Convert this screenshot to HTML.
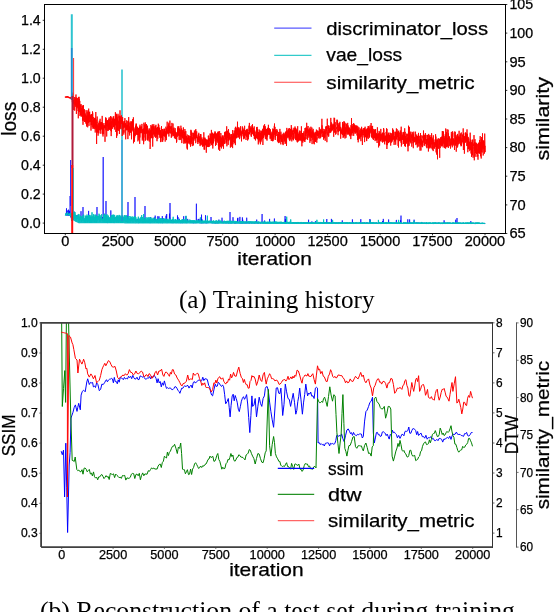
<!DOCTYPE html>
<html><head><meta charset="utf-8"><style>
html,body{margin:0;padding:0;background:#fff;width:554px;height:612px;overflow:hidden}
svg{display:block;will-change:transform}
text{font-family:"Liberation Sans", sans-serif;fill:#000;stroke:#000;stroke-width:0.25px}
</style></head><body>
<svg width="554" height="612" viewBox="0 0 554 612">
<rect width="554" height="612" fill="#fff"/>
<defs><clipPath id="ca"><rect x="44.5" y="4.5" width="461.0" height="229.0"/></clipPath><clipPath id="cb"><rect x="41.1" y="322.9" width="451.59999999999997" height="224.20000000000005"/></clipPath></defs>
<g clip-path="url(#ca)" fill="none" stroke-linejoin="round">
<path d="M65.3 214.2L65.5 214.1L65.6 214.4L65.8 215.3L66.0 214.8L66.1 214.2L66.3 214.5L66.5 208.3L66.6 214.6L66.8 215.3L67.0 215.4L67.1 215.4L67.3 214.1L67.5 215.2L67.6 210.5L67.8 214.6L68.0 215.6L68.1 215.4L68.3 214.3L68.5 209.7L68.6 215.4L68.8 214.8L69.0 215.4L69.1 214.6L69.3 214.8L69.5 210.8L69.6 215.5L69.8 215.5L70.0 214.7L70.1 196.0L70.3 213.6L70.5 213.2L70.6 213.7L70.8 217.4L71.0 215.9L71.1 216.3L71.3 217.8L71.5 220.7L71.6 219.5L71.8 218.4L72.0 213.9L72.1 216.3L72.3 218.9L72.5 219.0L72.6 216.4L72.8 218.5L73.0 215.2L73.1 220.0L73.3 214.2L73.5 216.5L73.6 219.2L73.8 211.1L74.0 215.2L74.1 214.7L74.3 219.6L74.5 217.3L74.6 218.7L74.8 217.0L75.0 216.8L75.1 219.3L75.3 220.8L75.5 221.0L75.6 216.6L75.8 219.5L76.0 216.7L76.1 216.8L76.3 217.8L76.5 221.3L76.6 215.7L76.8 220.3L77.0 216.1L77.1 215.1L77.3 218.1L77.5 217.2L77.6 217.7L77.8 219.3L78.0 216.5L78.1 221.9L78.3 220.9L78.5 222.1L78.6 218.4L78.8 220.3L79.0 218.6L79.1 222.7L79.3 222.7L79.5 222.7L79.6 218.0L79.8 220.5L80.0 222.7L80.1 222.7L80.3 219.1L80.5 222.4L80.6 219.5L80.8 222.3L81.0 211.2L81.1 221.6L81.3 218.8L81.5 221.8L81.6 222.8L81.8 222.4L82.0 218.5L82.1 221.6L82.3 219.3L82.5 222.3L82.6 221.1L82.8 220.4L83.0 207.0L83.1 217.4L83.3 221.5L83.5 221.9L83.6 222.2L83.8 219.4L84.0 219.5L84.1 222.0L84.3 222.3L84.5 222.6L84.6 222.6L84.8 218.8L85.0 218.6L85.1 220.9L85.3 218.8L85.5 220.5L85.6 220.0L85.8 217.9L86.0 220.9L86.1 220.5L86.3 216.9L86.5 216.9L86.6 219.9L86.8 220.7L87.0 222.8L87.1 221.0L87.3 221.9L87.5 221.0L87.6 222.1L87.8 216.9L88.0 222.2L88.1 216.4L88.3 222.8L88.5 221.3L88.6 210.9L88.8 221.4L89.0 222.7L89.1 219.5L89.3 218.1L89.5 222.8L89.6 219.9L89.8 222.7L90.0 218.6L90.1 220.0L90.3 218.3L90.5 217.3L90.6 218.9L90.8 218.5L91.0 221.1L91.1 221.8L91.3 217.4L91.5 221.8L91.6 217.9L91.8 220.9L92.0 222.8L92.1 220.1L92.3 218.9L92.5 219.2L92.6 216.9L92.8 221.7L93.0 221.0L93.1 219.0L93.3 220.2L93.5 220.9L93.6 217.1L93.8 222.6L94.0 219.2L94.1 222.8L94.3 218.8L94.5 219.2L94.6 221.3L94.8 221.2L95.0 220.2L95.1 217.6L95.3 222.5L95.5 221.4L95.6 221.0L95.8 221.6L96.0 222.1L96.1 220.8L96.3 221.7L96.5 220.1L96.6 221.1L96.8 218.2L97.0 207.0L97.1 220.4L97.3 217.9L97.5 220.6L97.6 221.6L97.8 220.2L98.0 218.1L98.1 220.4L98.3 218.5L98.5 221.6L98.6 219.5L98.8 220.3L99.0 219.6L99.1 221.0L99.3 222.6L99.5 222.9L99.6 215.6L99.8 222.8L100.0 221.2L100.1 221.5L100.3 219.8L100.5 217.2L100.7 221.2L100.8 221.7L101.0 219.9L101.2 220.5L101.3 222.8L101.5 218.6L101.7 221.6L101.8 220.4L102.0 219.7L102.2 217.4L102.3 221.8L102.5 220.9L102.7 217.9L102.8 217.2L103.0 219.0L103.2 157.0L103.3 222.8L103.5 220.2L103.7 221.9L103.8 220.0L104.0 219.8L104.2 221.3L104.3 218.0L104.5 218.3L104.7 222.8L104.8 217.7L105.0 218.9L105.2 218.1L105.3 221.8L105.5 221.3L105.7 218.9L105.8 217.9L106.0 201.0L106.2 219.4L106.3 221.4L106.5 220.9L106.7 220.8L106.8 221.4L107.0 217.7L107.2 218.2L107.3 222.8L107.5 222.8L107.7 222.8L107.8 222.6L108.0 222.3L108.2 222.4L108.3 222.0L108.5 221.4L108.7 219.1L108.8 220.0L109.0 222.6L109.2 219.5L109.3 220.2L109.5 222.9L109.7 217.9L109.8 222.3L110.0 220.7L110.2 220.6L110.3 222.8L110.5 222.6L110.7 222.5L110.8 210.4L111.0 217.6L111.2 217.8L111.3 222.1L111.5 221.2L111.7 220.4L111.8 222.8L112.0 222.6L112.2 220.9L112.3 222.7L112.5 221.0L112.7 220.5L112.8 222.9L113.0 218.7L113.2 221.4L113.3 220.9L113.5 219.6L113.7 217.8L113.8 222.5L114.0 222.4L114.2 219.8L114.3 217.7L114.5 222.3L114.7 220.9L114.8 222.9L115.0 222.9L115.2 217.3L115.3 218.7L115.5 219.3L115.7 222.8L115.8 219.3L116.0 219.1L116.2 221.7L116.3 218.4L116.5 216.7L116.7 222.1L116.8 222.9L117.0 222.0L117.2 219.4L117.3 217.6L117.5 217.2L117.7 218.3L117.8 219.9L118.0 222.3L118.2 221.8L118.3 222.3L118.5 220.2L118.7 222.7L118.8 218.5L119.0 219.7L119.2 218.5L119.3 219.2L119.5 219.5L119.7 221.8L119.8 217.5L120.0 218.7L120.2 222.7L120.3 222.2L120.5 222.7L120.7 219.5L120.8 221.0L121.0 222.2L121.2 219.3L121.3 222.7L121.5 217.0L121.7 217.3L121.8 222.8L122.0 219.6L122.2 220.1L122.3 221.9L122.5 221.8L122.7 217.4L122.8 222.8L123.0 217.9L123.2 220.9L123.3 220.6L123.5 220.9L123.7 218.9L123.8 222.5L124.0 222.3L124.2 222.7L124.3 221.2L124.5 222.9L124.7 217.6L124.8 221.3L125.0 221.8L125.2 218.0L125.3 218.5L125.5 222.4L125.7 222.8L125.8 219.6L126.0 221.8L126.2 218.9L126.3 221.7L126.5 222.1L126.7 221.3L126.8 222.9L127.0 215.8L127.2 222.7L127.3 219.8L127.5 222.1L127.7 219.1L127.8 218.2L128.0 202.0L128.2 222.5L128.3 223.0L128.5 218.1L128.7 222.8L128.8 219.7L129.0 223.0L129.2 218.6L129.3 220.9L129.5 220.3L129.7 220.6L129.8 222.4L130.0 222.8L130.2 219.2L130.3 221.0L130.5 220.9L130.7 222.8L130.8 218.5L131.0 220.2L131.2 221.6L131.3 222.9L131.5 221.4L131.7 218.3L131.8 219.8L132.0 223.0L132.2 219.9L132.3 219.1L132.5 222.4L132.7 219.3L132.8 218.4L133.0 221.7L133.2 222.8L133.3 221.9L133.5 218.9L133.7 221.5L133.8 222.2L134.0 221.6L134.2 219.4L134.3 220.8L134.5 222.8L134.7 222.1L134.8 222.3L135.0 197.0L135.2 221.3L135.3 222.9L135.5 223.0L135.7 222.0L135.8 221.0L136.0 221.0L136.2 221.9L136.3 221.8L136.5 222.2L136.7 222.7L136.8 222.1L137.0 220.6L137.2 222.3L137.3 219.1L137.5 221.1L137.7 222.7L137.8 221.6L138.0 222.7L138.2 222.8L138.3 222.8L138.5 222.7L138.7 222.6L138.8 218.7L139.0 223.0L139.2 221.6L139.3 220.7L139.5 222.9L139.7 222.2L139.8 221.9L140.0 221.6L140.2 220.5L140.3 221.4L140.5 221.3L140.7 222.3L140.8 223.0L141.0 220.6L141.2 221.3L141.3 221.4L141.5 221.1L141.7 219.1L141.8 220.1L142.0 221.5L142.2 222.6L142.3 222.7L142.5 221.1L142.7 220.0L142.8 220.6L143.0 220.2L143.2 222.9L143.3 222.9L143.5 221.2L143.7 220.1L143.8 222.6L144.0 218.8L144.2 221.6L144.3 223.0L144.5 221.0L144.7 218.8L144.8 218.9L145.0 206.0L145.2 221.8L145.3 219.6L145.5 222.2L145.7 219.6L145.8 221.5L146.0 222.0L146.2 223.0L146.3 222.0L146.5 220.8L146.7 222.7L146.8 221.8L147.0 222.5L147.2 222.8L147.3 222.2L147.5 222.8L147.7 221.2L147.8 220.8L148.0 222.2L148.2 222.9L148.3 222.3L148.5 222.8L148.7 221.0L148.8 219.7L149.0 223.0L149.2 221.8L149.3 221.7L149.5 223.0L149.7 219.1L149.8 222.9L150.0 222.9L150.2 223.0L150.3 222.1L150.5 220.9L150.7 217.0L150.8 222.0L151.0 222.6L151.2 220.1L151.3 222.6L151.5 221.9L151.7 220.9L151.8 223.0L152.0 222.8L152.2 221.8L152.3 222.5L152.5 222.7L152.7 219.4L152.8 223.0L153.0 222.4L153.2 222.8L153.3 222.7L153.5 219.6L153.7 222.2L153.8 221.3L154.0 221.2L154.2 219.8L154.3 219.7L154.5 222.3L154.7 217.5L154.8 222.9L155.0 221.0L155.2 215.6L155.3 223.0L155.5 220.5L155.7 219.4L155.8 220.9L156.0 220.5L156.2 219.7L156.3 222.3L156.5 220.0L156.7 221.8L156.8 221.7L157.0 223.0L157.2 222.5L157.3 222.1L157.5 221.6L157.7 222.7L157.8 216.2L158.0 220.1L158.2 222.9L158.3 222.9L158.5 223.0L158.7 222.8L158.8 220.6L159.0 216.4L159.2 221.4L159.3 221.6L159.5 219.7L159.7 222.1L159.8 222.7L160.0 221.8L160.2 222.3L160.3 222.9L160.5 220.2L160.7 222.4L160.8 223.1L161.0 220.4L161.2 220.4L161.3 222.2L161.5 220.6L161.7 221.9L161.8 221.4L162.0 222.0L162.2 222.9L162.3 216.1L162.5 223.1L162.7 223.1L162.8 222.1L163.0 222.8L163.2 220.5L163.3 220.3L163.5 222.5L163.7 223.0L163.8 218.6L164.0 222.3L164.2 219.8L164.3 222.3L164.5 221.4L164.7 219.9L164.8 220.2L165.0 222.9L165.2 222.1L165.3 221.8L165.5 220.9L165.7 220.5L165.8 220.3L166.0 215.7L166.2 220.7L166.3 220.4L166.5 223.0L166.7 214.0L166.8 222.5L167.0 223.1L167.2 222.6L167.3 221.4L167.5 222.3L167.7 221.6L167.8 220.8L168.0 222.5L168.2 222.8L168.3 221.0L168.5 223.0L168.7 220.2L168.8 220.7L169.0 222.5L169.2 222.0L169.3 221.1L169.5 213.6L169.7 220.0L169.8 222.0L170.0 203.0L170.2 216.7L170.4 220.0L170.5 222.7L170.7 222.8L170.9 220.5L171.0 221.1L171.2 222.0L171.4 221.5L171.5 220.3L171.7 222.1L171.9 223.1L172.0 220.0L172.2 220.2L172.4 220.5L172.5 222.8L172.7 222.6L172.9 223.1L173.0 221.8L173.2 220.4L173.4 221.9L173.5 223.0L173.7 223.0L173.9 221.1L174.0 222.8L174.2 221.1L174.4 221.7L174.5 222.4L174.7 222.2L174.9 220.9L175.0 220.3L175.2 222.9L175.4 221.1L175.5 221.7L175.7 222.8L175.9 222.9L176.0 222.8L176.2 220.4L176.4 221.3L176.5 223.1L176.7 222.3L176.9 221.3L177.0 222.9L177.2 222.3L177.4 222.6L177.5 215.4L177.7 223.0L177.9 221.6L178.0 217.1L178.2 222.1L178.4 222.9L178.5 221.8L178.7 223.1L178.9 222.8L179.0 221.2L179.2 223.0L179.4 218.8L179.5 221.8L179.7 221.9L179.9 223.1L180.0 222.0L180.2 220.6L180.4 223.0L180.5 222.5L180.7 223.1L180.9 221.6L181.0 223.1L181.2 222.5L181.4 222.9L181.5 221.3L181.7 222.9L181.9 222.7L182.0 221.6L182.2 223.1L182.4 222.0L182.5 223.0L182.7 222.9L182.9 220.5L183.0 223.1L183.2 222.8L183.4 222.6L183.5 221.5L183.7 216.2L183.9 223.0L184.0 222.8L184.2 221.9L184.4 220.6L184.5 222.0L184.7 223.1L184.9 222.5L185.0 222.1L185.2 221.3L185.4 220.6L185.5 223.0L185.7 221.2L185.9 216.1L186.0 221.8L186.2 222.1L186.4 221.8L186.5 222.7L186.7 223.1L186.9 222.8L187.0 223.1L187.2 221.4L187.4 222.8L187.5 220.9L187.7 218.9L187.9 221.7L188.0 222.2L188.2 221.1L188.4 221.5L188.5 223.0L188.7 221.7L188.9 221.3L189.0 221.7L189.2 221.3L189.4 221.8L189.5 222.4L189.7 223.1L189.9 222.9L190.0 221.7L190.2 222.8L190.4 221.5L190.5 221.4L190.7 220.8L190.9 221.1L191.0 220.8L191.2 222.9L191.4 223.1L191.5 221.3L191.7 222.7L191.9 221.2L192.0 221.7L192.2 220.9L192.4 223.0L192.5 222.8L192.7 221.8L192.9 223.2L193.0 221.9L193.2 222.2L193.4 222.4L193.5 223.1L193.7 221.7L193.9 223.2L194.0 221.8L194.2 221.5L194.4 222.9L194.5 221.3L194.7 222.9L194.9 222.7L195.0 221.5L195.2 221.3L195.4 221.2L195.5 221.7L195.7 223.2L195.9 221.4L196.0 221.4L196.2 221.2L196.4 203.7L196.5 223.1L196.7 221.6L196.9 222.9L197.0 222.6L197.2 221.3L197.4 223.0L197.5 222.9L197.7 222.8L197.9 221.6L198.0 221.2L198.2 218.9L198.4 222.9L198.5 221.7L198.7 223.0L198.9 219.4L199.0 222.5L199.2 221.6L199.4 222.9L199.5 222.4L199.7 222.2L199.9 223.2L200.0 223.2L200.2 218.7L200.4 223.2L200.5 222.7L200.7 222.3L200.9 222.5L201.0 222.1L201.2 222.3L201.4 221.9L201.5 214.6L201.7 223.2L201.9 219.2L202.0 223.2L202.2 222.3L202.4 223.1L202.5 222.5L202.7 222.9L202.9 222.6L203.0 222.6L203.2 222.3L203.4 223.2L203.5 222.5L203.7 222.9L203.9 222.4L204.0 222.7L204.2 223.2L204.4 222.6L204.5 222.4L204.7 221.6L204.9 222.5L205.0 222.9L205.2 223.2L205.4 223.1L205.5 215.2L205.7 222.4L205.9 221.4L206.0 223.2L206.2 223.1L206.4 221.5L206.5 223.2L206.7 222.6L206.9 222.1L207.0 222.4L207.2 222.1L207.4 223.2L207.5 222.4L207.7 222.4L207.9 221.8L208.0 222.6L208.2 222.9L208.4 222.6L208.5 223.1L208.7 221.9L208.9 222.4L209.0 223.0L209.2 222.1L209.4 222.9L209.5 222.5L209.7 221.3L209.9 221.4L210.0 222.6L210.2 223.0L210.4 222.0L210.5 221.3L210.7 221.6L210.9 222.3L211.0 217.0L211.2 221.3L211.4 222.9L211.5 223.2L211.7 222.0L211.9 221.5L212.0 222.4L212.2 222.9L212.4 222.8L212.5 223.2L212.7 222.0L212.9 221.3L213.0 223.1L213.2 222.4L213.4 222.7L213.5 222.3L213.7 221.4L213.9 221.8L214.0 222.3L214.2 223.2L214.4 222.9L214.5 222.9L214.7 222.1L214.9 223.2L215.0 223.0L215.2 223.2L215.4 222.1L215.5 223.3L215.7 222.8L215.9 222.9L216.0 221.6L216.2 223.2L216.4 222.0L216.5 222.7L216.7 222.9L216.9 223.3L217.0 222.8L217.2 221.4L217.4 222.0L217.5 223.1L217.7 223.2L217.9 222.5L218.0 222.3L218.2 221.6L218.4 221.5L218.5 221.7L218.7 223.2L218.9 219.6L219.0 223.1L219.2 222.4L219.4 223.0L219.5 222.7L219.7 221.7L219.9 223.0L220.0 221.7L220.2 222.4L220.4 223.0L220.5 222.2L220.7 222.3L220.9 222.8L221.0 221.8L221.2 222.0L221.4 222.4L221.5 222.2L221.7 221.9L221.9 222.5L222.0 217.7L222.2 222.6L222.4 222.7L222.5 222.9L222.7 222.9L222.9 221.9L223.0 222.9L223.2 222.5L223.4 222.9L223.5 222.4L223.7 223.2L223.9 223.3L224.0 222.9L224.2 223.0L224.4 221.8L224.5 222.0L224.7 221.8L224.9 222.7L225.0 222.3L225.2 222.1L225.4 223.0L225.5 223.2L225.7 221.5L225.9 221.6L226.0 223.3L226.2 223.2L226.4 221.9L226.5 222.3L226.7 222.0L226.9 222.7L227.0 223.1L227.2 223.2L227.4 221.7L227.5 222.6L227.7 222.6L227.9 222.4L228.0 222.3L228.2 223.0L228.4 223.3L228.5 221.7L228.7 223.2L228.9 222.2L229.0 222.8L229.2 223.0L229.4 221.7L229.5 222.2L229.7 222.1L229.9 223.0L230.0 212.0L230.2 222.9L230.4 222.1L230.5 221.9L230.7 223.3L230.9 222.0L231.0 223.0L231.2 223.3L231.4 222.3L231.5 222.0L231.7 223.1L231.9 222.3L232.0 222.4L232.2 222.6L232.4 221.8L232.5 222.2L232.7 222.6L232.9 221.6L233.0 217.2L233.2 222.4L233.4 222.4L233.5 222.3L233.7 222.1L233.9 222.7L234.0 223.2L234.2 222.4L234.4 223.3L234.5 222.0L234.7 222.3L234.9 223.3L235.0 222.3L235.2 223.2L235.4 222.1L235.5 223.3L235.7 223.3L235.9 222.9L236.0 222.9L236.2 222.9L236.4 223.3L236.5 223.3L236.7 222.8L236.9 222.4L237.0 221.7L237.2 222.1L237.4 223.0L237.5 218.4L237.7 222.3L237.9 217.8L238.0 222.5L238.2 222.9L238.4 222.3L238.5 223.0L238.7 223.3L238.9 222.8L239.0 222.8L239.2 222.6L239.4 223.1L239.5 223.0L239.7 222.2L239.9 216.9L240.0 223.3L240.2 222.8L240.4 222.2L240.6 223.3L240.7 222.8L240.9 223.2L241.1 222.7L241.2 222.9L241.4 222.5L241.6 222.5L241.7 223.3L241.9 223.0L242.1 223.3L242.2 221.8L242.4 217.4L242.6 223.2L242.7 219.7L242.9 223.3L243.1 222.7L243.2 223.2L243.4 222.3L243.6 221.8L243.7 222.1L243.9 223.1L244.1 223.2L244.2 223.3L244.4 222.4L244.6 223.3L244.7 221.7L244.9 222.2L245.1 222.4L245.2 221.9L245.4 223.4L245.6 223.3L245.7 222.8L245.9 222.5L246.1 223.3L246.2 222.7L246.4 223.4L246.6 223.0L246.7 217.7L246.9 222.2L247.1 222.3L247.2 222.2L247.4 223.0L247.6 223.3L247.7 222.3L247.9 222.9L248.1 223.3L248.2 223.4L248.4 223.1L248.6 222.6L248.7 222.8L248.9 223.0L249.1 223.4L249.2 222.8L249.4 221.8L249.6 223.3L249.7 222.3L249.9 223.4L250.1 222.3L250.2 223.0L250.4 222.4L250.6 222.6L250.7 223.1L250.9 222.2L251.1 222.9L251.2 221.8L251.4 222.3L251.6 223.4L251.7 222.4L251.9 222.7L252.1 222.0L252.2 222.7L252.4 222.6L252.6 222.7L252.7 223.2L252.9 222.9L253.1 222.1L253.2 223.3L253.4 223.0L253.6 222.3L253.7 222.1L253.9 223.3L254.1 223.2L254.2 222.4L254.4 222.4L254.6 223.2L254.7 223.3L254.9 223.4L255.1 222.0L255.2 222.0L255.4 223.4L255.6 223.1L255.7 223.2L255.9 223.0L256.1 222.8L256.2 222.9L256.4 222.8L256.6 222.8L256.7 219.6L256.9 222.1L257.1 223.2L257.2 223.3L257.4 222.2L257.6 222.9L257.7 223.4L257.9 222.5L258.1 222.8L258.2 222.5L258.4 223.2L258.6 222.2L258.7 223.3L258.9 222.3L259.1 223.2L259.2 222.2L259.4 222.3L259.6 222.4L259.7 222.5L259.9 222.4L260.1 222.4L260.2 222.5L260.4 223.4L260.6 223.1L260.7 222.2L260.9 223.4L261.1 223.3L261.2 222.3L261.4 222.2L261.6 222.4L261.7 222.6L261.9 222.8L262.1 214.0L262.2 223.1L262.4 223.3L262.6 223.0L262.7 222.8L262.9 222.9L263.1 222.0L263.2 222.3L263.4 222.8L263.6 223.4L263.7 223.2L263.9 223.4L264.1 223.3L264.2 223.1L264.4 223.4L264.6 220.5L264.7 222.0L264.9 223.0L265.1 223.4L265.2 222.3L265.4 223.0L265.6 222.1L265.7 222.7L265.9 222.7L266.1 222.4L266.2 223.4L266.4 222.9L266.6 222.4L266.7 223.5L266.9 222.6L267.1 222.9L267.2 223.3L267.4 223.3L267.6 222.1L267.7 222.2L267.9 222.2L268.1 223.4L268.2 222.7L268.4 222.9L268.6 223.4L268.7 222.5L268.9 223.4L269.1 222.5L269.2 223.4L269.4 222.2L269.6 218.9L269.7 223.0L269.9 223.1L270.1 222.9L270.2 223.5L270.4 222.3L270.6 222.5L270.7 222.4L270.9 222.3L271.1 222.7L271.2 222.8L271.4 222.5L271.6 223.2L271.7 222.3L271.9 223.3L272.1 222.8L272.2 222.9L272.4 222.5L272.6 222.3L272.7 223.2L272.9 223.0L273.1 223.2L273.2 223.2L273.4 222.2L273.6 222.8L273.7 222.6L273.9 223.4L274.1 222.4L274.2 222.5L274.4 218.5L274.6 223.3L274.7 222.9L274.9 222.8L275.1 223.2L275.2 222.3L275.4 222.5L275.6 223.1L275.7 223.5L275.9 223.3L276.1 223.3L276.2 222.8L276.4 222.9L276.6 222.2L276.7 222.9L276.9 223.2L277.1 223.0L277.2 222.6L277.4 222.7L277.6 222.4L277.7 223.2L277.9 222.9L278.1 222.6L278.2 223.5L278.4 223.1L278.6 222.8L278.7 222.5L278.9 222.2L279.1 223.5L279.2 222.3L279.4 223.5L279.6 222.7L279.7 223.5L279.9 223.5L280.1 223.2L280.2 222.5L280.4 223.3L280.6 223.5L280.7 223.1L280.9 223.2L281.1 223.5L281.2 223.5L281.4 222.7L281.6 223.3L281.7 223.3L281.9 223.1L282.1 223.5L282.2 222.7L282.4 222.9L282.6 223.4L282.7 222.9L282.9 223.2L283.1 223.2L283.2 223.1L283.4 222.5L283.6 223.5L283.7 223.5L283.9 223.3L284.1 223.4L284.2 223.1L284.4 222.7L284.6 223.1L284.7 223.3L284.9 222.9L285.1 216.0L285.2 222.4L285.4 219.1L285.6 222.4L285.7 223.5L285.9 222.7L286.1 223.5L286.2 223.4L286.4 222.3L286.6 222.4L286.7 223.3L286.9 222.6L287.1 223.2L287.2 223.5L287.4 223.5L287.6 223.3L287.7 223.3L287.9 223.0L288.1 222.9L288.2 222.4L288.4 223.2L288.6 222.7L288.7 222.8L288.9 223.3L289.1 223.5L289.2 223.0L289.4 222.6L289.6 223.2L289.7 223.5L289.9 223.5L290.1 223.4L290.2 222.4L290.4 222.6L290.6 222.5L290.7 223.4L290.9 223.3L291.1 222.9L291.2 223.5L291.4 223.5L291.6 223.5L291.7 223.2L291.9 223.0L292.1 223.4L292.2 222.8L292.4 223.1L292.6 223.3L292.7 223.4L292.9 222.8L293.1 223.3L293.2 222.6L293.4 222.4L293.6 222.9L293.7 222.8L293.9 223.2L294.1 222.7L294.2 223.4L294.4 223.5L294.6 222.9L294.7 222.9L294.9 223.4L295.1 222.9L295.2 222.6L295.4 223.4L295.6 222.9L295.7 223.2L295.9 223.3L296.1 222.5L296.2 223.0L296.4 223.6L296.6 222.9L296.7 222.7L296.9 223.2L297.1 223.6L297.2 222.8L297.4 223.3L297.6 222.8L297.7 223.3L297.9 223.3L298.1 222.9L298.2 223.4L298.4 222.7L298.6 223.4L298.7 222.7L298.9 222.8L299.1 223.4L299.2 222.9L299.4 223.1L299.6 223.4L299.7 223.1L299.9 223.5L300.1 223.6L300.2 222.5L300.4 222.9L300.6 222.8L300.7 223.4L300.9 223.6L301.1 223.6L301.2 223.4L301.4 223.5L301.6 223.2L301.7 223.4L301.9 222.6L302.1 223.3L302.2 223.4L302.4 223.4L302.6 223.5L302.7 223.6L302.9 223.0L303.1 223.4L303.2 223.3L303.4 222.6L303.6 222.9L303.7 222.6L303.9 223.0L304.1 222.8L304.2 222.9L304.4 223.3L304.6 222.7L304.7 223.4L304.9 223.4L305.1 223.1L305.2 223.1L305.4 223.0L305.6 223.1L305.7 223.6L305.9 222.8L306.1 222.9L306.2 222.6L306.4 223.4L306.6 223.5L306.7 222.9L306.9 223.6L307.1 223.4L307.2 222.5L307.4 223.4L307.6 223.2L307.7 223.3L307.9 222.9L308.1 223.0L308.2 223.4L308.4 222.9L308.6 219.7L308.7 223.3L308.9 223.4L309.1 223.3L309.2 223.3L309.4 223.6L309.6 223.6L309.7 223.5L309.9 223.0L310.1 222.6L310.3 223.6L310.4 223.6L310.6 223.2L310.8 222.8L310.9 222.7L311.1 223.5L311.3 223.4L311.4 223.0L311.6 222.8L311.8 222.7L311.9 221.4L312.1 223.0L312.3 223.1L312.4 223.5L312.6 222.9L312.8 223.5L312.9 223.0L313.1 223.3L313.3 222.9L313.4 222.8L313.6 223.5L313.8 223.2L313.9 222.7L314.1 223.0L314.3 223.3L314.4 223.5L314.6 223.5L314.8 223.2L314.9 222.8L315.1 222.8L315.3 222.8L315.4 221.1L315.6 222.6L315.8 223.2L315.9 223.2L316.1 222.6L316.3 222.8L316.4 222.8L316.6 223.4L316.8 223.2L316.9 223.6L317.1 222.8L317.3 223.5L317.4 223.0L317.6 223.6L317.8 223.4L317.9 223.6L318.1 223.4L318.3 223.1L318.4 223.2L318.6 223.6L318.8 223.2L318.9 223.6L319.1 223.3L319.3 222.8L319.4 223.1L319.6 223.4L319.8 223.0L319.9 223.1L320.1 223.3L320.3 223.3L320.4 223.0L320.6 223.1L320.8 223.0L320.9 223.6L321.1 222.6L321.3 222.7L321.4 223.5L321.6 222.9L321.8 223.4L321.9 222.8L322.1 223.2L322.3 223.1L322.4 223.1L322.6 223.1L322.8 223.1L322.9 223.0L323.1 223.3L323.3 223.2L323.4 223.6L323.6 223.1L323.8 223.4L323.9 223.6L324.1 222.9L324.3 223.0L324.4 223.4L324.6 223.0L324.8 222.5L324.9 223.6L325.1 222.9L325.3 222.5L325.4 223.6L325.6 223.5L325.8 223.4L325.9 222.6L326.1 223.6L326.3 223.2L326.4 223.5L326.6 223.6L326.8 219.0L326.9 223.3L327.1 223.4L327.3 223.4L327.4 222.8L327.6 223.3L327.8 223.4L327.9 223.2L328.1 223.2L328.3 223.0L328.4 223.1L328.6 223.3L328.8 222.5L328.9 222.6L329.1 223.0L329.3 222.8L329.4 223.5L329.6 222.6L329.8 222.7L329.9 223.2L330.1 223.5L330.3 223.2L330.4 222.9L330.6 223.2L330.8 223.2L330.9 223.3L331.1 223.1L331.3 222.8L331.4 218.9L331.6 223.5L331.8 222.8L331.9 223.1L332.1 223.4L332.3 222.8L332.4 223.5L332.6 223.6L332.8 222.9L332.9 222.6L333.1 223.4L333.3 223.2L333.4 223.4L333.6 223.1L333.8 222.8L333.9 222.7L334.1 223.0L334.3 223.0L334.4 223.4L334.6 223.3L334.8 223.6L334.9 223.5L335.1 223.5L335.3 223.1L335.4 223.1L335.6 223.6L335.8 223.5L335.9 223.0L336.1 222.8L336.3 223.0L336.4 223.2L336.6 223.6L336.8 223.3L336.9 222.6L337.1 223.6L337.3 223.5L337.4 222.8L337.6 222.9L337.8 222.8L337.9 223.3L338.1 223.6L338.3 222.9L338.4 222.7L338.6 223.2L338.8 223.4L338.9 223.6L339.1 223.5L339.3 223.2L339.4 222.9L339.6 223.6L339.8 223.3L339.9 223.6L340.1 223.2L340.3 223.2L340.4 223.3L340.6 223.5L340.8 223.6L340.9 222.7L341.1 222.7L341.3 223.2L341.4 222.6L341.6 223.4L341.8 223.4L341.9 223.4L342.1 223.6L342.3 220.4L342.4 223.3L342.6 223.0L342.8 223.4L342.9 223.4L343.1 222.9L343.3 223.3L343.4 223.1L343.6 223.3L343.8 223.5L343.9 223.4L344.1 223.2L344.3 222.8L344.4 223.4L344.6 223.6L344.8 223.6L344.9 222.6L345.1 223.1L345.3 222.8L345.4 222.9L345.6 223.2L345.8 223.5L345.9 223.3L346.1 223.6L346.3 223.2L346.4 222.7L346.6 223.3L346.8 223.3L346.9 223.5L347.1 222.8L347.3 222.7L347.4 223.2L347.6 223.3L347.8 223.6L347.9 223.1L348.1 223.5L348.3 223.5L348.4 223.4L348.6 223.5L348.8 223.0L348.9 223.1L349.1 222.8L349.3 222.9L349.4 222.9L349.6 223.5L349.8 223.2L349.9 222.8L350.1 223.1L350.3 223.5L350.4 223.0L350.6 223.4L350.8 223.1L350.9 222.8L351.1 223.2L351.3 223.3L351.4 223.3L351.6 223.1L351.8 222.7L351.9 223.3L352.1 223.1L352.3 223.0L352.4 219.4L352.6 223.6L352.8 223.2L352.9 223.6L353.1 223.6L353.3 223.6L353.4 222.6L353.6 223.1L353.8 222.9L353.9 223.2L354.1 223.1L354.3 223.4L354.4 223.1L354.6 223.5L354.8 223.2L354.9 223.2L355.1 223.2L355.3 223.6L355.4 223.2L355.6 223.5L355.8 223.6L355.9 222.9L356.1 223.6L356.3 222.7L356.4 223.3L356.6 223.4L356.8 223.6L356.9 223.6L357.1 223.0L357.3 223.0L357.4 223.4L357.6 222.8L357.8 223.5L357.9 223.2L358.1 223.6L358.3 223.4L358.4 223.0L358.6 223.3L358.8 223.5L358.9 223.3L359.1 222.8L359.3 223.2L359.4 223.5L359.6 222.8L359.8 223.6L359.9 223.0L360.1 223.3L360.3 223.2L360.4 223.5L360.6 223.5L360.8 219.2L360.9 223.2L361.1 223.0L361.3 223.6L361.4 223.5L361.6 223.3L361.8 222.7L361.9 223.3L362.1 223.2L362.3 223.2L362.4 223.6L362.6 223.2L362.8 223.6L362.9 222.9L363.1 222.9L363.3 222.9L363.4 223.5L363.6 223.3L363.8 223.6L363.9 223.2L364.1 223.5L364.3 222.9L364.4 223.2L364.6 223.5L364.8 223.2L364.9 223.4L365.1 223.1L365.3 222.8L365.4 223.6L365.6 223.5L365.8 222.8L365.9 223.6L366.1 223.2L366.3 222.7L366.4 223.5L366.6 222.8L366.8 223.5L366.9 223.2L367.1 223.1L367.3 223.6L367.4 222.8L367.6 222.9L367.8 223.6L367.9 223.3L368.1 222.7L368.3 223.4L368.4 223.3L368.6 223.5L368.8 223.6L368.9 223.6L369.1 223.1L369.3 223.5L369.4 222.7L369.6 222.8L369.8 223.0L369.9 219.0L370.1 223.0L370.3 219.9L370.4 222.7L370.6 222.7L370.8 223.2L370.9 223.2L371.1 223.0L371.3 223.6L371.4 223.0L371.6 223.4L371.8 223.6L371.9 223.3L372.1 222.7L372.3 223.2L372.4 223.5L372.6 223.3L372.8 222.9L372.9 223.6L373.1 222.7L373.3 223.6L373.4 223.6L373.6 223.6L373.8 222.8L373.9 223.2L374.1 223.1L374.3 223.4L374.4 223.6L374.6 223.4L374.8 223.6L374.9 223.2L375.1 223.1L375.3 223.2L375.4 223.4L375.6 223.5L375.8 223.1L375.9 223.6L376.1 222.7L376.3 223.3L376.4 223.2L376.6 222.9L376.8 223.6L376.9 222.8L377.1 222.8L377.3 223.4L377.4 223.6L377.6 222.9L377.8 223.6L377.9 223.0L378.1 223.0L378.3 223.6L378.4 223.6L378.6 223.6L378.8 223.0L378.9 223.4L379.1 222.7L379.3 223.6L379.4 222.7L379.6 222.7L379.8 223.5L379.9 223.6L380.1 222.9L380.3 223.1L380.5 223.0L380.6 223.6L380.8 223.6L381.0 223.5L381.1 222.8L381.3 223.6L381.5 222.9L381.6 223.6L381.8 223.5L382.0 223.2L382.1 222.8L382.3 223.2L382.5 223.2L382.6 221.0L382.8 223.1L383.0 222.9L383.1 223.5L383.3 218.9L383.5 222.7L383.6 223.0L383.8 223.6L384.0 223.4L384.1 222.9L384.3 223.5L384.5 223.3L384.6 223.5L384.8 223.6L385.0 223.2L385.1 223.4L385.3 222.9L385.5 223.6L385.6 222.8L385.8 223.4L386.0 223.0L386.1 223.5L386.3 223.6L386.5 223.6L386.6 223.5L386.8 223.5L387.0 223.2L387.1 223.2L387.3 222.8L387.5 223.2L387.6 223.2L387.8 223.5L388.0 223.6L388.1 223.2L388.3 223.6L388.5 222.7L388.6 219.5L388.8 223.6L389.0 223.4L389.1 223.6L389.3 223.6L389.5 223.4L389.6 222.8L389.8 223.6L390.0 222.7L390.1 223.4L390.3 223.5L390.5 222.8L390.6 223.5L390.8 223.6L391.0 222.8L391.1 222.8L391.3 223.0L391.5 223.0L391.6 223.3L391.8 222.9L392.0 223.4L392.1 223.3L392.3 223.6L392.5 223.3L392.6 223.1L392.8 223.5L393.0 223.6L393.1 223.6L393.3 223.3L393.5 223.6L393.6 223.4L393.8 223.2L394.0 223.6L394.1 223.0L394.3 223.6L394.5 223.6L394.6 223.1L394.8 222.8L395.0 223.6L395.1 223.1L395.3 223.3L395.5 223.6L395.6 223.2L395.8 223.4L396.0 223.4L396.1 222.9L396.3 220.1L396.5 219.9L396.6 223.6L396.8 222.8L397.0 223.5L397.1 223.3L397.3 223.6L397.5 223.6L397.6 223.3L397.8 223.0L398.0 223.0L398.1 223.3L398.3 223.5L398.5 223.2L398.6 223.4L398.8 223.6L399.0 223.0L399.1 223.0L399.3 223.6L399.5 223.6L399.6 223.0L399.8 223.0L400.0 223.6L400.1 223.4L400.3 223.1L400.5 223.5L400.6 220.3L400.8 223.6L401.0 215.6L401.1 223.6L401.3 223.1L401.5 223.7L401.6 223.1L401.8 223.4L402.0 223.1L402.1 223.6L402.3 222.9L402.5 223.1L402.6 223.6L402.8 222.9L403.0 223.6L403.1 223.4L403.3 223.5L403.5 223.0L403.6 223.0L403.8 223.6L404.0 222.9L404.1 223.6L404.3 223.1L404.5 223.6L404.6 223.4L404.8 223.6L405.0 223.1L405.1 223.4L405.3 223.3L405.5 222.7L405.6 222.9L405.8 223.6L406.0 223.4L406.1 223.2L406.3 223.5L406.5 223.6L406.6 223.5L406.8 223.5L407.0 223.6L407.1 223.6L407.3 223.6L407.5 222.9L407.6 221.6L407.8 219.3L408.0 223.0L408.1 222.9L408.3 223.2L408.5 222.9L408.6 223.6L408.8 223.6L409.0 223.2L409.1 223.4L409.3 223.6L409.5 223.4L409.6 219.4L409.8 222.9L410.0 223.4L410.1 222.9L410.3 223.6L410.5 222.9L410.6 222.9L410.8 223.6L411.0 223.0L411.1 223.0L411.3 223.0L411.5 222.8L411.6 223.4L411.8 223.3L412.0 223.5L412.1 223.3L412.3 222.8L412.5 223.2L412.6 223.0L412.8 222.9L413.0 223.2L413.1 223.3L413.3 223.6L413.5 223.2L413.6 223.2L413.8 223.7L414.0 223.7L414.1 219.7L414.3 223.7L414.5 223.0L414.6 223.2L414.8 222.9L415.0 223.3L415.1 223.3L415.3 223.6L415.5 223.2L415.6 222.9L415.8 223.6L416.0 222.8L416.1 223.5L416.3 223.2L416.5 222.8L416.6 223.0L416.8 223.5L417.0 223.3L417.1 223.0L417.3 222.7L417.5 223.1L417.6 222.8L417.8 223.3L418.0 223.2L418.1 223.5L418.3 223.4L418.5 223.5L418.6 222.8L418.8 222.8L419.0 222.8L419.1 223.4L419.3 222.8L419.5 223.2L419.6 223.6L419.8 223.4L420.0 223.6L420.1 223.3L420.3 222.8L420.5 223.4L420.6 223.4L420.8 223.6L421.0 223.3L421.1 223.1L421.3 222.8L421.5 223.5L421.6 223.5L421.8 222.8L422.0 223.6L422.1 223.5L422.3 223.3L422.5 222.8L422.6 223.2L422.8 222.9L423.0 222.9L423.1 223.1L423.3 223.0L423.5 223.6L423.6 223.0L423.8 223.0L424.0 223.5L424.1 223.6L424.3 223.5L424.5 222.9L424.6 223.1L424.8 223.4L425.0 223.6L425.1 222.9L425.3 223.7L425.5 223.6L425.6 222.9L425.8 223.3L426.0 223.5L426.1 223.3L426.3 223.2L426.5 223.1L426.6 223.3L426.8 223.7L427.0 223.6L427.1 223.5L427.3 223.4L427.5 223.3L427.6 223.0L427.8 223.6L428.0 223.6L428.1 223.0L428.3 223.2L428.5 223.5L428.6 223.7L428.8 223.6L429.0 223.0L429.1 223.3L429.3 223.7L429.5 223.3L429.6 223.4L429.8 223.1L430.0 223.6L430.1 223.4L430.3 222.9L430.5 223.1L430.6 223.2L430.8 223.4L431.0 223.6L431.1 223.6L431.3 223.5L431.5 223.5L431.6 223.4L431.8 223.0L432.0 223.4L432.1 223.2L432.3 223.6L432.5 223.5L432.6 222.8L432.8 223.6L433.0 223.6L433.1 223.7L433.3 223.7L433.5 223.6L433.6 223.6L433.8 223.6L434.0 223.4L434.1 223.1L434.3 223.0L434.5 223.3L434.6 223.6L434.8 223.0L435.0 223.2L435.1 223.0L435.3 223.1L435.5 223.6L435.6 222.8L435.8 223.0L436.0 223.5L436.1 223.1L436.3 223.4L436.5 223.6L436.6 223.2L436.8 222.8L437.0 223.2L437.1 222.9L437.3 223.6L437.5 223.3L437.6 223.5L437.8 222.8L438.0 223.6L438.1 223.7L438.3 223.3L438.5 223.4L438.6 223.6L438.8 222.9L439.0 223.5L439.1 223.6L439.3 223.2L439.5 222.8L439.6 223.4L439.8 223.1L440.0 223.7L440.1 223.0L440.3 223.3L440.5 223.2L440.6 223.4L440.8 223.7L441.0 223.5L441.1 223.6L441.3 223.6L441.5 223.0L441.6 223.5L441.8 223.0L442.0 223.1L442.1 223.2L442.3 223.4L442.5 223.7L442.6 223.0L442.8 223.7L443.0 223.5L443.1 222.9L443.3 223.1L443.5 223.3L443.6 223.2L443.8 222.9L444.0 223.1L444.1 220.3L444.3 223.5L444.5 223.6L444.6 223.0L444.8 223.0L445.0 223.2L445.1 222.9L445.3 223.7L445.5 223.6L445.6 223.3L445.8 222.8L446.0 222.9L446.1 223.2L446.3 223.6L446.5 223.3L446.6 223.2L446.8 223.1L447.0 222.8L447.1 223.1L447.3 223.3L447.5 223.1L447.6 223.5L447.8 223.4L448.0 223.3L448.1 223.5L448.3 222.8L448.5 223.5L448.6 223.2L448.8 223.6L449.0 222.8L449.1 223.5L449.3 223.3L449.5 222.9L449.6 223.2L449.8 223.3L450.0 223.7L450.2 223.4L450.3 223.4L450.5 223.2L450.7 223.4L450.8 223.6L451.0 223.3L451.2 223.5L451.3 223.0L451.5 223.4L451.7 223.4L451.8 223.1L452.0 223.3L452.2 223.4L452.3 223.7L452.5 223.4L452.7 223.0L452.8 222.8L453.0 223.0L453.2 223.7L453.3 222.9L453.5 223.4L453.7 223.2L453.8 223.2L454.0 223.4L454.2 223.6L454.3 223.5L454.5 223.5L454.7 223.1L454.8 223.6L455.0 223.7L455.2 223.0L455.3 223.2L455.5 223.3L455.7 219.7L455.8 223.6L456.0 223.2L456.2 223.6L456.3 223.0L456.5 223.6L456.7 223.2L456.8 223.6L457.0 218.0L457.2 223.5L457.3 223.7L457.5 223.4L457.7 223.0L457.8 223.4L458.0 223.6L458.2 223.4L458.3 222.9L458.5 223.4L458.7 223.4L458.8 223.1L459.0 223.7L459.2 223.5L459.3 223.5L459.5 223.5L459.7 223.3L459.8 223.1L460.0 223.5L460.2 223.1L460.3 223.4L460.5 222.9L460.7 223.5L460.8 223.4L461.0 223.2L461.2 223.7L461.3 223.0L461.5 223.4L461.7 223.5L461.8 223.7L462.0 223.7L462.2 223.4L462.3 223.0L462.5 223.3L462.7 222.9L462.8 222.8L463.0 223.4L463.2 223.6L463.3 222.9L463.5 223.6L463.7 223.3L463.8 223.6L464.0 223.0L464.2 223.1L464.3 223.4L464.5 223.0L464.7 223.2L464.8 223.3L465.0 223.2L465.2 223.0L465.3 223.5L465.5 223.2L465.7 223.5L465.8 223.2L466.0 223.4L466.2 223.1L466.3 223.3L466.5 223.4L466.7 223.7L466.8 223.7L467.0 223.0L467.2 223.4L467.3 222.9L467.5 223.4L467.7 223.7L467.8 223.1L468.0 223.5L468.2 223.3L468.3 223.7L468.5 223.0L468.7 223.6L468.8 223.5L469.0 223.5L469.2 223.4L469.3 222.9L469.5 223.0L469.7 223.5L469.8 223.5L470.0 223.1L470.2 223.5L470.3 223.6L470.5 222.9L470.7 223.1L470.8 221.1L471.0 223.6L471.2 223.4L471.3 223.5L471.5 223.6L471.7 223.3L471.8 223.6L472.0 223.6L472.2 223.3L472.3 223.5L472.5 223.5L472.7 223.2L472.8 223.7L473.0 223.1L473.2 222.9L473.3 223.0L473.5 223.0L473.7 223.7L473.8 223.5L474.0 223.7L474.2 223.7L474.3 223.6L474.5 223.7L474.7 222.9L474.8 223.3L475.0 223.5L475.2 223.6L475.3 223.7L475.5 223.7L475.7 223.3L475.8 223.4L476.0 223.5L476.2 223.4L476.3 223.5L476.5 223.2L476.7 223.3L476.8 223.5L477.0 223.7L477.2 223.4L477.3 223.0L477.5 223.6L477.7 223.5L477.8 223.1L478.0 223.6L478.2 223.3L478.3 223.3L478.5 223.1L478.7 223.0L478.8 223.0L479.0 223.6L479.2 223.1L479.3 223.3L479.5 223.5L479.7 223.7L479.8 223.3L480.0 223.5L480.2 223.2L480.3 223.3L480.5 223.7L480.7 223.2L480.8 223.7L481.0 223.7L481.2 223.2L481.3 223.0L481.5 223.2L481.7 222.9L481.8 223.7L482.0 223.7L482.2 223.4L482.3 223.6L482.5 223.6L482.7 223.6L482.8 223.6L483.0 223.2L483.2 223.5L483.3 223.4L483.5 223.6L483.7 223.3L483.8 223.2L484.0 223.5L484.2 223.4L484.3 223.6L484.5 223.7L484.7 223.6L484.8 223.7L485.0 223.0" stroke="#0000ff" stroke-width="1" opacity="0.7"/>
<path d="M72.6 215.2L73.3 215.6L74.0 215.9L74.6 216.3L75.3 216.7L76.0 217.0L76.6 217.4L77.3 217.8L78.0 218.2L78.6 218.5L79.3 218.5L80.0 218.6L80.6 218.6L81.3 218.6L82.0 218.5L82.6 218.5L83.3 218.5L84.0 218.5L84.6 218.5L85.3 218.5L86.0 218.5L86.6 218.5L87.3 218.5L88.0 218.5L88.6 218.5L89.3 218.5L90.0 218.5L90.6 218.5L91.3 218.5L92.0 218.5L92.6 218.5L93.3 218.5L94.0 218.5L94.6 218.5L95.3 218.5L96.0 218.5L96.6 218.5L97.3 218.5L98.0 218.5L98.6 218.5L99.3 218.5L100.0 218.5L100.7 218.5L101.3 218.5L102.0 218.5L102.7 218.5L103.3 218.5L104.0 218.5L104.7 218.5L105.3 218.5L106.0 218.5L106.7 218.5L107.3 218.5L108.0 218.5L108.7 218.5L109.3 218.5L110.0 218.5L110.7 218.5L111.3 218.5L112.0 218.5L112.7 218.5L113.3 218.5L114.0 218.5L114.7 218.5L115.3 218.5L116.0 218.4L116.7 218.4L117.3 218.4L118.0 218.4L118.7 218.4L119.3 218.4L120.0 218.4L120.7 218.5L121.3 218.6L122.0 218.6L122.7 218.7L123.3 218.8L124.0 218.8L124.7 218.9L125.3 219.0L126.0 219.1L126.7 219.1L127.3 219.2L128.0 219.3L128.7 219.3L129.3 219.4L130.0 219.5L130.7 219.5L131.3 219.5L132.0 219.5L132.7 219.6L133.3 219.6L134.0 219.6L134.7 219.6L135.3 219.7L136.0 219.7L136.7 219.7L137.3 219.7L138.0 219.8L138.7 219.8L139.3 219.8L140.0 219.8L140.7 219.9L141.3 219.9L142.0 219.9L142.7 219.9L143.3 220.0L144.0 220.0L144.7 220.0L145.3 220.0L146.0 220.1L146.7 220.1L147.3 220.1L148.0 220.1L148.7 220.2L149.3 220.2L150.0 220.2L150.7 220.2L151.3 220.3L152.0 220.3L152.7 220.3L153.3 220.3L154.0 220.3L154.7 220.4L155.3 220.4L156.0 220.4L156.7 220.4L157.3 220.5L158.0 220.5L158.7 220.5L159.3 220.5L160.0 220.6L160.7 220.6L161.3 220.6L162.0 220.6L162.7 220.6L163.3 220.7L164.0 220.7L164.7 220.7L165.3 220.7L166.0 220.7L166.7 220.8L167.3 220.8L168.0 220.8L168.7 220.8L169.3 220.8L170.0 220.9L170.7 220.9L171.4 220.9L172.0 220.9L172.7 220.9L173.4 220.9L174.0 221.0L174.7 221.0L175.4 221.0L176.0 221.0L176.7 221.0L177.4 221.1L178.0 221.1L178.7 221.1L179.4 221.1L180.0 221.1L180.7 221.2L181.4 221.2L182.0 221.2L182.7 221.2L183.4 221.2L184.0 221.2L184.7 221.3L185.4 221.3L186.0 221.3L186.7 221.3L187.4 221.3L188.0 221.4L188.7 221.4L189.4 221.4L190.0 221.4L190.7 221.4L191.4 221.5L192.0 221.5L192.7 221.5L193.4 221.5L194.0 221.5L194.7 221.5L195.4 221.6L196.0 221.6L196.7 221.6L197.4 221.6L198.0 221.6L198.7 221.7L199.4 221.7L200.0 221.7L200.7 221.7L201.4 221.7L202.0 221.7L202.7 221.7L203.4 221.7L204.0 221.7L204.7 221.8L205.4 221.8L206.0 221.8L206.7 221.8L207.4 221.8L208.0 221.8L208.7 221.8L209.4 221.8L210.0 221.8L210.7 221.8L211.4 221.8L212.0 221.8L212.7 221.8L213.4 221.8L214.0 221.9L214.7 221.9L215.4 221.9L216.0 221.9L216.7 221.9L217.4 221.9L218.0 221.9L218.7 221.9L219.4 221.9L220.0 221.9L220.7 221.9L221.4 221.9L222.0 221.9L222.7 221.9L223.4 222.0L224.0 222.0L224.7 222.0L225.4 222.0L226.0 222.0L226.7 222.0L227.4 222.0L228.0 222.0L228.7 222.0L229.4 222.0L230.0 222.0L230.7 222.0L231.4 222.0L232.0 222.1L232.7 222.1L233.4 222.1L234.0 222.1L234.7 222.1L235.4 222.1L236.0 222.1L236.7 222.1L237.4 222.1L238.0 222.1L238.7 222.1L239.4 222.1L240.0 222.1L240.7 222.1L241.4 222.2L242.1 222.2L242.7 222.2L243.4 222.2L244.1 222.2L244.7 222.2L245.4 222.2L246.1 222.2L246.7 222.2L247.4 222.2L248.1 222.2L248.7 222.2L249.4 222.2L250.1 222.3L250.7 222.3L251.4 222.3L252.1 222.3L252.7 222.3L253.4 222.3L254.1 222.3L254.7 222.3L255.4 222.3L256.1 222.3L256.7 222.3L257.4 222.3L258.1 222.3L258.7 222.3L259.4 222.4L260.1 222.4L260.7 222.4L261.4 222.4L262.1 222.4L262.7 222.4L263.4 222.4L264.1 222.4L264.7 222.4L265.4 222.4L266.1 222.4L266.7 222.4L267.4 222.4L268.1 222.4L268.7 222.5L269.4 222.5L270.1 222.5L270.7 222.5L271.4 222.5L272.1 222.5L272.7 222.5L273.4 222.5L274.1 222.5L274.7 222.5L275.4 222.5L276.1 222.5L276.7 222.5L277.4 222.6L278.1 222.6L278.7 222.6L279.4 222.6L280.1 222.6L280.7 222.6L281.4 222.6L282.1 222.6L282.7 222.6L283.4 222.6L284.1 222.6L284.7 222.6L285.4 222.6L286.1 222.6L286.7 222.7L287.4 222.7L288.1 222.7L288.7 222.7L289.4 222.7L290.1 222.7L290.7 222.7L291.4 222.7L292.1 222.7L292.7 222.7L293.4 222.7L294.1 222.7L294.7 222.7L295.4 222.7L296.1 222.8L296.7 222.8L297.4 222.8L298.1 222.8L298.7 222.8L299.4 222.8L300.1 222.8L300.7 222.8L301.4 222.8L302.1 222.8L302.7 222.8L303.4 222.8L304.1 222.8L304.7 222.8L305.4 222.8L306.1 222.8L306.7 222.8L307.4 222.8L308.1 222.8L308.7 222.8L309.4 222.8L310.1 222.8L310.8 222.8L311.4 222.8L312.1 222.8L312.8 222.8L313.4 222.8L314.1 222.8L314.8 222.8L315.4 222.8L316.1 222.8L316.8 222.8L317.4 222.8L318.1 222.8L318.8 222.8L319.4 222.8L320.1 222.8L320.8 222.8L321.4 222.8L322.1 222.8L322.8 222.8L323.4 222.8L324.1 222.8L324.8 222.8L325.4 222.8L326.1 222.8L326.8 222.8L327.4 222.8L328.1 222.8L328.8 222.8L329.4 222.8L330.1 222.8L330.8 222.8L331.4 222.9L332.1 222.9L332.8 222.9L333.4 222.9L334.1 222.9L334.8 222.9L335.4 222.9L336.1 222.9L336.8 222.9L337.4 222.9L338.1 222.9L338.8 222.9L339.4 222.9L340.1 222.9L340.8 222.9L341.4 222.9L342.1 222.9L342.8 222.9L343.4 222.9L344.1 222.9L344.8 222.9L345.4 222.9L346.1 222.9L346.8 222.9L347.4 222.9L348.1 222.9L348.8 222.9L349.4 222.9L350.1 222.9L350.8 222.9L351.4 222.9L352.1 222.9L352.8 222.9L353.4 222.9L354.1 222.9L354.8 222.9L355.4 222.9L356.1 222.9L356.8 222.9L357.4 222.9L358.1 222.9L358.8 222.9L359.4 222.9L360.1 222.9L360.8 222.9L361.4 222.9L362.1 222.9L362.8 222.9L363.4 222.9L364.1 222.9L364.8 222.9L365.4 222.9L366.1 222.9L366.8 222.9L367.4 222.9L368.1 222.9L368.8 222.9L369.4 222.9L370.1 222.9L370.8 222.9L371.4 222.9L372.1 222.9L372.8 222.9L373.4 222.9L374.1 222.9L374.8 222.9L375.4 222.9L376.1 222.9L376.8 222.9L377.4 222.9L378.1 222.9L378.8 222.9L379.4 222.9L380.1 222.9L380.8 222.9L381.5 222.9L382.1 222.9L382.8 222.9L383.5 222.9L384.1 222.9L384.8 222.9L385.5 222.9L386.1 222.9L386.8 222.9L387.5 222.9L388.1 222.9L388.8 222.9L389.5 222.9L390.1 222.9L390.8 222.9L391.5 222.9L392.1 222.9L392.8 223.0L393.5 223.0L394.1 223.0L394.8 223.0L395.5 223.0L396.1 223.0L396.8 223.0L397.5 223.0L398.1 223.0L398.8 223.0L399.5 223.0L400.1 223.0L400.8 223.0L401.5 223.0L402.1 223.0L402.8 223.0L403.5 223.0L404.1 223.0L404.8 223.0L405.5 223.0L406.1 223.0L406.8 223.0L407.5 223.0L408.1 223.0L408.8 223.0L409.5 223.0L410.1 223.0L410.8 223.0L411.5 223.0L412.1 223.0L412.8 223.0L413.5 223.0L414.1 223.0L414.8 223.0L415.5 223.0L416.1 223.0L416.8 223.0L417.5 223.0L418.1 223.0L418.8 223.0L419.5 223.0L420.1 223.0L420.8 223.0L421.5 223.0L422.1 223.0L422.8 223.0L423.5 223.0L424.1 223.0L424.8 223.0L425.5 223.0L426.1 223.0L426.8 223.0L427.5 223.0L428.1 223.0L428.8 223.0L429.5 223.0L430.1 223.0L430.8 223.0L431.5 223.0L432.1 223.0L432.8 223.0L433.5 223.0L434.1 223.0L434.8 223.0L435.5 223.0L436.1 223.0L436.8 223.0L437.5 223.0L438.1 223.0L438.8 223.0L439.5 223.0L440.1 223.0L440.8 223.0L441.5 223.0L442.1 223.0L442.8 223.0L443.5 223.0L444.1 223.0L444.8 223.0L445.5 223.0L446.1 223.0L446.8 223.0L447.5 223.0L448.1 223.0L448.8 223.0L449.5 223.0L450.2 223.0L450.8 223.0L451.5 223.0L452.2 223.0L452.8 223.0L453.5 223.0L454.2 223.0L454.8 223.1L455.5 223.1L456.2 223.1L456.8 223.1L457.5 223.1L458.2 223.1L458.8 223.1L459.5 223.1L460.2 223.1L460.8 223.1L461.5 223.1L462.2 223.1L462.8 223.1L463.5 223.1L464.2 223.1L464.8 223.1L465.5 223.1L466.2 223.1L466.8 223.1L467.5 223.1L468.2 223.1L468.8 223.1L469.5 223.1L470.2 223.1L470.8 223.1L471.5 223.1L472.2 223.1L472.8 223.1L473.5 223.1L474.2 223.1L474.8 223.1L475.5 223.1L476.2 223.1L476.8 223.1L477.5 223.1L478.2 223.1L478.8 223.1L479.5 223.1L480.2 223.1L480.8 223.1L481.5 223.1L482.2 223.1L482.8 223.1L483.5 223.1L484.2 223.1L484.8 223.1L484.8 224.1L484.2 224.1L483.5 224.1L482.8 224.1L482.2 224.1L481.5 224.1L480.8 224.1L480.2 224.1L479.5 224.1L478.8 224.1L478.2 224.1L477.5 224.1L476.8 224.1L476.2 224.1L475.5 224.1L474.8 224.1L474.2 224.1L473.5 224.1L472.8 224.1L472.2 224.1L471.5 224.1L470.8 224.1L470.2 224.1L469.5 224.1L468.8 224.1L468.2 224.1L467.5 224.1L466.8 224.1L466.2 224.1L465.5 224.1L464.8 224.1L464.2 224.1L463.5 224.1L462.8 224.1L462.2 224.1L461.5 224.1L460.8 224.1L460.2 224.1L459.5 224.1L458.8 224.1L458.2 224.1L457.5 224.1L456.8 224.1L456.2 224.1L455.5 224.1L454.8 224.1L454.2 224.1L453.5 224.1L452.8 224.1L452.2 224.1L451.5 224.1L450.8 224.1L450.2 224.1L449.5 224.1L448.8 224.1L448.1 224.1L447.5 224.1L446.8 224.1L446.1 224.1L445.5 224.1L444.8 224.1L444.1 224.1L443.5 224.1L442.8 224.1L442.1 224.1L441.5 224.1L440.8 224.1L440.1 224.1L439.5 224.1L438.8 224.1L438.1 224.1L437.5 224.1L436.8 224.1L436.1 224.1L435.5 224.1L434.8 224.1L434.1 224.1L433.5 224.1L432.8 224.1L432.1 224.1L431.5 224.1L430.8 224.1L430.1 224.1L429.5 224.1L428.8 224.1L428.1 224.1L427.5 224.1L426.8 224.1L426.1 224.1L425.5 224.1L424.8 224.1L424.1 224.1L423.5 224.1L422.8 224.1L422.1 224.1L421.5 224.1L420.8 224.1L420.1 224.1L419.5 224.1L418.8 224.1L418.1 224.1L417.5 224.1L416.8 224.1L416.1 224.1L415.5 224.1L414.8 224.1L414.1 224.1L413.5 224.1L412.8 224.1L412.1 224.1L411.5 224.1L410.8 224.1L410.1 224.1L409.5 224.1L408.8 224.1L408.1 224.1L407.5 224.1L406.8 224.1L406.1 224.1L405.5 224.1L404.8 224.1L404.1 224.1L403.5 224.1L402.8 224.1L402.1 224.1L401.5 224.1L400.8 224.1L400.1 224.1L399.5 224.1L398.8 224.1L398.1 224.1L397.5 224.1L396.8 224.1L396.1 224.1L395.5 224.1L394.8 224.1L394.1 224.1L393.5 224.1L392.8 224.1L392.1 224.0L391.5 224.0L390.8 224.0L390.1 224.0L389.5 224.0L388.8 224.0L388.1 224.0L387.5 224.0L386.8 224.0L386.1 224.0L385.5 224.0L384.8 224.0L384.1 224.0L383.5 224.0L382.8 224.0L382.1 224.0L381.5 224.0L380.8 224.0L380.1 224.0L379.4 224.0L378.8 224.0L378.1 224.0L377.4 224.0L376.8 224.0L376.1 224.0L375.4 224.0L374.8 224.0L374.1 224.0L373.4 224.0L372.8 224.0L372.1 224.0L371.4 224.0L370.8 224.0L370.1 224.0L369.4 224.0L368.8 224.0L368.1 224.0L367.4 224.0L366.8 224.0L366.1 224.0L365.4 224.0L364.8 224.0L364.1 224.0L363.4 224.0L362.8 224.0L362.1 224.0L361.4 224.0L360.8 224.0L360.1 224.0L359.4 224.0L358.8 224.0L358.1 224.0L357.4 224.0L356.8 224.0L356.1 224.0L355.4 224.0L354.8 224.0L354.1 224.0L353.4 224.0L352.8 224.0L352.1 224.0L351.4 224.0L350.8 224.0L350.1 224.0L349.4 224.0L348.8 224.0L348.1 224.0L347.4 224.0L346.8 224.0L346.1 224.0L345.4 224.0L344.8 224.0L344.1 224.0L343.4 224.0L342.8 224.0L342.1 224.0L341.4 224.0L340.8 224.0L340.1 224.0L339.4 224.0L338.8 224.0L338.1 224.0L337.4 224.0L336.8 224.0L336.1 224.0L335.4 224.0L334.8 224.0L334.1 224.0L333.4 224.0L332.8 224.0L332.1 224.0L331.4 224.0L330.8 224.0L330.1 224.0L329.4 224.0L328.8 224.0L328.1 224.0L327.4 224.0L326.8 224.0L326.1 224.0L325.4 224.0L324.8 224.0L324.1 224.0L323.4 224.0L322.8 224.0L322.1 224.0L321.4 224.0L320.8 224.0L320.1 224.0L319.4 224.0L318.8 224.0L318.1 224.0L317.4 224.0L316.8 224.0L316.1 224.0L315.4 224.0L314.8 224.0L314.1 224.0L313.4 224.0L312.8 224.0L312.1 224.0L311.4 224.0L310.8 224.0L310.1 224.0L309.4 224.0L308.7 224.0L308.1 224.0L307.4 224.0L306.7 224.0L306.1 224.0L305.4 224.0L304.7 224.0L304.1 224.0L303.4 224.0L302.7 224.0L302.1 224.0L301.4 224.0L300.7 224.0L300.1 224.0L299.4 224.0L298.7 224.0L298.1 224.0L297.4 224.0L296.7 224.0L296.1 224.0L295.4 224.0L294.7 224.0L294.1 224.0L293.4 224.0L292.7 224.0L292.1 224.0L291.4 224.0L290.7 224.0L290.1 224.0L289.4 224.0L288.7 224.0L288.1 224.0L287.4 223.9L286.7 223.9L286.1 223.9L285.4 223.9L284.7 223.9L284.1 223.9L283.4 223.9L282.7 223.9L282.1 223.9L281.4 223.9L280.7 223.9L280.1 223.9L279.4 223.9L278.7 223.9L278.1 223.9L277.4 223.9L276.7 223.9L276.1 223.9L275.4 223.9L274.7 223.9L274.1 223.9L273.4 223.9L272.7 223.9L272.1 223.9L271.4 223.9L270.7 223.9L270.1 223.9L269.4 223.9L268.7 223.9L268.1 223.9L267.4 223.9L266.7 223.9L266.1 223.9L265.4 223.9L264.7 223.9L264.1 223.9L263.4 223.9L262.7 223.9L262.1 223.8L261.4 223.8L260.7 223.8L260.1 223.8L259.4 223.8L258.7 223.8L258.1 223.8L257.4 223.8L256.7 223.8L256.1 223.8L255.4 223.8L254.7 223.8L254.1 223.8L253.4 223.8L252.7 223.8L252.1 223.8L251.4 223.8L250.7 223.8L250.1 223.8L249.4 223.8L248.7 223.8L248.1 223.8L247.4 223.8L246.7 223.8L246.1 223.8L245.4 223.8L244.7 223.8L244.1 223.8L243.4 223.8L242.7 223.8L242.1 223.8L241.4 223.8L240.7 223.8L240.0 223.8L239.4 223.8L238.7 223.8L238.0 223.8L237.4 223.7L236.7 223.7L236.0 223.7L235.4 223.7L234.7 223.7L234.0 223.7L233.4 223.7L232.7 223.7L232.0 223.7L231.4 223.7L230.7 223.7L230.0 223.7L229.4 223.7L228.7 223.7L228.0 223.7L227.4 223.7L226.7 223.7L226.0 223.7L225.4 223.7L224.7 223.7L224.0 223.7L223.4 223.7L222.7 223.7L222.0 223.7L221.4 223.7L220.7 223.7L220.0 223.7L219.4 223.7L218.7 223.7L218.0 223.7L217.4 223.7L216.7 223.7L216.0 223.7L215.4 223.7L214.7 223.7L214.0 223.7L213.4 223.7L212.7 223.7L212.0 223.6L211.4 223.6L210.7 223.6L210.0 223.6L209.4 223.6L208.7 223.6L208.0 223.6L207.4 223.6L206.7 223.6L206.0 223.6L205.4 223.6L204.7 223.6L204.0 223.6L203.4 223.6L202.7 223.6L202.0 223.6L201.4 223.6L200.7 223.6L200.0 223.6L199.4 223.6L198.7 223.6L198.0 223.6L197.4 223.6L196.7 223.6L196.0 223.6L195.4 223.6L194.7 223.6L194.0 223.6L193.4 223.6L192.7 223.6L192.0 223.6L191.4 223.6L190.7 223.6L190.0 223.6L189.4 223.6L188.7 223.6L188.0 223.6L187.4 223.6L186.7 223.6L186.0 223.6L185.4 223.6L184.7 223.5L184.0 223.5L183.4 223.5L182.7 223.5L182.0 223.5L181.4 223.5L180.7 223.5L180.0 223.5L179.4 223.5L178.7 223.5L178.0 223.5L177.4 223.5L176.7 223.5L176.0 223.5L175.4 223.5L174.7 223.5L174.0 223.5L173.4 223.5L172.7 223.5L172.0 223.5L171.4 223.5L170.7 223.5L170.0 223.5L169.3 223.5L168.7 223.5L168.0 223.5L167.3 223.5L166.7 223.5L166.0 223.5L165.3 223.5L164.7 223.5L164.0 223.5L163.3 223.5L162.7 223.5L162.0 223.5L161.3 223.5L160.7 223.5L160.0 223.5L159.3 223.5L158.7 223.5L158.0 223.5L157.3 223.5L156.7 223.5L156.0 223.5L155.3 223.5L154.7 223.5L154.0 223.4L153.3 223.4L152.7 223.4L152.0 223.4L151.3 223.4L150.7 223.4L150.0 223.4L149.3 223.4L148.7 223.4L148.0 223.4L147.3 223.4L146.7 223.4L146.0 223.4L145.3 223.4L144.7 223.4L144.0 223.4L143.3 223.4L142.7 223.4L142.0 223.4L141.3 223.4L140.7 223.4L140.0 223.4L139.3 223.4L138.7 223.4L138.0 223.4L137.3 223.4L136.7 223.4L136.0 223.4L135.3 223.4L134.7 223.4L134.0 223.4L133.3 223.4L132.7 223.4L132.0 223.4L131.3 223.4L130.7 223.4L130.0 223.4L129.3 223.4L128.7 223.4L128.0 223.4L127.3 223.4L126.7 223.4L126.0 223.4L125.3 223.4L124.7 223.4L124.0 223.3L123.3 223.3L122.7 223.3L122.0 223.3L121.3 223.3L120.7 223.3L120.0 223.3L119.3 223.3L118.7 223.3L118.0 223.3L117.3 223.3L116.7 223.3L116.0 223.3L115.3 223.3L114.7 223.3L114.0 223.3L113.3 223.3L112.7 223.3L112.0 223.3L111.3 223.3L110.7 223.3L110.0 223.3L109.3 223.3L108.7 223.3L108.0 223.3L107.3 223.3L106.7 223.3L106.0 223.3L105.3 223.3L104.7 223.3L104.0 223.3L103.3 223.3L102.7 223.3L102.0 223.3L101.3 223.3L100.7 223.3L100.0 223.3L99.3 223.3L98.6 223.3L98.0 223.3L97.3 223.3L96.6 223.3L96.0 223.3L95.3 223.3L94.6 223.3L94.0 223.3L93.3 223.2L92.6 223.2L92.0 223.2L91.3 223.2L90.6 223.2L90.0 223.2L89.3 223.2L88.6 223.2L88.0 223.2L87.3 223.2L86.6 223.2L86.0 223.2L85.3 223.2L84.6 223.2L84.0 223.2L83.3 223.2L82.6 223.2L82.0 223.2L81.3 223.2L80.6 223.2L80.0 223.2L79.3 223.2L78.6 223.2L78.0 223.0L77.3 222.6L76.6 222.3L76.0 221.9L75.3 221.6L74.6 221.2L74.0 220.8L73.3 220.5L72.6 220.1Z" fill="#10bfc4" stroke="none"/>
<path d="M65.3 215.3L65.5 214.9L65.6 213.5L65.8 214.7L66.0 215.5L66.1 213.7L66.3 215.6L66.5 214.7L66.6 214.0L66.8 213.5L67.0 213.6L67.1 213.5L67.3 214.2L67.5 213.5L67.6 212.1L67.8 214.8L68.0 214.1L68.1 214.2L68.3 213.8L68.5 215.3L68.6 214.7L68.8 214.2L69.0 215.4L69.1 214.4L69.3 213.6L69.5 215.5L69.6 213.7L69.8 214.0L70.0 214.6L70.1 214.9L70.3 213.0L70.5 214.1L70.6 213.5L70.8 216.6L71.0 214.1L71.1 213.7L71.3 214.2L71.5 214.2L71.6 220.3L71.8 213.3L72.0 217.0L72.1 218.3L72.3 212.2L72.5 211.5L72.6 218.9L72.8 217.6L73.0 215.3L73.1 212.1L73.3 215.6L73.5 219.6L73.6 213.5L73.8 211.7L74.0 218.7L74.1 213.0L74.3 212.0L74.5 216.6L74.6 213.2L74.8 214.9L75.0 212.1L75.1 214.8L75.3 218.2L75.5 214.7L75.6 218.0L75.8 217.9L76.0 221.4L76.1 220.7L76.3 219.7L76.5 215.6L76.6 216.9L76.8 218.1L77.0 216.3L77.1 219.0L77.3 219.0L77.5 216.7L77.6 215.6L77.8 215.8L78.0 217.4L78.1 214.1L78.3 214.1L78.5 214.7L78.6 219.9L78.8 216.2L79.0 221.6L79.1 214.3L79.3 217.6L79.5 222.0L79.6 221.5L79.8 217.0L80.0 216.8L80.1 219.3L80.3 218.7L80.5 215.8L80.6 216.0L80.8 216.2L81.0 219.3L81.1 219.5L81.3 217.0L81.5 221.8L81.6 216.8L81.8 216.7L82.0 216.1L82.1 220.4L82.3 219.6L82.5 220.4L82.6 218.7L82.8 217.1L83.0 218.6L83.1 215.2L83.3 217.5L83.5 215.9L83.6 214.6L83.8 215.9L84.0 220.7L84.1 219.6L84.3 222.3L84.5 219.0L84.6 218.7L84.8 219.7L85.0 219.3L85.1 220.8L85.3 215.6L85.5 219.1L85.6 222.6L85.8 218.7L86.0 219.3L86.1 221.0L86.3 216.6L86.5 218.9L86.6 216.0L86.8 217.3L87.0 214.6L87.1 219.6L87.3 222.4L87.5 221.0L87.6 216.1L87.8 220.9L88.0 217.5L88.1 221.6L88.3 215.4L88.5 219.2L88.6 220.0L88.8 215.1L89.0 216.6L89.1 217.4L89.3 215.0L89.5 215.7L89.6 222.7L89.8 214.9L90.0 220.8L90.1 216.4L90.3 219.9L90.5 220.0L90.6 218.9L90.8 222.7L91.0 215.4L91.1 220.2L91.3 217.1L91.5 221.3L91.6 221.8L91.8 222.6L92.0 212.3L92.1 218.9L92.3 216.4L92.5 218.8L92.6 218.1L92.8 217.6L93.0 221.3L93.1 219.3L93.3 215.5L93.5 214.3L93.6 218.3L93.8 219.8L94.0 215.3L94.1 217.8L94.3 222.4L94.5 221.2L94.6 217.0L94.8 221.5L95.0 218.0L95.1 214.4L95.3 218.0L95.5 218.6L95.6 215.7L95.8 218.0L96.0 215.4L96.1 222.7L96.3 215.4L96.5 221.1L96.6 220.6L96.8 217.6L97.0 216.7L97.1 221.2L97.3 215.8L97.5 218.4L97.6 216.1L97.8 219.4L98.0 219.4L98.1 217.9L98.3 216.9L98.5 216.0L98.6 219.6L98.8 217.2L99.0 213.7L99.1 216.5L99.3 219.0L99.5 214.7L99.6 216.3L99.8 222.0L100.0 217.0L100.1 219.2L100.3 219.7L100.5 220.7L100.7 216.5L100.8 215.3L101.0 218.6L101.2 218.2L101.3 219.6L101.5 215.6L101.7 214.2L101.8 218.6L102.0 218.6L102.2 220.9L102.3 220.0L102.5 219.1L102.7 218.9L102.8 221.1L103.0 219.4L103.2 222.2L103.3 220.1L103.5 216.9L103.7 214.8L103.8 220.7L104.0 216.5L104.2 220.5L104.3 214.5L104.5 213.7L104.7 222.3L104.8 214.5L105.0 219.5L105.2 220.7L105.3 218.5L105.5 215.3L105.7 219.1L105.8 218.5L106.0 216.9L106.2 222.6L106.3 214.8L106.5 216.4L106.7 217.4L106.8 219.4L107.0 214.3L107.2 222.0L107.3 222.8L107.5 217.4L107.7 216.7L107.8 221.3L108.0 215.3L108.2 218.7L108.3 219.6L108.5 216.3L108.7 218.9L108.8 221.2L109.0 218.8L109.2 222.4L109.3 219.8L109.5 217.4L109.7 222.0L109.8 218.7L110.0 218.3L110.2 222.5L110.3 220.7L110.5 222.3L110.7 218.0L110.8 217.0L111.0 222.9L111.2 217.6L111.3 215.1L111.5 222.4L111.7 217.3L111.8 219.7L112.0 221.4L112.2 215.1L112.3 219.8L112.5 215.2L112.7 214.8L112.8 220.4L113.0 215.0L113.2 214.7L113.3 222.9L113.5 214.9L113.7 217.0L113.8 222.9L114.0 217.9L114.2 215.2L114.3 215.2L114.5 214.9L114.7 218.0L114.8 221.8L115.0 219.5L115.2 219.9L115.3 217.1L115.5 220.2L115.7 217.6L115.8 219.8L116.0 218.4L116.2 216.9L116.3 215.5L116.5 222.4L116.7 218.5L116.8 219.7L117.0 217.0L117.2 216.3L117.3 216.3L117.5 221.2L117.7 221.3L117.8 215.1L118.0 219.8L118.2 216.4L118.3 222.7L118.5 217.3L118.7 220.5L118.8 216.7L119.0 222.0L119.2 214.9L119.3 216.5L119.5 217.1L119.7 218.3L119.8 215.6L120.0 218.7L120.2 216.9L120.3 219.1L120.5 222.8L120.7 218.5L120.8 215.7L121.0 217.0L121.2 222.0L121.3 222.5L121.5 221.1L121.7 217.3L121.8 220.0L122.0 220.5L122.2 215.4L122.3 222.8L122.5 215.8L122.7 219.7L122.8 216.0L123.0 220.2L123.2 218.3L123.3 221.5L123.5 220.3L123.7 217.4L123.8 217.1L124.0 221.3L124.2 217.5L124.3 215.0L124.5 217.8L124.7 220.4L124.8 217.3L125.0 218.0L125.2 217.5L125.3 216.2L125.5 215.5L125.7 221.5L125.8 220.7L126.0 221.7L126.2 215.2L126.3 215.3L126.5 217.0L126.7 217.9L126.8 221.5L127.0 220.4L127.2 221.7L127.3 220.0L127.5 222.0L127.7 222.7L127.8 216.5L128.0 219.4L128.2 221.5L128.3 222.4L128.5 217.3L128.7 217.3L128.8 216.1L129.0 217.1L129.2 216.1L129.3 218.1L129.5 219.0L129.7 219.8L129.8 220.4L130.0 222.8L130.2 217.8L130.3 220.5L130.5 217.7L130.7 216.4L130.8 217.4L131.0 219.2L131.2 218.9L131.3 216.8L131.5 221.1L131.7 218.7L131.8 218.7L132.0 218.6L132.2 220.7L132.3 219.6L132.5 219.3L132.7 217.4L132.8 216.4L133.0 222.5L133.2 217.4L133.3 219.4L133.5 218.4L133.7 219.1L133.8 217.4L134.0 220.0L134.2 220.1L134.3 219.1L134.5 216.5L134.7 219.9L134.8 219.9L135.0 219.4L135.2 216.4L135.3 221.7L135.5 218.8L135.7 218.7L135.8 217.0L136.0 220.4L136.2 218.7L136.3 221.1L136.5 220.2L136.7 222.4L136.8 220.9L137.0 220.2L137.2 220.8L137.3 220.1L137.5 220.9L137.7 221.1L137.8 220.5L138.0 218.5L138.2 218.8L138.3 216.7L138.5 221.9L138.7 217.7L138.8 222.3L139.0 221.3L139.2 222.8L139.3 219.6L139.5 222.9L139.7 222.5L139.8 218.7L140.0 218.7L140.2 222.2L140.3 218.9L140.5 220.1L140.7 217.5L140.8 219.2L141.0 219.5L141.2 216.8L141.3 221.0L141.5 219.9L141.7 215.1L141.8 218.4L142.0 222.7L142.2 222.9L142.3 221.1L142.5 217.0L142.7 222.5L142.8 222.8L143.0 217.3L143.2 222.0L143.3 220.8L143.5 217.7L143.7 214.0L143.8 222.6L144.0 220.3L144.2 218.5L144.3 221.9L144.5 221.2L144.7 220.8L144.8 222.9L145.0 218.7L145.2 222.3L145.3 221.5L145.5 220.1L145.7 218.4L145.8 222.4L146.0 217.3L146.2 219.8L146.3 221.8L146.5 221.8L146.7 219.7L146.8 222.3L147.0 221.9L147.2 217.4L147.3 217.8L147.5 219.3L147.7 218.5L147.8 222.2L148.0 221.2L148.2 222.9L148.3 219.5L148.5 223.0L148.7 222.3L148.8 217.3L149.0 222.4L149.2 217.4L149.3 219.8L149.5 220.0L149.7 222.1L149.8 220.6L150.0 220.8L150.2 219.0L150.3 217.5L150.5 221.0L150.7 222.8L150.8 217.6L151.0 220.1L151.2 220.5L151.3 218.7L151.5 219.3L151.7 219.9L151.8 222.1L152.0 218.5L152.2 221.5L152.3 219.5L152.5 221.8L152.7 221.6L152.8 219.5L153.0 218.9L153.2 217.7L153.3 219.2L153.5 219.4L153.7 219.6L153.8 221.3L154.0 218.1L154.2 219.7L154.3 222.7L154.5 220.3L154.7 221.0L154.8 222.0L155.0 219.2L155.2 218.7L155.3 218.2L155.5 218.4L155.7 217.8L155.8 221.9L156.0 219.9L156.2 220.7L156.3 219.1L156.5 219.3L156.7 222.6L156.8 221.4L157.0 221.7L157.2 222.6L157.3 221.5L157.5 220.4L157.7 221.3L157.8 222.1L158.0 218.9L158.2 222.6L158.3 221.6L158.5 219.4L158.7 220.8L158.8 219.6L159.0 222.6L159.2 218.3L159.3 220.9L159.5 218.8L159.7 220.8L159.8 218.8L160.0 222.8L160.2 221.5L160.3 218.1L160.5 222.6L160.7 218.8L160.8 221.0L161.0 220.5L161.2 221.5L161.3 221.2L161.5 218.2L161.7 220.6L161.8 222.2L162.0 219.2L162.2 221.9L162.3 220.3L162.5 219.2L162.7 220.7L162.8 222.5L163.0 219.4L163.2 218.6L163.3 219.7L163.5 218.5L163.7 220.7L163.8 221.9L164.0 221.3L164.2 219.2L164.3 218.6L164.5 221.6L164.7 219.1L164.8 219.4L165.0 221.8L165.2 219.1L165.3 220.9L165.5 222.3L165.7 220.3L165.8 221.7L166.0 220.4L166.2 218.6L166.3 222.0L166.5 220.4L166.7 220.5L166.8 222.1L167.0 220.1L167.2 221.8L167.3 218.9L167.5 219.1L167.7 220.5L167.8 221.8L168.0 222.3L168.2 221.9L168.3 220.5L168.5 220.3L168.7 222.3L168.8 219.6L169.0 220.7L169.2 218.7L169.3 221.1L169.5 220.8L169.7 219.4L169.8 221.1L170.0 219.5L170.2 220.5L170.4 222.4L170.5 219.0L170.7 219.0L170.9 222.4L171.0 221.5L171.2 220.4L171.4 222.5L171.5 221.2L171.7 222.7L171.9 220.6L172.0 220.8L172.2 219.0L172.4 219.5L172.5 221.8L172.7 220.0L172.9 218.9L173.0 222.4L173.2 216.8L173.4 222.4L173.5 221.9L173.7 220.8L173.9 223.0L174.0 220.9L174.2 221.7L174.4 222.8L174.5 220.7L174.7 222.1L174.9 222.1L175.0 219.1L175.2 221.1L175.4 220.7L175.5 222.6L175.7 219.1L175.9 220.5L176.0 221.7L176.2 220.2L176.4 220.3L176.5 220.9L176.7 221.2L176.9 222.6L177.0 219.9L177.2 222.9L177.4 222.8L177.5 220.4L177.7 219.5L177.9 219.4L178.0 222.1L178.2 219.7L178.4 222.2L178.5 222.2L178.7 221.1L178.9 220.7L179.0 220.8L179.2 219.4L179.4 221.0L179.5 221.5L179.7 221.1L179.9 222.3L180.0 220.2L180.2 222.3L180.4 221.1L180.5 222.7L180.7 220.2L180.9 221.5L181.0 220.0L181.2 222.3L181.4 221.1L181.5 219.7L181.7 220.2L181.9 222.2L182.0 222.7L182.2 220.7L182.4 219.3L182.5 221.4L182.7 220.3L182.9 220.4L183.0 219.4L183.2 221.4L183.4 222.7L183.5 222.7L183.7 219.6L183.9 222.2L184.0 220.8L184.2 220.6L184.4 219.7L184.5 221.4L184.7 222.1L184.9 219.7L185.0 220.7L185.2 219.4L185.4 220.2L185.5 220.6L185.7 221.3L185.9 223.1L186.0 215.8L186.2 221.7L186.4 222.9L186.5 220.4L186.7 219.5L186.9 220.4L187.0 222.4L187.2 221.8L187.4 221.8L187.5 221.9L187.7 220.6L187.9 220.5L188.0 222.0L188.2 221.6L188.4 221.9L188.5 222.1L188.7 220.7L188.9 220.2L189.0 220.5L189.2 219.7L189.4 219.8L189.5 219.8L189.7 220.3L189.9 221.7L190.0 220.5L190.2 219.8L190.4 222.1L190.5 221.8L190.7 223.1L190.9 220.0L191.0 220.4L191.2 222.7L191.4 221.5L191.5 222.0L191.7 221.9L191.9 221.6L192.0 220.0L192.2 222.0L192.4 221.1L192.5 220.6L192.7 220.7L192.9 223.0L193.0 221.9L193.2 220.4L193.4 222.5L193.5 221.6L193.7 220.5L193.9 222.4L194.0 221.4L194.2 220.0L194.4 222.8L194.5 222.1L194.7 223.1L194.9 222.9L195.0 220.5L195.2 221.4L195.4 221.1L195.5 222.2L195.7 220.8L195.9 222.6L196.0 222.4L196.2 222.9L196.4 220.2L196.5 222.0L196.7 222.2L196.9 221.7L197.0 222.3L197.2 220.3L197.4 222.2L197.5 223.0L197.7 220.5L197.9 220.9L198.0 222.5L198.2 221.9L198.4 222.6L198.5 220.4L198.7 220.4L198.9 223.0L199.0 222.4L199.2 221.8L199.4 221.2L199.5 220.6L199.7 220.5L199.9 220.4L200.0 221.4L200.2 220.9L200.4 217.4L200.5 220.9L200.7 221.7L200.9 220.7L201.0 221.2L201.2 222.2L201.4 223.1L201.5 220.9L201.7 223.1L201.9 220.8L202.0 220.8L202.2 222.5L202.4 220.6L202.5 221.5L202.7 220.4L202.9 220.4L203.0 223.1L203.2 222.4L203.4 220.8L203.5 221.6L203.7 222.7L203.9 221.6L204.0 222.1L204.2 222.0L204.4 222.8L204.5 221.3L204.7 220.7L204.9 222.0L205.0 222.2L205.2 220.5L205.4 221.3L205.5 220.4L205.7 220.7L205.9 222.5L206.0 221.1L206.2 222.7L206.4 222.7L206.5 221.3L206.7 223.1L206.9 222.5L207.0 220.4L207.2 222.3L207.4 215.7L207.5 221.1L207.7 221.6L207.9 220.8L208.0 222.5L208.2 222.7L208.4 220.9L208.5 222.1L208.7 222.6L208.9 221.6L209.0 221.2L209.2 221.6L209.4 220.9L209.5 222.1L209.7 220.9L209.9 220.6L210.0 221.5L210.2 221.2L210.4 221.5L210.5 222.3L210.7 222.4L210.9 221.1L211.0 222.7L211.2 222.0L211.4 222.1L211.5 220.7L211.7 221.6L211.9 222.4L212.0 221.9L212.2 223.0L212.4 222.4L212.5 221.2L212.7 222.5L212.9 222.3L213.0 220.7L213.2 222.4L213.4 221.5L213.5 220.5L213.7 222.9L213.9 222.0L214.0 221.0L214.2 221.1L214.4 221.4L214.5 221.2L214.7 222.8L214.9 223.0L215.0 222.8L215.2 220.7L215.4 222.7L215.5 221.3L215.7 223.0L215.9 220.8L216.0 221.1L216.2 220.9L216.4 220.5L216.5 221.4L216.7 220.8L216.9 220.5L217.0 222.9L217.2 223.1L217.4 221.2L217.5 221.6L217.7 222.5L217.9 221.3L218.0 221.4L218.2 222.2L218.4 223.1L218.5 220.6L218.7 221.7L218.9 222.9L219.0 221.0L219.2 220.9L219.4 222.2L219.5 221.1L219.7 223.0L219.9 221.3L220.0 220.6L220.2 221.2L220.4 222.4L220.5 222.1L220.7 221.4L220.9 222.0L221.0 220.6L221.2 221.1L221.4 222.0L221.5 221.3L221.7 223.0L221.9 222.3L222.0 223.1L222.2 222.3L222.4 222.7L222.5 221.9L222.7 222.3L222.9 223.1L223.0 222.8L223.2 222.1L223.4 221.6L223.5 222.5L223.7 222.1L223.9 220.8L224.0 222.1L224.2 221.9L224.4 221.9L224.5 220.8L224.7 222.8L224.9 222.0L225.0 221.1L225.2 221.8L225.4 222.3L225.5 222.2L225.7 222.7L225.9 221.5L226.0 221.0L226.2 221.3L226.4 223.1L226.5 221.2L226.7 221.3L226.9 222.2L227.0 222.5L227.2 220.8L227.4 222.9L227.5 221.2L227.7 222.5L227.9 221.8L228.0 221.4L228.2 220.9L228.4 221.2L228.5 223.0L228.7 221.0L228.9 220.8L229.0 223.2L229.2 222.5L229.4 221.0L229.5 221.9L229.7 223.3L229.9 221.3L230.0 220.8L230.2 222.9L230.4 221.1L230.5 221.6L230.7 221.7L230.9 223.2L231.0 220.8L231.2 220.8L231.4 222.9L231.5 221.2L231.7 222.3L231.9 223.2L232.0 221.9L232.2 221.1L232.4 221.8L232.5 223.1L232.7 221.1L232.9 222.1L233.0 221.8L233.2 222.2L233.4 220.9L233.5 221.9L233.7 221.2L233.9 220.9L234.0 221.8L234.2 221.2L234.4 222.7L234.5 222.8L234.7 221.4L234.9 221.6L235.0 220.9L235.2 222.3L235.4 222.8L235.5 222.2L235.7 221.1L235.9 221.9L236.0 222.5L236.2 222.0L236.4 221.5L236.5 223.0L236.7 221.5L236.9 222.2L237.0 221.1L237.2 221.3L237.4 221.4L237.5 223.2L237.7 221.9L237.9 223.2L238.0 222.4L238.2 222.8L238.4 222.1L238.5 222.7L238.7 222.5L238.9 221.5L239.0 221.4L239.2 221.5L239.4 221.5L239.5 222.4L239.7 223.2L239.9 223.2L240.0 221.9L240.2 221.0L240.4 222.0L240.6 222.1L240.7 221.2L240.9 222.4L241.1 222.7L241.2 221.0L241.4 223.4L241.6 222.0L241.7 222.9L241.9 222.7L242.1 221.1L242.2 221.7L242.4 222.0L242.6 223.0L242.7 221.1L242.9 222.2L243.1 223.1L243.2 222.0L243.4 223.1L243.6 221.3L243.7 222.3L243.9 222.6L244.1 222.7L244.2 222.8L244.4 222.8L244.6 221.9L244.7 222.9L244.9 222.0L245.1 221.3L245.2 221.6L245.4 222.0L245.6 222.3L245.7 222.5L245.9 222.7L246.1 222.3L246.2 221.1L246.4 222.0L246.6 222.6L246.7 222.7L246.9 222.3L247.1 222.2L247.2 222.5L247.4 222.0L247.6 221.6L247.7 221.7L247.9 221.6L248.1 222.1L248.2 221.4L248.4 223.1L248.6 222.0L248.7 221.4L248.9 221.6L249.1 221.2L249.2 223.0L249.4 221.8L249.6 221.5L249.7 222.4L249.9 222.7L250.1 222.3L250.2 221.5L250.4 222.8L250.6 221.6L250.7 221.6L250.9 222.1L251.1 222.1L251.2 221.2L251.4 223.0L251.6 223.2L251.7 222.1L251.9 223.2L252.1 222.7L252.2 223.0L252.4 221.3L252.6 222.2L252.7 222.7L252.9 222.6L253.1 222.9L253.2 222.5L253.4 222.9L253.6 221.5L253.7 222.1L253.9 223.1L254.1 221.5L254.2 222.3L254.4 223.3L254.6 221.7L254.7 221.9L254.9 222.2L255.1 222.4L255.2 221.7L255.4 221.2L255.6 222.2L255.7 221.4L255.9 222.1L256.1 222.8L256.2 221.8L256.4 221.6L256.6 223.1L256.7 222.9L256.9 223.1L257.1 223.3L257.2 222.6L257.4 222.3L257.6 222.1L257.7 222.3L257.9 221.6L258.1 223.0L258.2 221.3L258.4 221.7L258.6 223.3L258.7 223.3L258.9 223.1L259.1 222.0L259.2 222.1L259.4 222.8L259.6 221.9L259.7 222.6L259.9 221.7L260.1 221.8L260.2 222.9L260.4 223.2L260.6 222.1L260.7 223.2L260.9 222.2L261.1 222.0L261.2 223.1L261.4 221.8L261.6 222.5L261.7 222.0L261.9 222.3L262.1 221.9L262.2 222.3L262.4 222.3L262.6 222.4L262.7 223.0L262.9 222.1L263.1 223.4L263.2 222.5L263.4 221.8L263.6 221.6L263.7 221.6L263.9 221.8L264.1 221.4L264.2 221.4L264.4 222.5L264.6 222.0L264.7 223.1L264.9 222.1L265.1 222.7L265.2 221.6L265.4 223.1L265.6 223.1L265.7 222.1L265.9 222.2L266.1 222.1L266.2 222.2L266.4 223.3L266.6 222.2L266.7 222.5L266.9 223.0L267.1 221.7L267.2 221.9L267.4 222.1L267.6 222.5L267.7 223.1L267.9 223.5L268.1 221.7L268.2 222.4L268.4 222.4L268.6 222.8L268.7 222.5L268.9 222.1L269.1 222.5L269.2 221.8L269.4 223.0L269.6 223.2L269.7 221.7L269.9 223.0L270.1 222.8L270.2 221.9L270.4 223.4L270.6 222.4L270.7 222.8L270.9 221.6L271.1 222.4L271.2 222.4L271.4 222.1L271.6 221.9L271.7 222.8L271.9 223.4L272.1 222.3L272.2 222.5L272.4 223.0L272.6 222.0L272.7 222.0L272.9 221.5L273.1 221.6L273.2 223.0L273.4 222.7L273.6 222.0L273.7 223.4L273.9 221.8L274.1 222.2L274.2 222.8L274.4 221.8L274.6 222.5L274.7 223.0L274.9 221.9L275.1 221.7L275.2 223.2L275.4 221.7L275.6 223.1L275.7 222.1L275.9 222.5L276.1 221.8L276.2 221.6L276.4 223.3L276.6 222.6L276.7 221.8L276.9 222.7L277.1 223.1L277.2 222.5L277.4 223.4L277.6 223.1L277.7 221.9L277.9 221.9L278.1 221.9L278.2 223.4L278.4 222.2L278.6 222.6L278.7 222.2L278.9 222.8L279.1 222.9L279.2 221.8L279.4 222.2L279.6 222.3L279.7 222.5L279.9 222.9L280.1 222.6L280.2 221.8L280.4 221.9L280.6 223.3L280.7 222.0L280.9 222.2L281.1 222.3L281.2 222.9L281.4 221.8L281.6 222.4L281.7 221.9L281.9 223.3L282.1 222.5L282.2 223.0L282.4 222.7L282.6 222.8L282.7 222.4L282.9 223.2L283.1 222.6L283.2 222.9L283.4 222.2L283.6 223.0L283.7 222.8L283.9 223.0L284.1 221.8L284.2 223.3L284.4 223.1L284.6 221.9L284.7 222.8L284.9 222.1L285.1 223.4L285.2 223.2L285.4 222.4L285.6 223.2L285.7 223.0L285.9 222.8L286.1 222.4L286.2 223.2L286.4 223.4L286.6 222.8L286.7 216.7L286.9 222.1L287.1 222.5L287.2 222.9L287.4 221.9L287.6 222.9L287.7 222.2L287.9 222.2L288.1 222.3L288.2 222.6L288.4 223.1L288.6 222.5L288.7 223.5L288.9 221.9L289.1 222.6L289.2 222.7L289.4 221.9L289.6 222.0L289.7 223.0L289.9 221.9L290.1 222.0L290.2 223.2L290.4 222.7L290.6 222.8L290.7 219.4L290.9 222.4L291.1 222.8L291.2 222.4L291.4 222.4L291.6 222.6L291.7 223.5L291.9 223.1L292.1 222.9L292.2 222.3L292.4 222.9L292.6 223.1L292.7 223.5L292.9 222.3L293.1 222.9L293.2 222.6L293.4 222.1L293.6 222.4L293.7 223.1L293.9 223.0L294.1 222.5L294.2 222.2L294.4 223.2L294.6 222.8L294.7 223.2L294.9 223.3L295.1 222.4L295.2 222.8L295.4 222.8L295.6 222.2L295.7 223.5L295.9 223.1L296.1 223.5L296.2 223.5L296.4 222.7L296.6 223.0L296.7 222.4L296.9 223.2L297.1 223.3L297.2 222.3L297.4 223.5L297.6 222.6L297.7 223.5L297.9 222.1L298.1 222.1L298.2 223.5L298.4 222.1L298.6 222.6L298.7 222.4L298.9 222.2L299.1 222.8L299.2 222.8L299.4 223.0L299.6 222.6L299.7 223.5L299.9 222.5L300.1 222.4L300.2 222.5L300.4 222.6L300.6 223.0L300.7 222.5L300.9 222.9L301.1 222.5L301.2 223.1L301.4 223.1L301.6 222.5L301.7 223.3L301.9 222.2L302.1 222.3L302.2 222.7L302.4 223.1L302.6 223.0L302.7 223.3L302.9 222.4L303.1 222.1L303.2 223.4L303.4 223.5L303.6 222.9L303.7 222.1L303.9 223.2L304.1 223.2L304.2 222.9L304.4 223.0L304.6 223.1L304.7 222.6L304.9 223.4L305.1 223.4L305.2 222.8L305.4 222.1L305.6 223.2L305.7 223.2L305.9 223.2L306.1 223.4L306.2 223.4L306.4 223.0L306.6 223.1L306.7 222.6L306.9 223.3L307.1 222.1L307.2 222.6L307.4 222.3L307.6 223.4L307.7 222.3L307.9 222.9L308.1 223.0L308.2 222.2L308.4 222.8L308.6 223.1L308.7 222.9L308.9 222.6L309.1 223.2L309.2 222.8L309.4 223.0L309.6 223.4L309.7 223.5L309.9 222.3L310.1 222.2L310.3 223.1L310.4 222.4L310.6 222.9L310.8 223.0L310.9 223.1L311.1 223.0L311.3 223.0L311.4 223.4L311.6 222.3L311.8 222.9L311.9 223.2L312.1 222.9L312.3 222.8L312.4 222.4L312.6 223.3L312.8 222.8L312.9 222.4L313.1 222.3L313.3 223.3L313.4 223.0L313.6 222.5L313.8 223.0L313.9 222.5L314.1 223.1L314.3 223.0L314.4 223.5L314.6 222.6L314.8 223.1L314.9 223.4L315.1 223.1L315.3 223.3L315.4 223.0L315.6 222.1L315.8 222.2L315.9 222.3L316.1 222.3L316.3 222.2L316.4 223.3L316.6 222.8L316.8 222.4L316.9 219.8L317.1 222.6L317.3 223.4L317.4 223.0L317.6 223.3L317.8 222.4L317.9 222.3L318.1 222.9L318.3 223.6L318.4 222.2L318.6 222.2L318.8 222.1L318.9 222.4L319.1 222.1L319.3 223.1L319.4 223.4L319.6 222.3L319.8 222.3L319.9 223.1L320.1 222.6L320.3 223.4L320.4 223.3L320.6 222.1L320.8 222.2L320.9 223.3L321.1 222.6L321.3 222.5L321.4 222.7L321.6 222.8L321.8 222.5L321.9 223.6L322.1 222.1L322.3 222.6L322.4 222.8L322.6 223.1L322.8 223.1L322.9 222.6L323.1 223.3L323.3 222.5L323.4 223.4L323.6 219.5L323.8 223.1L323.9 223.6L324.1 222.5L324.3 222.2L324.4 223.0L324.6 223.2L324.8 222.6L324.9 223.4L325.1 222.3L325.3 222.8L325.4 222.5L325.6 223.1L325.8 222.7L325.9 222.7L326.1 222.6L326.3 222.4L326.4 222.9L326.6 222.9L326.8 222.9L326.9 223.5L327.1 223.0L327.3 222.2L327.4 222.5L327.6 223.0L327.8 222.3L327.9 223.1L328.1 222.9L328.3 223.1L328.4 222.9L328.6 223.4L328.8 222.7L328.9 223.4L329.1 222.9L329.3 222.4L329.4 222.2L329.6 222.6L329.8 223.0L329.9 223.3L330.1 223.1L330.3 223.1L330.4 222.6L330.6 222.4L330.8 223.4L330.9 222.9L331.1 222.4L331.3 222.5L331.4 223.4L331.6 222.7L331.8 222.2L331.9 222.3L332.1 223.2L332.3 222.3L332.4 222.1L332.6 219.9L332.8 222.3L332.9 223.4L333.1 222.9L333.3 222.6L333.4 222.3L333.6 222.3L333.8 222.9L333.9 223.0L334.1 222.5L334.3 223.1L334.4 222.9L334.6 222.3L334.8 223.1L334.9 222.3L335.1 223.5L335.3 223.5L335.4 223.0L335.6 222.5L335.8 223.2L335.9 222.2L336.1 222.7L336.3 223.5L336.4 223.2L336.6 222.3L336.8 223.4L336.9 223.6L337.1 223.2L337.3 223.6L337.4 223.3L337.6 222.8L337.8 222.3L337.9 222.9L338.1 222.7L338.3 223.4L338.4 223.0L338.6 222.6L338.8 222.8L338.9 222.2L339.1 222.9L339.3 222.2L339.4 223.2L339.6 222.6L339.8 222.4L339.9 222.2L340.1 223.3L340.3 222.6L340.4 222.2L340.6 222.8L340.8 222.1L340.9 222.2L341.1 223.1L341.3 222.8L341.4 223.1L341.6 222.4L341.8 223.5L341.9 222.5L342.1 223.6L342.3 223.5L342.4 222.4L342.6 223.2L342.8 222.7L342.9 222.2L343.1 223.3L343.3 223.0L343.4 222.4L343.6 222.7L343.8 222.6L343.9 223.3L344.1 222.8L344.3 222.3L344.4 222.8L344.6 222.6L344.8 222.5L344.9 223.0L345.1 222.8L345.3 223.0L345.4 223.2L345.6 223.5L345.8 222.3L345.9 223.1L346.1 222.5L346.3 223.3L346.4 222.7L346.6 222.5L346.8 222.5L346.9 222.9L347.1 222.1L347.3 223.4L347.4 222.5L347.6 223.4L347.8 222.8L347.9 223.6L348.1 223.5L348.3 222.3L348.4 222.5L348.6 223.5L348.8 223.5L348.9 223.4L349.1 222.3L349.3 222.9L349.4 222.4L349.6 222.7L349.8 222.5L349.9 223.4L350.1 222.5L350.3 223.1L350.4 222.6L350.6 223.4L350.8 223.1L350.9 222.4L351.1 223.5L351.3 223.4L351.4 223.1L351.6 223.3L351.8 222.4L351.9 222.3L352.1 222.4L352.3 222.9L352.4 222.6L352.6 222.7L352.8 222.6L352.9 222.7L353.1 222.2L353.3 222.6L353.4 223.6L353.6 222.5L353.8 222.8L353.9 222.4L354.1 223.1L354.3 223.3L354.4 222.8L354.6 223.2L354.8 222.7L354.9 222.8L355.1 222.6L355.3 223.6L355.4 222.4L355.6 223.4L355.8 222.9L355.9 223.0L356.1 222.2L356.3 222.4L356.4 222.3L356.6 223.2L356.8 222.8L356.9 222.3L357.1 222.3L357.3 222.7L357.4 222.8L357.6 223.2L357.8 222.8L357.9 222.3L358.1 222.5L358.3 222.4L358.4 222.7L358.6 223.5L358.8 223.3L358.9 223.0L359.1 222.3L359.3 222.9L359.4 222.2L359.6 222.9L359.8 222.5L359.9 222.6L360.1 223.6L360.3 222.9L360.4 222.7L360.6 222.2L360.8 222.4L360.9 223.2L361.1 223.1L361.3 222.9L361.4 223.0L361.6 223.0L361.8 222.8L361.9 223.5L362.1 222.9L362.3 223.5L362.4 223.6L362.6 222.4L362.8 223.5L362.9 222.6L363.1 222.5L363.3 223.5L363.4 223.5L363.6 223.6L363.8 222.3L363.9 222.9L364.1 223.4L364.3 222.2L364.4 222.7L364.6 222.3L364.8 223.5L364.9 222.7L365.1 222.5L365.3 222.9L365.4 222.9L365.6 223.5L365.8 223.3L365.9 223.2L366.1 222.9L366.3 223.6L366.4 223.5L366.6 222.7L366.8 222.2L366.9 223.2L367.1 222.8L367.3 222.9L367.4 222.5L367.6 222.8L367.8 222.8L367.9 223.6L368.1 223.6L368.3 222.9L368.4 223.4L368.6 223.1L368.8 223.4L368.9 222.5L369.1 223.2L369.3 222.7L369.4 222.7L369.6 222.6L369.8 223.2L369.9 223.4L370.1 220.3L370.3 222.9L370.4 222.6L370.6 222.9L370.8 223.6L370.9 223.4L371.1 223.4L371.3 223.6L371.4 222.6L371.6 222.2L371.8 223.0L371.9 222.2L372.1 223.4L372.3 223.1L372.4 222.7L372.6 222.7L372.8 223.6L372.9 222.3L373.1 222.2L373.3 223.2L373.4 223.2L373.6 222.7L373.8 223.0L373.9 222.8L374.1 222.4L374.3 222.7L374.4 223.4L374.6 223.1L374.8 222.4L374.9 222.3L375.1 223.1L375.3 223.5L375.4 222.5L375.6 223.3L375.8 223.3L375.9 223.0L376.1 223.5L376.3 222.6L376.4 222.4L376.6 223.1L376.8 222.6L376.9 223.4L377.1 223.1L377.3 223.4L377.4 223.5L377.6 223.2L377.8 223.1L377.9 223.6L378.1 222.7L378.3 222.7L378.4 219.9L378.6 223.0L378.8 223.2L378.9 223.5L379.1 222.3L379.3 222.3L379.4 222.9L379.6 222.4L379.8 222.9L379.9 222.3L380.1 222.7L380.3 222.4L380.5 222.8L380.6 222.8L380.8 222.7L381.0 222.4L381.1 223.4L381.3 222.6L381.5 222.6L381.6 222.2L381.8 223.1L382.0 222.6L382.1 223.1L382.3 222.8L382.5 223.6L382.6 222.5L382.8 223.3L383.0 222.9L383.1 223.4L383.3 222.3L383.5 222.6L383.6 222.4L383.8 222.5L384.0 222.4L384.1 222.7L384.3 223.5L384.5 223.5L384.6 222.6L384.8 223.2L385.0 222.6L385.1 223.0L385.3 222.4L385.5 223.1L385.6 223.5L385.8 222.4L386.0 223.2L386.1 223.0L386.3 222.5L386.5 223.2L386.6 222.3L386.8 223.6L387.0 222.5L387.1 222.4L387.3 222.7L387.5 223.3L387.6 223.5L387.8 222.5L388.0 222.6L388.1 222.5L388.3 222.3L388.5 222.8L388.6 222.3L388.8 222.3L389.0 222.8L389.1 222.5L389.3 223.4L389.5 222.2L389.6 222.9L389.8 222.9L390.0 222.6L390.1 222.4L390.3 223.2L390.5 222.6L390.6 222.5L390.8 223.0L391.0 223.0L391.1 222.4L391.3 223.1L391.5 222.5L391.6 222.4L391.8 223.1L392.0 223.2L392.1 223.3L392.3 223.3L392.5 222.4L392.6 223.2L392.8 223.2L393.0 222.7L393.1 223.2L393.3 223.2L393.5 222.3L393.6 222.3L393.8 222.6L394.0 222.5L394.1 223.1L394.3 223.1L394.5 222.5L394.6 222.9L394.8 223.3L395.0 223.1L395.1 222.6L395.3 223.1L395.5 222.5L395.6 223.3L395.8 223.6L396.0 223.4L396.1 223.5L396.3 223.3L396.5 222.3L396.6 222.7L396.8 223.0L397.0 223.4L397.1 222.5L397.3 222.7L397.5 223.2L397.6 222.9L397.8 222.5L398.0 222.3L398.1 222.3L398.3 222.8L398.5 222.9L398.6 219.9L398.8 223.6L399.0 223.2L399.1 222.5L399.3 223.1L399.5 222.7L399.6 222.3L399.8 222.5L400.0 223.2L400.1 223.3L400.3 222.4L400.5 223.3L400.6 222.6L400.8 222.7L401.0 222.8L401.1 223.2L401.3 222.3L401.5 222.6L401.6 223.0L401.8 223.4L402.0 223.0L402.1 223.6L402.3 223.4L402.5 223.3L402.6 223.4L402.8 222.9L403.0 223.4L403.1 223.5L403.3 223.5L403.5 222.4L403.6 223.5L403.8 222.3L404.0 222.4L404.1 222.9L404.3 222.4L404.5 223.6L404.6 222.6L404.8 222.9L405.0 222.8L405.1 222.3L405.3 223.4L405.5 223.2L405.6 222.7L405.8 223.4L406.0 222.4L406.1 223.4L406.3 223.1L406.5 222.6L406.6 222.5L406.8 222.6L407.0 222.5L407.1 223.0L407.3 223.1L407.5 222.9L407.6 223.4L407.8 222.9L408.0 222.9L408.1 223.2L408.3 223.4L408.5 223.5L408.6 223.1L408.8 222.9L409.0 222.3L409.1 223.3L409.3 223.6L409.5 223.2L409.6 223.0L409.8 222.8L410.0 223.1L410.1 222.4L410.3 223.3L410.5 223.3L410.6 223.3L410.8 222.3L411.0 223.0L411.1 223.1L411.3 223.6L411.5 223.1L411.6 222.5L411.8 222.5L412.0 222.4L412.1 223.3L412.3 223.6L412.5 223.4L412.6 223.5L412.8 222.5L413.0 223.2L413.1 222.5L413.3 223.2L413.5 223.5L413.6 223.2L413.8 222.8L414.0 220.8L414.1 222.8L414.3 222.6L414.5 222.9L414.6 222.4L414.8 222.5L415.0 222.3L415.1 222.5L415.3 222.7L415.5 222.5L415.6 222.4L415.8 222.7L416.0 223.5L416.1 223.0L416.3 222.4L416.5 222.7L416.6 223.1L416.8 222.5L417.0 223.1L417.1 223.1L417.3 222.9L417.5 222.7L417.6 222.9L417.8 223.2L418.0 222.9L418.1 223.1L418.3 222.7L418.5 222.9L418.6 223.5L418.8 222.8L419.0 222.4L419.1 222.8L419.3 223.5L419.5 222.9L419.6 223.4L419.8 223.1L420.0 223.4L420.1 222.4L420.3 222.6L420.5 222.9L420.6 223.2L420.8 223.5L421.0 222.7L421.1 223.3L421.3 222.4L421.5 222.5L421.6 223.4L421.8 222.3L422.0 222.4L422.1 223.5L422.3 222.9L422.5 223.2L422.6 222.8L422.8 222.5L423.0 223.3L423.1 223.5L423.3 223.1L423.5 223.4L423.6 222.7L423.8 223.2L424.0 222.8L424.1 223.5L424.3 223.3L424.5 222.6L424.6 222.5L424.8 222.9L425.0 222.9L425.1 223.6L425.3 222.8L425.5 222.8L425.6 223.3L425.8 222.7L426.0 223.5L426.1 222.9L426.3 223.5L426.5 222.5L426.6 223.1L426.8 222.4L427.0 223.0L427.1 222.6L427.3 223.0L427.5 223.6L427.6 223.2L427.8 222.8L428.0 222.6L428.1 223.6L428.3 222.9L428.5 222.6L428.6 223.3L428.8 223.2L429.0 223.2L429.1 222.7L429.3 223.2L429.5 222.5L429.6 222.6L429.8 222.9L430.0 222.4L430.1 223.2L430.3 223.6L430.5 222.7L430.6 222.6L430.8 222.4L431.0 223.4L431.1 223.6L431.3 222.9L431.5 223.1L431.6 223.3L431.8 222.8L432.0 222.9L432.1 222.8L432.3 222.4L432.5 222.5L432.6 223.4L432.8 223.6L433.0 222.8L433.1 223.7L433.3 223.4L433.5 222.5L433.6 223.1L433.8 222.7L434.0 222.8L434.1 223.5L434.3 222.7L434.5 222.7L434.6 223.6L434.8 222.4L435.0 223.5L435.1 223.0L435.3 223.0L435.5 223.0L435.6 222.4L435.8 223.4L436.0 222.6L436.1 222.5L436.3 223.4L436.5 223.7L436.6 223.3L436.8 223.6L437.0 223.6L437.1 222.6L437.3 223.6L437.5 223.3L437.6 223.5L437.8 223.5L438.0 222.9L438.1 222.5L438.3 222.5L438.5 223.5L438.6 222.6L438.8 222.5L439.0 223.3L439.1 223.4L439.3 223.2L439.5 222.6L439.6 222.4L439.8 222.9L440.0 223.1L440.1 223.2L440.3 223.0L440.5 223.3L440.6 222.7L440.8 222.9L441.0 223.2L441.1 222.7L441.3 222.6L441.5 223.4L441.6 223.1L441.8 222.8L442.0 222.7L442.1 223.6L442.3 223.5L442.5 222.6L442.6 222.7L442.8 223.4L443.0 223.1L443.1 222.8L443.3 223.0L443.5 222.6L443.6 223.4L443.8 223.1L444.0 223.2L444.1 222.6L444.3 223.2L444.5 222.7L444.6 223.1L444.8 223.4L445.0 222.8L445.1 223.4L445.3 223.5L445.5 222.6L445.6 222.5L445.8 223.2L446.0 223.2L446.1 222.9L446.3 222.8L446.5 222.9L446.6 223.3L446.8 222.6L447.0 223.2L447.1 222.5L447.3 222.5L447.5 223.3L447.6 222.9L447.8 222.7L448.0 223.3L448.1 222.4L448.3 223.1L448.5 223.0L448.6 223.2L448.8 223.1L449.0 223.5L449.1 222.5L449.3 222.5L449.5 222.7L449.6 222.4L449.8 222.6L450.0 222.9L450.2 223.6L450.3 222.5L450.5 222.7L450.7 223.0L450.8 223.0L451.0 222.8L451.2 222.7L451.3 222.9L451.5 223.2L451.7 223.6L451.8 223.1L452.0 223.5L452.2 223.1L452.3 222.6L452.5 222.6L452.7 223.0L452.8 222.8L453.0 223.1L453.2 222.9L453.3 222.5L453.5 222.5L453.7 223.3L453.8 222.7L454.0 223.2L454.2 223.1L454.3 223.1L454.5 223.4L454.7 223.4L454.8 222.6L455.0 222.9L455.2 223.4L455.3 222.4L455.5 222.7L455.7 222.7L455.8 223.0L456.0 222.9L456.2 223.5L456.3 223.4L456.5 222.8L456.7 222.8L456.8 223.1L457.0 222.6L457.2 223.4L457.3 223.4L457.5 223.6L457.7 222.5L457.8 223.0L458.0 222.9L458.2 222.8L458.3 223.5L458.5 222.6L458.7 222.5L458.8 223.3L459.0 223.3L459.2 222.6L459.3 223.0L459.5 223.4L459.7 222.5L459.8 222.6L460.0 223.2L460.2 222.9L460.3 222.7L460.5 223.2L460.7 222.9L460.8 223.2L461.0 222.6L461.2 223.4L461.3 223.1L461.5 223.6L461.7 222.9L461.8 223.6L462.0 223.2L462.2 222.7L462.3 223.0L462.5 223.2L462.7 223.0L462.8 223.5L463.0 223.3L463.2 222.5L463.3 223.5L463.5 222.7L463.7 222.7L463.8 222.9L464.0 222.7L464.2 223.5L464.3 223.2L464.5 223.2L464.7 223.4L464.8 223.4L465.0 223.3L465.2 222.5L465.3 223.2L465.5 222.7L465.7 222.7L465.8 222.7L466.0 223.0L466.2 223.0L466.3 223.4L466.5 222.6L466.7 223.2L466.8 222.8L467.0 222.6L467.2 222.9L467.3 223.2L467.5 222.6L467.7 223.5L467.8 222.7L468.0 223.3L468.2 222.8L468.3 223.4L468.5 222.6L468.7 223.1L468.8 223.5L469.0 222.7L469.2 223.2L469.3 223.5L469.5 222.6L469.7 223.6L469.8 223.4L470.0 223.4L470.2 223.1L470.3 222.5L470.5 223.6L470.7 222.5L470.8 223.3L471.0 223.1L471.2 222.7L471.3 222.6L471.5 223.5L471.7 222.8L471.8 223.1L472.0 223.6L472.2 222.5L472.3 223.1L472.5 222.8L472.7 222.7L472.8 223.4L473.0 223.3L473.2 223.2L473.3 222.6L473.5 222.7L473.7 222.9L473.8 223.2L474.0 223.3L474.2 223.2L474.3 223.2L474.5 223.1L474.7 223.2L474.8 223.2L475.0 222.7L475.2 222.6L475.3 222.6L475.5 223.5L475.7 222.9L475.8 223.4L476.0 222.6L476.2 223.0L476.3 223.7L476.5 222.7L476.7 222.8L476.8 223.5L477.0 222.6L477.2 223.6L477.3 222.6L477.5 222.5L477.7 223.1L477.8 222.9L478.0 223.2L478.2 223.1L478.3 222.7L478.5 222.7L478.7 223.1L478.8 222.7L479.0 223.3L479.2 222.7L479.3 223.3L479.5 222.7L479.7 223.3L479.8 223.0L480.0 223.4L480.2 223.6L480.3 223.2L480.5 223.6L480.7 223.5L480.8 223.2L481.0 222.7L481.2 223.2L481.3 223.6L481.5 223.1L481.7 223.1L481.8 223.4L482.0 223.2L482.2 223.1L482.3 223.0L482.5 222.9L482.7 222.6L482.8 222.6L483.0 222.8L483.2 223.2L483.3 223.7L483.5 223.1L483.7 223.3L483.8 222.9L484.0 223.4L484.2 222.9L484.3 223.3L484.5 223.5L484.7 223.6L484.8 223.1L485.0 223.5" stroke="#00bfbf" stroke-width="1" opacity="0.95"/>
<line x1="122" y1="69.5" x2="122" y2="140" stroke="#2ec4d0" stroke-width="1.6"/>
<line x1="122" y1="140" x2="122" y2="221" stroke="#1a9ad0" stroke-width="1.6"/>
<path d="M65.0 97.0L65.1 97.2L65.2 96.9L65.3 96.6L65.4 96.8L65.6 96.6L65.7 97.1L65.8 97.8L65.9 96.9L66.0 96.8L66.1 97.4L66.2 97.4L66.3 97.2L66.4 96.7L66.6 97.2L66.7 97.6L66.8 96.6L66.9 97.0L67.0 96.3L67.1 96.7L67.2 96.4L67.3 97.2L67.4 96.7L67.6 97.5L67.7 97.5L67.8 97.3L67.9 96.2L68.0 97.2L68.1 97.4L68.2 97.5L68.3 96.7L68.4 97.3L68.6 97.0L68.7 97.1L68.8 98.1L68.9 97.2L69.0 97.6L69.1 98.0L69.2 97.3L69.3 97.6L69.4 97.7L69.6 97.7L69.7 97.1L69.8 97.7L69.9 98.4L70.0 96.9L70.1 98.2L70.2 97.8L70.3 97.4L70.4 98.8L70.6 98.2L70.7 97.2L70.8 97.9L70.9 98.1L71.0 97.8L71.1 98.2L71.2 97.9L71.3 98.2L71.4 98.6L71.6 97.6L71.7 98.1L71.8 97.7L71.9 98.0L72.0 94.4L72.1 96.4L72.2 97.7L72.3 101.2L72.4 102.2L72.6 94.5L72.7 96.3L72.8 101.2L72.9 92.6L73.0 97.8L73.1 99.2L73.2 103.9L73.3 102.2L73.4 98.8L73.6 98.8L73.7 110.0L73.8 105.9L73.9 99.0L74.0 99.6L74.1 102.1L74.2 100.5L74.3 100.4L74.4 97.0L74.6 101.4L74.7 110.7L74.8 106.3L74.9 104.5L75.0 101.9L75.1 104.9L75.2 100.9L75.3 106.8L75.4 102.6L75.6 105.2L75.7 97.5L75.8 104.5L75.9 96.0L76.0 94.5L76.1 102.2L76.2 99.7L76.3 104.5L76.4 114.0L76.6 100.3L76.7 97.5L76.8 105.3L76.9 106.8L77.0 103.9L77.1 103.9L77.2 108.3L77.3 107.6L77.5 100.3L77.6 98.1L77.7 105.8L77.8 100.5L77.9 107.2L78.0 101.7L78.1 111.0L78.2 107.3L78.3 118.3L78.5 103.7L78.6 106.2L78.7 97.0L78.8 101.5L78.9 109.1L79.0 96.8L79.1 111.8L79.2 99.1L79.3 111.7L79.5 103.9L79.6 112.1L79.7 109.0L79.8 100.9L79.9 114.9L80.0 116.0L80.1 108.7L80.2 107.8L80.3 108.5L80.5 104.6L80.6 115.1L80.7 107.1L80.8 109.7L80.9 106.2L81.0 107.2L81.1 104.1L81.2 116.8L81.3 110.0L81.5 115.7L81.6 111.1L81.7 107.8L81.8 113.9L81.9 108.8L82.0 111.7L82.1 110.0L82.2 110.5L82.3 105.4L82.5 108.4L82.6 120.7L82.7 109.4L82.8 107.6L82.9 114.6L83.0 124.8L83.1 106.1L83.2 112.4L83.3 110.5L83.5 105.1L83.6 117.6L83.7 120.7L83.8 114.6L83.9 110.7L84.0 116.8L84.1 112.1L84.2 114.2L84.3 109.6L84.5 109.2L84.6 122.0L84.7 113.1L84.8 117.1L84.9 115.7L85.0 113.9L85.1 113.6L85.2 119.3L85.3 114.8L85.5 115.6L85.6 116.6L85.7 122.3L85.8 120.0L85.9 118.6L86.0 123.8L86.1 110.1L86.2 121.7L86.3 121.8L86.5 116.5L86.6 126.5L86.7 121.2L86.8 121.5L86.9 122.0L87.0 115.4L87.1 125.1L87.2 111.7L87.3 122.1L87.5 120.4L87.6 122.3L87.7 127.3L87.8 125.5L87.9 112.7L88.0 110.2L88.1 122.5L88.2 113.6L88.3 118.6L88.5 122.8L88.6 110.8L88.7 108.6L88.8 120.3L88.9 119.3L89.0 125.9L89.1 119.5L89.2 115.2L89.3 112.1L89.5 118.7L89.6 114.9L89.7 111.7L89.8 122.2L89.9 119.6L90.0 121.9L90.1 115.3L90.2 116.9L90.3 115.4L90.5 116.0L90.6 121.3L90.7 116.7L90.8 122.3L90.9 122.3L91.0 130.6L91.1 114.1L91.2 125.2L91.3 120.6L91.5 121.1L91.6 114.2L91.7 119.1L91.8 125.0L91.9 121.1L92.0 122.0L92.1 120.3L92.2 127.3L92.3 121.8L92.5 111.4L92.6 118.7L92.7 112.7L92.8 115.0L92.9 119.8L93.0 128.9L93.1 122.8L93.2 117.0L93.3 118.2L93.5 128.3L93.6 123.7L93.7 119.5L93.8 122.8L93.9 123.4L94.0 127.1L94.1 126.0L94.2 124.5L94.3 118.6L94.5 126.1L94.6 120.5L94.7 129.1L94.8 117.9L94.9 123.4L95.0 124.1L95.1 117.9L95.2 132.5L95.3 131.3L95.5 122.1L95.6 128.1L95.7 126.3L95.8 112.0L95.9 125.7L96.0 124.3L96.1 125.0L96.2 119.6L96.3 129.1L96.5 123.9L96.6 144.0L96.7 126.5L96.8 124.9L96.9 132.2L97.0 122.4L97.1 123.2L97.2 116.5L97.3 132.6L97.5 129.8L97.6 129.6L97.7 128.5L97.8 125.8L97.9 126.4L98.0 124.2L98.1 135.7L98.2 125.8L98.3 132.7L98.5 128.2L98.6 125.4L98.7 122.9L98.8 122.7L98.9 133.4L99.0 128.2L99.1 126.2L99.2 124.3L99.3 120.7L99.5 125.7L99.6 130.2L99.7 124.3L99.8 125.1L99.9 125.2L100.0 126.8L100.1 118.8L100.2 125.2L100.3 122.4L100.5 130.6L100.6 122.8L100.7 129.3L100.8 133.8L100.9 125.2L101.0 123.8L101.1 127.6L101.2 126.7L101.3 122.1L101.5 129.0L101.6 129.5L101.7 125.7L101.8 126.0L101.9 122.1L102.0 128.6L102.1 121.2L102.2 115.9L102.4 133.2L102.5 122.9L102.6 132.3L102.7 134.4L102.8 128.5L102.9 129.9L103.0 136.5L103.1 126.4L103.2 124.5L103.4 129.4L103.5 127.4L103.6 134.0L103.7 131.6L103.8 129.3L103.9 123.0L104.0 124.6L104.1 128.3L104.2 125.9L104.4 127.8L104.5 128.1L104.6 125.3L104.7 126.5L104.8 127.6L104.9 126.2L105.0 141.8L105.1 135.2L105.2 129.2L105.4 126.7L105.5 118.5L105.6 128.2L105.7 117.3L105.8 129.9L105.9 130.2L106.0 129.5L106.1 125.5L106.2 118.2L106.4 124.4L106.5 122.9L106.6 129.0L106.7 136.5L106.8 127.0L106.9 122.3L107.0 120.5L107.1 125.6L107.2 125.0L107.4 120.5L107.5 126.3L107.6 120.4L107.7 130.9L107.8 130.6L107.9 130.7L108.0 123.4L108.1 128.0L108.2 130.7L108.4 123.7L108.5 123.9L108.6 119.4L108.7 118.7L108.8 129.0L108.9 124.5L109.0 126.3L109.1 129.9L109.2 117.3L109.4 121.6L109.5 126.0L109.6 127.0L109.7 123.4L109.8 129.8L109.9 126.0L110.0 119.4L110.1 120.7L110.2 128.6L110.4 127.0L110.5 116.1L110.6 123.0L110.7 127.5L110.8 130.8L110.9 122.8L111.0 123.2L111.1 133.2L111.2 136.1L111.4 123.6L111.5 131.6L111.6 121.4L111.7 125.0L111.8 116.6L111.9 122.4L112.0 128.6L112.1 118.3L112.2 128.8L112.4 125.4L112.5 119.1L112.6 121.5L112.7 121.6L112.8 123.4L112.9 121.1L113.0 119.7L113.1 122.0L113.2 118.7L113.4 117.4L113.5 123.0L113.6 127.2L113.7 116.1L113.8 123.0L113.9 120.0L114.0 118.5L114.1 126.7L114.2 120.5L114.4 129.5L114.5 119.2L114.6 124.4L114.7 121.5L114.8 119.1L114.9 125.1L115.0 121.7L115.1 125.1L115.2 122.1L115.4 112.2L115.5 121.8L115.6 122.5L115.7 126.5L115.8 132.0L115.9 121.9L116.0 114.3L116.1 125.0L116.2 117.1L116.4 113.8L116.5 121.6L116.6 137.9L116.7 115.0L116.8 116.9L116.9 118.4L117.0 116.7L117.1 135.6L117.2 118.2L117.4 118.6L117.5 130.2L117.6 129.7L117.7 123.9L117.8 117.6L117.9 116.6L118.0 113.8L118.1 130.4L118.2 120.7L118.4 123.2L118.5 122.0L118.6 122.9L118.7 122.5L118.8 130.8L118.9 117.7L119.0 115.5L119.1 117.9L119.2 116.5L119.4 134.0L119.5 126.2L119.6 118.3L119.7 116.5L119.8 121.1L119.9 128.9L120.0 110.3L120.1 125.1L120.2 118.1L120.4 127.5L120.5 118.2L120.6 121.7L120.7 116.4L120.8 118.7L120.9 129.2L121.0 126.8L121.1 121.5L121.2 119.6L121.4 115.3L121.5 122.0L121.6 123.8L121.7 123.7L121.8 123.8L121.9 119.4L122.0 124.2L122.1 124.4L122.2 136.0L122.4 133.0L122.5 124.4L122.6 117.0L122.7 125.0L122.8 122.8L122.9 122.3L123.0 125.4L123.1 121.2L123.2 128.6L123.4 125.6L123.5 127.3L123.6 125.5L123.7 123.3L123.8 134.6L123.9 129.9L124.0 132.6L124.1 127.9L124.2 126.9L124.4 121.0L124.5 127.3L124.6 121.2L124.7 124.4L124.8 125.8L124.9 118.1L125.0 127.6L125.1 127.8L125.2 126.5L125.4 125.4L125.5 125.6L125.6 123.1L125.7 139.3L125.8 124.9L125.9 127.7L126.0 130.5L126.1 128.4L126.2 128.0L126.4 126.8L126.5 125.5L126.6 129.8L126.7 120.3L126.8 129.5L126.9 128.5L127.0 128.7L127.1 129.2L127.3 124.8L127.4 126.5L127.5 130.3L127.6 129.5L127.7 128.5L127.8 121.2L127.9 139.1L128.0 132.8L128.1 132.1L128.3 128.8L128.4 121.1L128.5 131.9L128.6 127.2L128.7 117.1L128.8 129.5L128.9 121.6L129.0 122.4L129.1 125.3L129.3 133.4L129.4 126.5L129.5 129.2L129.6 135.5L129.7 134.9L129.8 127.7L129.9 127.1L130.0 122.8L130.1 125.2L130.3 130.0L130.4 129.9L130.5 128.7L130.6 132.5L130.7 125.1L130.8 121.3L130.9 131.5L131.0 130.9L131.1 133.0L131.3 130.2L131.4 127.2L131.5 139.3L131.6 124.3L131.7 121.6L131.8 131.0L131.9 128.4L132.0 129.9L132.1 121.5L132.3 127.1L132.4 126.2L132.5 125.1L132.6 119.2L132.7 127.3L132.8 127.0L132.9 130.4L133.0 126.3L133.1 128.8L133.3 132.0L133.4 117.3L133.5 143.3L133.6 131.2L133.7 131.8L133.8 136.1L133.9 133.7L134.0 130.3L134.1 130.4L134.3 138.7L134.4 134.9L134.5 141.7L134.6 133.1L134.7 137.5L134.8 128.7L134.9 129.3L135.0 130.4L135.1 127.4L135.3 129.5L135.4 135.8L135.5 125.7L135.6 129.0L135.7 129.0L135.8 133.1L135.9 134.2L136.0 123.6L136.1 126.1L136.3 131.3L136.4 127.3L136.5 123.8L136.6 134.5L136.7 132.2L136.8 132.3L136.9 128.3L137.0 134.5L137.1 129.4L137.3 134.9L137.4 126.7L137.5 127.0L137.6 131.4L137.7 127.6L137.8 133.3L137.9 141.3L138.0 141.3L138.1 130.9L138.3 129.2L138.4 134.4L138.5 128.0L138.6 135.3L138.7 135.7L138.8 139.9L138.9 138.9L139.0 130.9L139.1 131.5L139.3 136.9L139.4 130.1L139.5 126.6L139.6 131.0L139.7 143.9L139.8 127.1L139.9 137.5L140.0 124.7L140.1 133.3L140.3 127.5L140.4 130.0L140.5 131.4L140.6 133.0L140.7 129.1L140.8 132.5L140.9 126.8L141.0 128.9L141.1 126.2L141.3 130.5L141.4 130.2L141.5 127.3L141.6 128.9L141.7 129.4L141.8 133.2L141.9 123.9L142.0 126.1L142.1 128.8L142.3 140.5L142.4 134.1L142.5 129.9L142.6 133.2L142.7 138.7L142.8 129.4L142.9 129.0L143.0 135.4L143.1 132.5L143.3 133.2L143.4 128.5L143.5 138.3L143.6 144.2L143.7 133.0L143.8 141.6L143.9 122.7L144.0 133.5L144.1 130.3L144.3 132.8L144.4 133.9L144.5 130.0L144.6 124.5L144.7 132.8L144.8 128.5L144.9 130.2L145.0 129.2L145.1 137.5L145.3 122.4L145.4 140.7L145.5 132.6L145.6 136.1L145.7 139.6L145.8 131.9L145.9 124.8L146.0 128.4L146.1 127.3L146.3 130.0L146.4 132.3L146.5 124.1L146.6 133.5L146.7 126.2L146.8 133.4L146.9 131.8L147.0 131.1L147.1 132.1L147.3 140.1L147.4 129.9L147.5 125.7L147.6 132.3L147.7 139.7L147.8 140.2L147.9 137.8L148.0 140.6L148.1 130.0L148.3 138.4L148.4 132.5L148.5 132.4L148.6 131.5L148.7 133.0L148.8 131.0L148.9 132.5L149.0 128.5L149.1 131.2L149.3 141.6L149.4 132.4L149.5 131.8L149.6 135.0L149.7 135.6L149.8 128.6L149.9 132.2L150.0 136.6L150.1 149.0L150.3 143.8L150.4 139.0L150.5 130.3L150.6 133.1L150.7 130.8L150.8 138.5L150.9 125.0L151.0 130.0L151.1 130.6L151.3 135.2L151.4 135.0L151.5 137.9L151.6 126.3L151.7 135.3L151.8 131.3L151.9 129.7L152.0 134.4L152.2 128.7L152.3 124.3L152.4 130.9L152.5 126.4L152.6 129.7L152.7 146.6L152.8 133.4L152.9 138.2L153.0 131.2L153.2 125.9L153.3 129.0L153.4 128.4L153.5 127.2L153.6 133.8L153.7 129.5L153.8 124.2L153.9 134.7L154.0 131.5L154.2 133.2L154.3 132.4L154.4 134.4L154.5 132.0L154.6 136.6L154.7 133.5L154.8 127.5L154.9 133.2L155.0 125.9L155.2 130.8L155.3 130.5L155.4 132.4L155.5 126.2L155.6 137.8L155.7 131.9L155.8 133.5L155.9 124.8L156.0 130.2L156.2 137.2L156.3 128.5L156.4 131.8L156.5 128.8L156.6 133.5L156.7 128.4L156.8 131.1L156.9 134.9L157.0 141.2L157.2 127.3L157.3 129.5L157.4 128.1L157.5 134.4L157.6 126.9L157.7 129.6L157.8 138.7L157.9 127.9L158.0 128.1L158.2 134.3L158.3 123.7L158.4 126.3L158.5 130.2L158.6 132.4L158.7 131.1L158.8 124.9L158.9 130.1L159.0 135.0L159.2 134.1L159.3 131.7L159.4 128.5L159.5 134.4L159.6 129.9L159.7 127.6L159.8 129.2L159.9 137.9L160.0 133.3L160.2 136.7L160.3 130.5L160.4 136.1L160.5 130.3L160.6 131.9L160.7 142.1L160.8 135.6L160.9 141.8L161.0 132.4L161.2 134.0L161.3 137.4L161.4 130.9L161.5 126.1L161.6 131.8L161.7 132.9L161.8 133.4L161.9 138.1L162.0 134.3L162.2 136.3L162.3 129.0L162.4 136.6L162.5 141.4L162.6 136.2L162.7 141.7L162.8 133.9L162.9 140.1L163.0 129.6L163.2 132.8L163.3 134.9L163.4 136.0L163.5 131.6L163.6 134.4L163.7 132.2L163.8 133.8L163.9 132.7L164.0 128.7L164.2 133.1L164.3 136.6L164.4 129.5L164.5 132.3L164.6 135.6L164.7 128.8L164.8 133.6L164.9 136.2L165.0 137.2L165.2 141.6L165.3 140.2L165.4 131.5L165.5 135.2L165.6 132.6L165.7 132.4L165.8 137.8L165.9 126.7L166.0 135.6L166.2 131.2L166.3 136.6L166.4 140.1L166.5 128.4L166.6 131.9L166.7 133.4L166.8 134.5L166.9 132.0L167.0 128.0L167.2 121.7L167.3 133.2L167.4 132.4L167.5 130.3L167.6 129.9L167.7 133.5L167.8 127.6L167.9 126.5L168.0 128.4L168.2 126.5L168.3 132.9L168.4 133.5L168.5 126.4L168.6 124.5L168.7 133.4L168.8 122.7L168.9 136.5L169.0 127.2L169.2 132.2L169.3 133.1L169.4 126.8L169.5 130.0L169.6 131.3L169.7 126.1L169.8 129.8L169.9 120.6L170.0 126.4L170.2 126.7L170.3 129.0L170.4 128.7L170.5 126.6L170.6 127.2L170.7 133.2L170.8 129.7L170.9 132.3L171.0 133.6L171.2 131.5L171.3 137.8L171.4 126.2L171.5 132.6L171.6 128.5L171.7 137.0L171.8 136.6L171.9 122.9L172.0 126.9L172.2 133.3L172.3 133.9L172.4 133.9L172.5 130.9L172.6 133.2L172.7 134.0L172.8 131.3L172.9 135.8L173.0 123.5L173.2 134.5L173.3 128.4L173.4 136.1L173.5 131.7L173.6 129.5L173.7 134.5L173.8 129.7L173.9 129.9L174.0 127.6L174.2 133.6L174.3 135.7L174.4 137.8L174.5 133.5L174.6 130.4L174.7 134.5L174.8 134.1L174.9 136.6L175.0 138.6L175.2 128.2L175.3 134.0L175.4 134.4L175.5 135.4L175.6 131.6L175.7 139.1L175.8 133.7L175.9 136.9L176.0 132.2L176.2 136.6L176.3 136.6L176.4 133.5L176.5 142.7L176.6 136.5L176.7 141.8L176.8 138.7L176.9 132.6L177.1 133.7L177.2 136.9L177.3 135.3L177.4 135.2L177.5 133.9L177.6 128.1L177.7 134.0L177.8 126.4L177.9 136.1L178.1 131.7L178.2 131.7L178.3 133.5L178.4 135.2L178.5 128.6L178.6 127.2L178.7 129.7L178.8 126.1L178.9 130.1L179.1 139.8L179.2 129.7L179.3 136.0L179.4 128.4L179.5 134.6L179.6 132.3L179.7 133.3L179.8 135.6L179.9 140.1L180.1 134.0L180.2 133.6L180.3 129.5L180.4 135.3L180.5 132.2L180.6 136.3L180.7 133.0L180.8 139.7L180.9 125.7L181.1 132.2L181.2 136.7L181.3 132.1L181.4 130.6L181.5 132.6L181.6 128.4L181.7 134.2L181.8 143.1L181.9 138.3L182.1 130.0L182.2 131.1L182.3 132.9L182.4 138.2L182.5 131.5L182.6 132.1L182.7 138.0L182.8 138.2L182.9 133.7L183.1 131.0L183.2 129.7L183.3 133.1L183.4 127.4L183.5 138.8L183.6 133.7L183.7 138.1L183.8 143.7L183.9 141.2L184.1 132.6L184.2 140.4L184.3 141.7L184.4 134.6L184.5 133.8L184.6 137.1L184.7 131.6L184.8 143.3L184.9 129.0L185.1 133.9L185.2 137.3L185.3 137.6L185.4 139.3L185.5 139.8L185.6 138.0L185.7 143.3L185.8 131.1L185.9 139.0L186.1 136.4L186.2 139.7L186.3 140.1L186.4 136.1L186.5 137.1L186.6 142.5L186.7 141.0L186.8 137.2L186.9 147.4L187.1 148.6L187.2 134.5L187.3 141.2L187.4 149.5L187.5 143.1L187.6 140.9L187.7 139.3L187.8 138.0L187.9 139.2L188.1 137.9L188.2 142.8L188.3 138.4L188.4 138.2L188.5 135.3L188.6 139.5L188.7 136.4L188.8 139.0L188.9 143.7L189.1 141.3L189.2 141.8L189.3 141.3L189.4 140.1L189.5 139.4L189.6 138.6L189.7 142.5L189.8 135.6L189.9 144.4L190.1 139.3L190.2 136.3L190.3 137.3L190.4 136.4L190.5 146.7L190.6 136.2L190.7 143.0L190.8 135.7L190.9 129.8L191.1 135.5L191.2 130.6L191.3 137.8L191.4 141.8L191.5 140.2L191.6 132.7L191.7 134.8L191.8 144.1L191.9 138.6L192.1 137.2L192.2 141.1L192.3 146.1L192.4 141.7L192.5 137.4L192.6 138.1L192.7 139.1L192.8 134.4L192.9 132.7L193.1 136.8L193.2 132.9L193.3 136.2L193.4 137.0L193.5 145.4L193.6 133.5L193.7 136.3L193.8 136.1L193.9 138.3L194.1 140.5L194.2 134.9L194.3 133.6L194.4 130.5L194.5 133.2L194.6 138.6L194.7 136.7L194.8 132.8L194.9 135.4L195.1 136.9L195.2 138.7L195.3 134.8L195.4 136.1L195.5 130.2L195.6 132.8L195.7 143.2L195.8 129.1L195.9 136.1L196.1 138.3L196.2 136.2L196.3 134.7L196.4 137.6L196.5 137.9L196.6 137.8L196.7 131.3L196.8 137.8L196.9 135.2L197.1 136.5L197.2 139.5L197.3 141.0L197.4 142.0L197.5 136.9L197.6 142.3L197.7 143.2L197.8 143.1L197.9 144.0L198.1 138.5L198.2 138.5L198.3 142.1L198.4 134.0L198.5 139.9L198.6 137.2L198.7 137.9L198.8 132.8L198.9 136.0L199.1 139.3L199.2 142.6L199.3 143.1L199.4 139.0L199.5 138.7L199.6 136.3L199.7 140.8L199.8 138.6L199.9 141.9L200.1 146.1L200.2 139.4L200.3 134.1L200.4 136.5L200.5 134.3L200.6 135.3L200.7 144.6L200.8 140.5L200.9 134.1L201.1 142.3L201.2 144.6L201.3 138.6L201.4 137.6L201.5 138.9L201.6 141.2L201.7 142.5L201.8 144.5L202.0 144.7L202.1 144.7L202.2 145.5L202.3 142.8L202.4 144.1L202.5 140.1L202.6 146.7L202.7 139.2L202.8 144.1L203.0 139.3L203.1 137.4L203.2 146.3L203.3 143.5L203.4 141.9L203.5 144.6L203.6 145.2L203.7 142.6L203.8 132.3L204.0 139.0L204.1 149.6L204.2 138.1L204.3 142.5L204.4 146.2L204.5 140.2L204.6 137.8L204.7 149.6L204.8 140.6L205.0 137.7L205.1 143.1L205.2 143.8L205.3 139.7L205.4 145.2L205.5 140.5L205.6 138.9L205.7 143.0L205.8 145.2L206.0 139.9L206.1 143.4L206.2 141.9L206.3 152.7L206.4 139.5L206.5 147.3L206.6 141.9L206.7 141.6L206.8 144.8L207.0 145.3L207.1 146.6L207.2 143.0L207.3 139.6L207.4 139.7L207.5 143.6L207.6 143.8L207.7 146.8L207.8 143.2L208.0 140.2L208.1 147.1L208.2 142.0L208.3 135.8L208.4 136.7L208.5 135.7L208.6 146.9L208.7 137.8L208.8 145.4L209.0 142.9L209.1 147.0L209.2 144.4L209.3 140.2L209.4 139.6L209.5 140.8L209.6 140.9L209.7 138.1L209.8 139.9L210.0 145.8L210.1 133.5L210.2 140.6L210.3 136.3L210.4 140.2L210.5 142.6L210.6 139.4L210.7 142.6L210.8 133.8L211.0 143.8L211.1 137.3L211.2 141.8L211.3 140.3L211.4 129.9L211.5 136.6L211.6 140.1L211.7 145.0L211.8 140.2L212.0 140.1L212.1 133.7L212.2 144.2L212.3 145.6L212.4 138.9L212.5 137.9L212.6 132.7L212.7 141.9L212.8 148.5L213.0 141.1L213.1 143.1L213.2 140.3L213.3 134.6L213.4 143.3L213.5 133.8L213.6 137.5L213.7 139.2L213.8 141.4L214.0 139.7L214.1 139.6L214.2 135.4L214.3 133.4L214.4 138.4L214.5 135.5L214.6 133.2L214.7 133.2L214.8 136.3L215.0 131.3L215.1 133.3L215.2 132.1L215.3 139.0L215.4 140.0L215.5 145.9L215.6 133.1L215.7 136.0L215.8 141.9L216.0 137.7L216.1 137.3L216.2 144.9L216.3 137.3L216.4 134.3L216.5 133.7L216.6 139.9L216.7 139.9L216.8 133.6L217.0 135.1L217.1 140.8L217.2 141.1L217.3 136.6L217.4 141.4L217.5 141.2L217.6 132.4L217.7 138.0L217.8 140.8L218.0 143.0L218.1 131.5L218.2 138.5L218.3 142.5L218.4 145.7L218.5 131.7L218.6 149.6L218.7 135.9L218.8 143.8L219.0 145.0L219.1 144.1L219.2 141.0L219.3 136.1L219.4 142.8L219.5 137.8L219.6 131.1L219.7 150.9L219.8 143.1L220.0 147.2L220.1 137.2L220.2 146.0L220.3 146.4L220.4 146.5L220.5 140.7L220.6 136.5L220.7 140.4L220.8 133.0L221.0 134.9L221.1 141.6L221.2 137.5L221.3 140.6L221.4 140.8L221.5 148.4L221.6 146.0L221.7 141.0L221.8 145.7L222.0 138.1L222.1 139.7L222.2 144.2L222.3 136.1L222.4 139.5L222.5 135.5L222.6 140.9L222.7 146.4L222.8 137.5L223.0 141.1L223.1 136.8L223.2 135.8L223.3 135.5L223.4 145.4L223.5 148.7L223.6 141.9L223.7 137.4L223.8 142.4L224.0 138.3L224.1 142.4L224.2 140.4L224.3 140.2L224.4 141.2L224.5 143.9L224.6 137.1L224.7 132.1L224.8 136.7L225.0 132.9L225.1 137.6L225.2 134.6L225.3 131.5L225.4 139.5L225.5 132.5L225.6 134.6L225.7 133.9L225.9 140.1L226.0 143.6L226.1 140.2L226.2 135.6L226.3 142.3L226.4 131.1L226.5 142.2L226.6 134.3L226.7 126.3L226.9 146.3L227.0 142.3L227.1 132.6L227.2 136.9L227.3 135.4L227.4 136.5L227.5 130.7L227.6 133.6L227.7 137.9L227.9 136.9L228.0 140.6L228.1 136.4L228.2 144.9L228.3 133.5L228.4 137.2L228.5 129.0L228.6 131.5L228.7 141.1L228.9 132.9L229.0 138.5L229.1 136.4L229.2 132.8L229.3 135.5L229.4 134.9L229.5 135.1L229.6 139.8L229.7 139.4L229.9 135.0L230.0 133.9L230.1 138.4L230.2 137.1L230.3 141.4L230.4 147.6L230.5 141.0L230.6 137.9L230.7 137.4L230.9 134.9L231.0 135.0L231.1 134.6L231.2 137.0L231.3 146.8L231.4 141.3L231.5 137.0L231.6 137.7L231.7 134.0L231.9 144.6L232.0 140.3L232.1 145.2L232.2 141.6L232.3 136.2L232.4 137.4L232.5 141.0L232.6 148.1L232.7 130.1L232.9 142.4L233.0 144.3L233.1 139.3L233.2 140.4L233.3 142.1L233.4 134.8L233.5 138.6L233.6 133.5L233.7 134.2L233.9 134.3L234.0 135.9L234.1 136.8L234.2 137.7L234.3 130.5L234.4 143.3L234.5 139.9L234.6 138.0L234.7 133.7L234.9 134.5L235.0 136.7L235.1 136.0L235.2 127.8L235.3 136.9L235.4 145.1L235.5 126.8L235.6 137.3L235.7 134.8L235.9 132.8L236.0 138.3L236.1 128.2L236.2 133.4L236.3 138.2L236.4 131.7L236.5 130.7L236.6 132.6L236.7 130.4L236.9 138.0L237.0 128.4L237.1 135.0L237.2 126.8L237.3 134.1L237.4 131.2L237.5 121.7L237.6 131.7L237.7 127.6L237.9 129.8L238.0 137.2L238.1 127.0L238.2 127.3L238.3 136.8L238.4 131.9L238.5 137.4L238.6 132.7L238.7 128.2L238.9 131.3L239.0 136.3L239.1 135.1L239.2 131.5L239.3 131.7L239.4 131.2L239.5 129.6L239.6 139.1L239.7 131.9L239.9 127.5L240.0 130.2L240.1 134.9L240.2 134.7L240.3 131.8L240.4 129.9L240.5 132.6L240.6 126.2L240.7 127.6L240.9 135.8L241.0 131.0L241.1 134.3L241.2 137.6L241.3 135.7L241.4 133.3L241.5 141.4L241.6 136.0L241.7 132.0L241.9 136.2L242.0 130.8L242.1 130.3L242.2 134.1L242.3 133.3L242.4 126.4L242.5 133.3L242.6 133.0L242.7 132.4L242.9 127.7L243.0 132.8L243.1 134.0L243.2 134.5L243.3 129.8L243.4 136.6L243.5 129.6L243.6 133.4L243.7 139.2L243.9 131.7L244.0 132.3L244.1 138.5L244.2 132.9L244.3 133.0L244.4 135.0L244.5 138.2L244.6 125.8L244.7 131.0L244.9 130.4L245.0 130.1L245.1 130.9L245.2 130.9L245.3 135.1L245.4 130.6L245.5 134.5L245.6 135.6L245.7 131.3L245.9 134.3L246.0 140.0L246.1 135.0L246.2 131.3L246.3 133.4L246.4 129.9L246.5 129.3L246.6 136.5L246.7 130.0L246.9 132.2L247.0 137.2L247.1 131.0L247.2 133.5L247.3 128.8L247.4 129.4L247.5 130.5L247.6 140.5L247.7 130.6L247.9 130.1L248.0 129.9L248.1 131.3L248.2 134.4L248.3 132.5L248.4 139.3L248.5 132.2L248.6 136.7L248.7 132.3L248.9 133.5L249.0 125.7L249.1 130.6L249.2 130.8L249.3 130.0L249.4 122.9L249.5 134.3L249.6 129.5L249.7 129.4L249.9 130.1L250.0 130.2L250.1 132.6L250.2 126.3L250.3 127.5L250.4 132.0L250.5 131.5L250.6 129.6L250.8 128.9L250.9 128.0L251.0 131.0L251.1 135.6L251.2 127.4L251.3 136.9L251.4 134.5L251.5 129.8L251.6 134.4L251.8 126.1L251.9 125.3L252.0 127.0L252.1 130.5L252.2 130.8L252.3 130.1L252.4 132.5L252.5 124.2L252.6 134.2L252.8 127.4L252.9 130.3L253.0 131.3L253.1 128.6L253.2 128.0L253.3 129.5L253.4 133.3L253.5 135.6L253.6 135.6L253.8 129.9L253.9 130.6L254.0 130.3L254.1 135.5L254.2 126.4L254.3 138.8L254.4 132.3L254.5 131.3L254.6 135.6L254.8 138.3L254.9 135.9L255.0 138.7L255.1 135.3L255.2 139.4L255.3 139.5L255.4 134.7L255.5 140.4L255.6 135.7L255.8 135.5L255.9 131.8L256.0 134.2L256.1 138.3L256.2 130.5L256.3 137.9L256.4 136.7L256.5 136.4L256.6 127.2L256.8 135.3L256.9 138.2L257.0 132.9L257.1 136.1L257.2 126.9L257.3 138.4L257.4 133.4L257.5 139.2L257.6 129.1L257.8 138.6L257.9 135.1L258.0 139.1L258.1 132.4L258.2 133.6L258.3 144.4L258.4 132.8L258.5 133.3L258.6 134.9L258.8 132.0L258.9 140.5L259.0 142.4L259.1 133.3L259.2 129.5L259.3 140.2L259.4 140.2L259.5 139.2L259.6 140.4L259.8 132.8L259.9 135.5L260.0 130.8L260.1 130.6L260.2 139.4L260.3 133.3L260.4 144.3L260.5 140.4L260.6 133.3L260.8 138.6L260.9 142.2L261.0 137.2L261.1 130.8L261.2 136.8L261.3 140.5L261.4 133.4L261.5 132.4L261.6 139.1L261.8 135.5L261.9 130.7L262.0 133.6L262.1 132.1L262.2 136.0L262.3 135.3L262.4 139.1L262.5 137.3L262.6 128.8L262.8 136.1L262.9 145.0L263.0 136.1L263.1 138.1L263.2 132.1L263.3 130.5L263.4 137.5L263.5 129.9L263.6 125.6L263.8 137.3L263.9 130.7L264.0 132.0L264.1 127.9L264.2 128.2L264.3 128.7L264.4 131.6L264.5 134.3L264.6 124.2L264.8 135.4L264.9 128.1L265.0 128.5L265.1 134.9L265.2 126.2L265.3 126.4L265.4 139.1L265.5 129.0L265.6 133.1L265.8 132.8L265.9 131.2L266.0 130.3L266.1 135.9L266.2 129.3L266.3 136.2L266.4 129.2L266.5 130.8L266.6 139.3L266.8 133.3L266.9 132.6L267.0 140.6L267.1 133.6L267.2 129.1L267.3 134.8L267.4 127.8L267.5 136.3L267.6 136.5L267.8 130.0L267.9 129.7L268.0 133.0L268.1 132.4L268.2 128.7L268.3 134.6L268.4 124.8L268.5 130.9L268.6 130.9L268.8 131.5L268.9 133.8L269.0 128.2L269.1 135.0L269.2 132.3L269.3 130.6L269.4 134.3L269.5 128.5L269.6 134.4L269.8 129.6L269.9 133.4L270.0 137.2L270.1 137.0L270.2 139.1L270.3 132.2L270.4 129.3L270.5 137.2L270.6 134.5L270.8 137.6L270.9 133.6L271.0 137.9L271.1 136.6L271.2 136.2L271.3 141.0L271.4 135.0L271.5 134.5L271.6 134.5L271.8 137.3L271.9 131.7L272.0 140.1L272.1 133.2L272.2 137.2L272.3 133.3L272.4 132.6L272.5 141.2L272.6 132.3L272.8 128.5L272.9 130.6L273.0 132.0L273.1 141.1L273.2 133.7L273.3 136.3L273.4 129.0L273.5 133.9L273.6 135.2L273.8 139.4L273.9 129.9L274.0 134.8L274.1 133.6L274.2 128.6L274.3 125.9L274.4 131.3L274.5 123.5L274.6 134.4L274.8 134.0L274.9 130.4L275.0 126.9L275.1 137.4L275.2 132.7L275.3 140.0L275.4 137.0L275.5 129.6L275.7 134.7L275.8 130.7L275.9 131.4L276.0 131.3L276.1 131.7L276.2 136.0L276.3 132.5L276.4 131.5L276.5 131.2L276.7 133.6L276.8 129.0L276.9 130.6L277.0 132.3L277.1 130.5L277.2 132.4L277.3 130.8L277.4 140.7L277.5 138.4L277.7 135.3L277.8 133.6L277.9 142.2L278.0 135.3L278.1 134.0L278.2 135.6L278.3 135.8L278.4 140.2L278.5 135.1L278.7 143.1L278.8 132.0L278.9 138.1L279.0 131.9L279.1 142.7L279.2 134.9L279.3 136.2L279.4 140.1L279.5 141.6L279.7 133.0L279.8 136.0L279.9 128.9L280.0 138.2L280.1 137.5L280.2 136.7L280.3 135.6L280.4 136.9L280.5 135.6L280.7 140.6L280.8 144.4L280.9 131.7L281.0 138.7L281.1 137.7L281.2 141.2L281.3 135.8L281.4 138.9L281.5 135.4L281.7 142.0L281.8 139.9L281.9 138.8L282.0 140.9L282.1 138.8L282.2 133.8L282.3 141.8L282.4 140.7L282.5 139.1L282.7 143.3L282.8 144.2L282.9 135.5L283.0 136.5L283.1 145.1L283.2 144.5L283.3 136.2L283.4 134.6L283.5 136.4L283.7 136.9L283.8 132.7L283.9 138.6L284.0 133.6L284.1 133.8L284.2 141.6L284.3 135.4L284.4 137.5L284.5 140.0L284.7 140.7L284.8 136.3L284.9 137.8L285.0 134.4L285.1 143.9L285.2 139.6L285.3 132.8L285.4 136.8L285.5 131.9L285.7 138.3L285.8 143.3L285.9 141.5L286.0 134.2L286.1 135.7L286.2 131.1L286.3 142.0L286.4 136.4L286.5 146.0L286.7 136.2L286.8 127.9L286.9 133.2L287.0 136.0L287.1 130.7L287.2 132.2L287.3 134.1L287.4 136.7L287.5 134.8L287.7 132.0L287.8 138.2L287.9 133.3L288.0 133.3L288.1 129.9L288.2 132.0L288.3 137.3L288.4 128.6L288.5 134.2L288.7 137.2L288.8 133.1L288.9 135.4L289.0 130.4L289.1 139.5L289.2 138.7L289.3 135.5L289.4 128.1L289.5 130.8L289.7 138.4L289.8 141.1L289.9 135.8L290.0 139.4L290.1 132.3L290.2 133.9L290.3 134.5L290.4 136.2L290.5 128.9L290.7 138.2L290.8 139.5L290.9 130.3L291.0 129.4L291.1 135.6L291.2 131.8L291.3 125.1L291.4 136.8L291.5 134.3L291.7 127.7L291.8 141.4L291.9 134.0L292.0 130.7L292.1 134.0L292.2 129.7L292.3 130.7L292.4 134.8L292.5 131.3L292.7 131.6L292.8 139.5L292.9 136.6L293.0 136.3L293.1 135.3L293.2 135.1L293.3 138.8L293.4 133.3L293.5 140.3L293.7 129.7L293.8 132.1L293.9 127.8L294.0 131.7L294.1 135.0L294.2 138.6L294.3 130.5L294.4 133.2L294.5 131.8L294.7 130.2L294.8 128.4L294.9 133.1L295.0 126.5L295.1 133.5L295.2 133.2L295.3 130.8L295.4 129.3L295.5 127.9L295.7 140.1L295.8 128.1L295.9 139.1L296.0 135.6L296.1 132.1L296.2 129.2L296.3 137.5L296.4 140.0L296.5 130.1L296.7 132.6L296.8 137.8L296.9 135.2L297.0 141.5L297.1 132.0L297.2 136.3L297.3 129.7L297.4 142.4L297.5 131.9L297.7 126.2L297.8 134.1L297.9 134.1L298.0 141.8L298.1 133.4L298.2 134.7L298.3 137.1L298.4 140.9L298.5 134.8L298.7 139.0L298.8 137.2L298.9 134.1L299.0 135.6L299.1 135.5L299.2 132.1L299.3 140.2L299.4 130.6L299.5 140.4L299.7 139.5L299.8 135.7L299.9 133.3L300.0 135.4L300.1 138.2L300.2 139.3L300.3 137.7L300.4 140.4L300.6 134.6L300.7 137.5L300.8 130.8L300.9 139.6L301.0 137.2L301.1 135.1L301.2 141.2L301.3 139.5L301.4 126.3L301.6 137.1L301.7 137.1L301.8 141.0L301.9 146.3L302.0 135.0L302.1 137.1L302.2 135.9L302.3 138.3L302.4 139.3L302.6 141.6L302.7 133.0L302.8 142.7L302.9 133.2L303.0 137.6L303.1 140.7L303.2 139.0L303.3 132.9L303.4 133.7L303.6 134.6L303.7 136.1L303.8 140.6L303.9 131.3L304.0 137.9L304.1 138.4L304.2 138.2L304.3 137.5L304.4 141.4L304.6 137.4L304.7 138.8L304.8 137.4L304.9 142.0L305.0 128.0L305.1 139.9L305.2 134.0L305.3 133.8L305.4 131.2L305.6 127.7L305.7 133.1L305.8 131.8L305.9 136.1L306.0 128.5L306.1 139.2L306.2 134.8L306.3 132.7L306.4 130.9L306.6 130.7L306.7 122.8L306.8 131.4L306.9 133.4L307.0 132.6L307.1 127.8L307.2 132.0L307.3 129.6L307.4 133.4L307.6 139.8L307.7 135.0L307.8 131.4L307.9 126.5L308.0 127.2L308.1 126.2L308.2 135.3L308.3 129.6L308.4 132.7L308.6 130.0L308.7 132.8L308.8 137.7L308.9 129.9L309.0 131.2L309.1 129.5L309.2 135.8L309.3 128.7L309.4 128.4L309.6 127.7L309.7 127.7L309.8 134.9L309.9 142.8L310.0 129.5L310.1 136.9L310.2 134.3L310.3 129.3L310.4 132.4L310.6 132.7L310.7 131.1L310.8 141.1L310.9 126.7L311.0 135.5L311.1 135.4L311.2 132.1L311.3 134.9L311.4 137.7L311.6 135.2L311.7 136.3L311.8 137.6L311.9 127.6L312.0 140.9L312.1 144.1L312.2 139.2L312.3 139.4L312.4 130.4L312.6 135.3L312.7 132.8L312.8 133.8L312.9 139.7L313.0 133.1L313.1 135.7L313.2 128.9L313.3 135.7L313.4 136.7L313.6 133.8L313.7 133.7L313.8 143.6L313.9 131.8L314.0 132.4L314.1 133.3L314.2 140.9L314.3 144.3L314.4 137.7L314.6 133.7L314.7 134.8L314.8 140.5L314.9 133.2L315.0 141.9L315.1 141.8L315.2 136.6L315.3 138.8L315.4 139.0L315.6 142.0L315.7 132.2L315.8 140.5L315.9 134.5L316.0 132.9L316.1 131.6L316.2 134.9L316.3 131.8L316.4 129.6L316.6 132.0L316.7 140.9L316.8 142.7L316.9 137.6L317.0 139.6L317.1 133.1L317.2 134.7L317.3 136.1L317.4 130.7L317.6 131.1L317.7 135.2L317.8 133.5L317.9 130.6L318.0 136.0L318.1 133.4L318.2 138.1L318.3 134.1L318.4 132.9L318.6 134.3L318.7 133.2L318.8 131.3L318.9 132.2L319.0 136.5L319.1 136.1L319.2 138.5L319.3 127.3L319.4 132.3L319.6 132.1L319.7 134.3L319.8 131.9L319.9 131.7L320.0 136.4L320.1 134.1L320.2 128.9L320.3 138.3L320.4 137.0L320.6 131.0L320.7 136.2L320.8 130.2L320.9 137.3L321.0 132.2L321.1 129.9L321.2 131.5L321.3 129.9L321.4 133.4L321.6 133.4L321.7 132.8L321.8 130.5L321.9 118.8L322.0 132.9L322.1 125.4L322.2 133.5L322.3 136.9L322.4 133.7L322.6 131.2L322.7 131.9L322.8 132.0L322.9 130.5L323.0 130.2L323.1 128.8L323.2 136.7L323.3 132.0L323.4 135.6L323.6 139.7L323.7 132.3L323.8 131.3L323.9 133.7L324.0 135.2L324.1 133.0L324.2 129.6L324.3 129.1L324.4 138.3L324.6 130.9L324.7 130.8L324.8 137.3L324.9 136.0L325.0 133.9L325.1 130.5L325.2 140.8L325.3 133.5L325.5 133.9L325.6 131.2L325.7 126.6L325.8 126.9L325.9 133.5L326.0 133.4L326.1 131.0L326.2 127.4L326.3 126.3L326.5 130.6L326.6 126.3L326.7 135.0L326.8 136.0L326.9 142.2L327.0 134.8L327.1 129.4L327.2 121.6L327.3 118.7L327.5 129.4L327.6 130.9L327.7 135.1L327.8 133.6L327.9 133.4L328.0 131.9L328.1 133.5L328.2 136.4L328.3 126.8L328.5 129.0L328.6 125.4L328.7 136.6L328.8 135.2L328.9 133.1L329.0 125.8L329.1 130.9L329.2 129.4L329.3 130.6L329.5 129.4L329.6 132.0L329.7 128.5L329.8 133.1L329.9 130.5L330.0 128.5L330.1 129.1L330.2 127.8L330.3 132.6L330.5 128.4L330.6 130.4L330.7 127.6L330.8 117.9L330.9 132.3L331.0 124.8L331.1 131.2L331.2 130.2L331.3 122.3L331.5 124.8L331.6 126.4L331.7 125.3L331.8 123.9L331.9 131.1L332.0 127.5L332.1 129.8L332.2 126.6L332.3 129.3L332.5 125.3L332.6 128.0L332.7 130.2L332.8 128.2L332.9 126.2L333.0 123.7L333.1 128.4L333.2 128.9L333.3 126.6L333.5 124.6L333.6 129.5L333.7 136.8L333.8 126.3L333.9 128.6L334.0 128.9L334.1 117.7L334.2 127.9L334.3 124.7L334.5 132.6L334.6 118.1L334.7 124.4L334.8 126.4L334.9 127.9L335.0 125.1L335.1 127.1L335.2 122.1L335.3 126.3L335.5 130.1L335.6 134.6L335.7 130.0L335.8 128.4L335.9 132.0L336.0 131.3L336.1 133.7L336.2 131.6L336.3 127.1L336.5 128.5L336.6 128.2L336.7 128.8L336.8 128.4L336.9 124.7L337.0 119.7L337.1 125.1L337.2 119.9L337.3 128.0L337.5 127.8L337.6 121.5L337.7 130.5L337.8 131.3L337.9 128.4L338.0 134.4L338.1 135.2L338.2 123.4L338.3 132.0L338.5 129.8L338.6 129.7L338.7 131.7L338.8 125.5L338.9 126.1L339.0 125.1L339.1 125.6L339.2 128.1L339.3 123.1L339.5 124.7L339.6 130.9L339.7 128.5L339.8 130.4L339.9 121.8L340.0 126.0L340.1 127.0L340.2 129.2L340.3 126.9L340.5 132.7L340.6 129.0L340.7 138.7L340.8 129.3L340.9 132.0L341.0 127.6L341.1 133.8L341.2 131.2L341.3 130.1L341.5 129.7L341.6 131.5L341.7 133.4L341.8 133.0L341.9 131.0L342.0 132.9L342.1 130.3L342.2 134.6L342.3 129.7L342.5 122.1L342.6 135.0L342.7 130.4L342.8 125.6L342.9 129.3L343.0 126.6L343.1 137.9L343.2 131.8L343.3 123.9L343.5 131.9L343.6 128.2L343.7 137.1L343.8 125.9L343.9 121.3L344.0 130.1L344.1 128.4L344.2 128.2L344.3 121.7L344.5 131.2L344.6 135.9L344.7 122.3L344.8 134.0L344.9 127.4L345.0 138.5L345.1 131.3L345.2 129.0L345.3 133.9L345.5 131.7L345.6 127.6L345.7 132.6L345.8 128.0L345.9 123.2L346.0 137.8L346.1 128.8L346.2 127.9L346.3 131.5L346.5 124.2L346.6 124.9L346.7 128.2L346.8 128.1L346.9 130.3L347.0 134.3L347.1 128.4L347.2 132.2L347.3 132.6L347.5 126.3L347.6 131.2L347.7 122.9L347.8 134.6L347.9 132.3L348.0 130.7L348.1 125.5L348.2 131.0L348.3 127.7L348.5 133.2L348.6 130.2L348.7 127.6L348.8 134.0L348.9 133.4L349.0 128.4L349.1 134.9L349.2 129.4L349.4 129.4L349.5 130.9L349.6 127.6L349.7 128.7L349.8 129.8L349.9 136.1L350.0 135.9L350.1 129.1L350.2 136.2L350.4 129.8L350.5 131.6L350.6 133.4L350.7 131.0L350.8 139.1L350.9 130.7L351.0 125.2L351.1 134.6L351.2 127.9L351.4 128.3L351.5 118.1L351.6 133.3L351.7 132.5L351.8 132.3L351.9 133.0L352.0 135.7L352.1 129.1L352.2 132.8L352.4 126.4L352.5 128.0L352.6 133.2L352.7 130.6L352.8 124.1L352.9 130.6L353.0 128.5L353.1 126.2L353.2 130.9L353.4 127.8L353.5 123.4L353.6 125.1L353.7 135.9L353.8 123.4L353.9 129.9L354.0 131.3L354.1 131.4L354.2 124.3L354.4 127.9L354.5 129.7L354.6 132.2L354.7 126.8L354.8 124.9L354.9 133.1L355.0 133.7L355.1 131.0L355.2 127.4L355.4 131.3L355.5 130.4L355.6 133.3L355.7 125.4L355.8 130.8L355.9 129.9L356.0 126.3L356.1 131.3L356.2 130.7L356.4 129.1L356.5 132.2L356.6 125.6L356.7 130.9L356.8 132.8L356.9 132.3L357.0 135.5L357.1 127.0L357.2 125.8L357.4 132.6L357.5 133.6L357.6 139.9L357.7 134.2L357.8 128.7L357.9 135.2L358.0 129.0L358.1 126.7L358.2 142.3L358.4 133.7L358.5 135.2L358.6 134.7L358.7 139.4L358.8 133.6L358.9 137.2L359.0 128.7L359.1 127.5L359.2 138.2L359.4 138.4L359.5 134.5L359.6 133.5L359.7 133.3L359.8 130.1L359.9 138.6L360.0 135.3L360.1 134.8L360.2 134.4L360.4 136.9L360.5 134.8L360.6 135.7L360.7 128.6L360.8 134.9L360.9 141.2L361.0 130.9L361.1 132.4L361.2 136.4L361.4 136.6L361.5 135.3L361.6 126.8L361.7 134.9L361.8 128.4L361.9 129.8L362.0 135.0L362.1 131.8L362.2 136.1L362.4 145.0L362.5 136.1L362.6 136.0L362.7 130.0L362.8 130.9L362.9 134.9L363.0 131.3L363.1 129.3L363.2 131.0L363.4 132.6L363.5 129.7L363.6 128.1L363.7 128.3L363.8 135.1L363.9 133.7L364.0 137.3L364.1 137.5L364.2 132.2L364.4 135.9L364.5 127.9L364.6 142.1L364.7 138.0L364.8 132.7L364.9 129.3L365.0 135.1L365.1 126.7L365.2 130.8L365.4 136.6L365.5 134.0L365.6 131.8L365.7 137.3L365.8 129.7L365.9 134.7L366.0 131.8L366.1 130.4L366.2 135.4L366.4 129.7L366.5 140.7L366.6 131.4L366.7 141.1L366.8 129.4L366.9 135.8L367.0 128.9L367.1 128.4L367.2 134.0L367.4 135.9L367.5 128.4L367.6 137.7L367.7 130.2L367.8 133.7L367.9 134.6L368.0 135.2L368.1 126.1L368.2 139.0L368.4 134.9L368.5 131.1L368.6 128.8L368.7 126.1L368.8 127.3L368.9 134.4L369.0 130.9L369.1 127.7L369.2 129.9L369.4 137.7L369.5 130.4L369.6 129.3L369.7 136.6L369.8 133.3L369.9 131.6L370.0 129.0L370.1 125.4L370.2 131.6L370.4 129.4L370.5 130.4L370.6 132.5L370.7 133.3L370.8 132.1L370.9 132.1L371.0 127.4L371.1 123.0L371.2 129.2L371.4 127.5L371.5 137.5L371.6 129.9L371.7 126.1L371.8 132.1L371.9 130.7L372.0 131.7L372.1 128.8L372.2 133.2L372.4 130.5L372.5 127.5L372.6 125.9L372.7 138.7L372.8 129.0L372.9 132.4L373.0 137.0L373.1 137.5L373.2 128.9L373.4 140.0L373.5 132.8L373.6 131.5L373.7 131.7L373.8 134.9L373.9 132.8L374.0 132.1L374.1 137.8L374.3 130.5L374.4 129.4L374.5 136.6L374.6 136.4L374.7 138.0L374.8 130.0L374.9 138.3L375.0 136.2L375.1 141.1L375.3 129.9L375.4 135.8L375.5 134.1L375.6 129.1L375.7 132.7L375.8 139.8L375.9 133.8L376.0 132.9L376.1 139.1L376.3 139.7L376.4 140.0L376.5 133.5L376.6 136.3L376.7 140.5L376.8 134.1L376.9 133.9L377.0 140.1L377.1 143.0L377.3 132.7L377.4 127.3L377.5 131.7L377.6 133.3L377.7 136.7L377.8 139.6L377.9 136.7L378.0 134.6L378.1 137.9L378.3 133.6L378.4 137.1L378.5 134.8L378.6 147.4L378.7 140.3L378.8 133.9L378.9 133.3L379.0 135.5L379.1 130.9L379.3 134.4L379.4 134.3L379.5 140.5L379.6 145.6L379.7 134.0L379.8 131.8L379.9 132.3L380.0 136.5L380.1 135.9L380.3 141.0L380.4 134.3L380.5 140.8L380.6 137.6L380.7 136.6L380.8 128.9L380.9 131.6L381.0 139.2L381.1 141.7L381.3 137.1L381.4 139.1L381.5 134.6L381.6 134.6L381.7 133.6L381.8 139.9L381.9 137.5L382.0 135.2L382.1 134.9L382.3 138.1L382.4 137.1L382.5 132.7L382.6 142.6L382.7 137.1L382.8 136.1L382.9 141.9L383.0 140.3L383.1 136.0L383.3 138.4L383.4 132.3L383.5 134.0L383.6 128.0L383.7 141.4L383.8 129.3L383.9 139.3L384.0 133.5L384.1 133.0L384.3 136.3L384.4 138.1L384.5 139.6L384.6 144.3L384.7 138.9L384.8 141.1L384.9 135.7L385.0 140.9L385.1 138.7L385.3 136.4L385.4 137.7L385.5 137.9L385.6 138.9L385.7 139.9L385.8 136.4L385.9 135.6L386.0 141.4L386.1 131.9L386.3 136.2L386.4 144.7L386.5 128.3L386.6 136.2L386.7 141.6L386.8 132.5L386.9 149.0L387.0 128.9L387.1 144.6L387.3 145.1L387.4 142.6L387.5 138.1L387.6 140.3L387.7 135.3L387.8 142.0L387.9 134.5L388.0 137.7L388.1 142.6L388.3 134.2L388.4 137.3L388.5 139.2L388.6 133.2L388.7 143.1L388.8 139.8L388.9 132.5L389.0 138.1L389.1 135.2L389.3 135.5L389.4 138.4L389.5 135.2L389.6 141.8L389.7 135.2L389.8 141.6L389.9 137.5L390.0 140.9L390.1 135.4L390.3 135.5L390.4 132.8L390.5 139.7L390.6 141.1L390.7 145.6L390.8 142.3L390.9 138.0L391.0 136.2L391.1 138.5L391.3 136.9L391.4 142.6L391.5 133.3L391.6 133.5L391.7 134.0L391.8 142.1L391.9 137.9L392.0 135.7L392.1 141.3L392.3 134.9L392.4 135.4L392.5 134.6L392.6 128.4L392.7 139.8L392.8 131.7L392.9 134.3L393.0 133.7L393.1 139.6L393.3 136.2L393.4 136.6L393.5 129.8L393.6 136.1L393.7 139.3L393.8 137.8L393.9 138.0L394.0 136.5L394.1 144.9L394.3 138.8L394.4 139.2L394.5 137.5L394.6 136.2L394.7 140.8L394.8 141.4L394.9 131.7L395.0 141.3L395.1 139.1L395.3 140.9L395.4 138.9L395.5 132.2L395.6 132.6L395.7 144.7L395.8 138.5L395.9 131.8L396.0 139.0L396.1 136.1L396.3 130.2L396.4 128.4L396.5 131.2L396.6 138.8L396.7 137.5L396.8 136.7L396.9 138.7L397.0 140.2L397.1 129.2L397.3 136.5L397.4 134.3L397.5 132.6L397.6 135.5L397.7 137.1L397.8 136.5L397.9 131.6L398.0 135.6L398.1 145.9L398.3 133.4L398.4 130.7L398.5 147.5L398.6 139.9L398.7 139.3L398.8 132.7L398.9 141.3L399.0 134.1L399.2 132.5L399.3 134.7L399.4 136.8L399.5 140.0L399.6 139.6L399.7 137.0L399.8 140.8L399.9 137.4L400.0 140.6L400.2 131.1L400.3 130.4L400.4 140.2L400.5 131.2L400.6 135.7L400.7 136.7L400.8 135.0L400.9 135.1L401.0 142.7L401.2 126.7L401.3 140.8L401.4 146.5L401.5 137.3L401.6 137.1L401.7 140.2L401.8 144.7L401.9 132.2L402.0 137.4L402.2 136.3L402.3 139.5L402.4 137.8L402.5 139.8L402.6 135.5L402.7 137.5L402.8 134.6L402.9 134.6L403.0 136.7L403.2 136.8L403.3 132.5L403.4 144.0L403.5 137.0L403.6 131.9L403.7 142.2L403.8 134.5L403.9 139.7L404.0 137.6L404.2 138.7L404.3 138.4L404.4 135.2L404.5 137.7L404.6 146.0L404.7 128.3L404.8 137.8L404.9 139.3L405.0 133.2L405.2 131.9L405.3 146.7L405.4 136.0L405.5 146.3L405.6 139.9L405.7 138.0L405.8 139.7L405.9 140.4L406.0 142.6L406.2 139.6L406.3 138.5L406.4 138.7L406.5 143.6L406.6 141.4L406.7 133.7L406.8 135.4L406.9 139.4L407.0 135.3L407.2 136.3L407.3 133.8L407.4 136.8L407.5 139.6L407.6 142.0L407.7 137.8L407.8 146.6L407.9 137.6L408.0 151.3L408.2 142.1L408.3 139.8L408.4 135.5L408.5 125.7L408.6 137.0L408.7 138.3L408.8 145.6L408.9 131.7L409.0 145.7L409.2 136.6L409.3 140.6L409.4 126.9L409.5 138.3L409.6 136.2L409.7 140.5L409.8 138.1L409.9 132.8L410.0 141.7L410.2 140.6L410.3 140.1L410.4 141.9L410.5 142.3L410.6 137.5L410.7 131.7L410.8 131.6L410.9 143.4L411.0 140.7L411.2 138.1L411.3 135.7L411.4 137.7L411.5 137.7L411.6 136.0L411.7 134.4L411.8 146.7L411.9 138.5L412.0 134.9L412.2 131.9L412.3 134.5L412.4 140.7L412.5 140.8L412.6 136.5L412.7 137.7L412.8 136.3L412.9 132.9L413.0 143.3L413.2 139.2L413.3 148.2L413.4 134.3L413.5 137.0L413.6 141.4L413.7 136.5L413.8 131.6L413.9 133.5L414.0 138.0L414.2 139.3L414.3 137.4L414.4 142.3L414.5 142.2L414.6 139.3L414.7 138.0L414.8 136.8L414.9 140.2L415.0 141.8L415.2 138.0L415.3 139.7L415.4 136.4L415.5 131.7L415.6 133.5L415.7 141.3L415.8 140.0L415.9 145.1L416.0 138.5L416.2 142.0L416.3 144.1L416.4 142.7L416.5 135.8L416.6 137.8L416.7 139.3L416.8 134.5L416.9 140.7L417.0 143.1L417.2 136.6L417.3 147.5L417.4 137.6L417.5 138.1L417.6 138.1L417.7 136.0L417.8 141.0L417.9 139.3L418.0 146.5L418.2 142.0L418.3 141.7L418.4 138.2L418.5 132.9L418.6 138.6L418.7 135.3L418.8 143.3L418.9 139.0L419.0 146.5L419.2 142.4L419.3 142.9L419.4 140.2L419.5 140.0L419.6 142.0L419.7 143.3L419.8 136.0L419.9 141.2L420.0 150.6L420.2 138.8L420.3 138.1L420.4 136.1L420.5 133.0L420.6 144.7L420.7 139.8L420.8 140.6L420.9 147.5L421.0 150.5L421.2 135.3L421.3 143.9L421.4 142.0L421.5 141.1L421.6 141.6L421.7 139.4L421.8 146.5L421.9 142.1L422.0 140.8L422.2 144.9L422.3 143.4L422.4 141.5L422.5 140.9L422.6 147.2L422.7 141.9L422.8 139.4L422.9 136.0L423.0 138.2L423.2 134.9L423.3 140.0L423.4 140.7L423.5 130.5L423.6 139.7L423.7 142.6L423.8 140.6L423.9 135.7L424.1 145.6L424.2 137.0L424.3 134.8L424.4 135.5L424.5 140.4L424.6 139.6L424.7 145.6L424.8 141.4L424.9 135.3L425.1 137.8L425.2 136.8L425.3 140.1L425.4 133.1L425.5 141.5L425.6 143.9L425.7 140.4L425.8 138.9L425.9 137.1L426.1 134.9L426.2 138.5L426.3 146.6L426.4 146.0L426.5 139.4L426.6 146.8L426.7 140.0L426.8 148.2L426.9 143.5L427.1 139.3L427.2 144.8L427.3 137.8L427.4 137.2L427.5 134.9L427.6 142.7L427.7 141.3L427.8 141.3L427.9 139.8L428.1 148.2L428.2 139.8L428.3 138.5L428.4 151.5L428.5 148.3L428.6 143.4L428.7 133.9L428.8 139.1L428.9 144.5L429.1 141.7L429.2 148.5L429.3 135.5L429.4 144.6L429.5 138.7L429.6 147.5L429.7 141.0L429.8 146.1L429.9 138.5L430.1 135.2L430.2 136.7L430.3 138.9L430.4 137.0L430.5 147.0L430.6 147.6L430.7 143.0L430.8 137.2L430.9 141.4L431.1 138.8L431.2 148.5L431.3 143.4L431.4 144.3L431.5 140.4L431.6 133.2L431.7 138.7L431.8 137.0L431.9 143.9L432.1 142.7L432.2 138.8L432.3 140.8L432.4 149.7L432.5 138.5L432.6 138.8L432.7 142.0L432.8 139.9L432.9 141.2L433.1 145.6L433.2 151.1L433.3 135.3L433.4 143.2L433.5 143.5L433.6 143.1L433.7 142.7L433.8 142.1L433.9 148.3L434.1 141.7L434.2 143.4L434.3 143.9L434.4 144.5L434.5 143.3L434.6 148.6L434.7 144.1L434.8 145.0L434.9 144.0L435.1 139.7L435.2 140.5L435.3 139.5L435.4 145.3L435.5 141.3L435.6 134.2L435.7 145.7L435.8 147.0L435.9 136.6L436.1 152.4L436.2 144.8L436.3 144.2L436.4 141.2L436.5 145.0L436.6 141.9L436.7 154.6L436.8 139.6L436.9 144.0L437.1 148.2L437.2 139.5L437.3 143.8L437.4 145.9L437.5 159.3L437.6 140.0L437.7 143.9L437.8 147.0L437.9 144.3L438.1 138.5L438.2 145.7L438.3 144.2L438.4 145.7L438.5 148.7L438.6 148.0L438.7 145.3L438.8 144.8L438.9 138.3L439.1 142.5L439.2 144.0L439.3 141.1L439.4 143.3L439.5 139.1L439.6 149.8L439.7 157.8L439.8 140.8L439.9 144.4L440.1 141.4L440.2 148.1L440.3 144.3L440.4 142.5L440.5 140.9L440.6 142.4L440.7 137.2L440.8 144.8L440.9 138.3L441.1 144.0L441.2 142.0L441.3 146.4L441.4 141.1L441.5 145.8L441.6 136.7L441.7 143.7L441.8 139.7L441.9 141.6L442.1 140.9L442.2 144.8L442.3 131.1L442.4 141.9L442.5 133.4L442.6 145.8L442.7 131.0L442.8 135.4L442.9 132.2L443.1 147.4L443.2 133.8L443.3 140.2L443.4 137.3L443.5 131.5L443.6 138.2L443.7 142.8L443.8 138.9L443.9 144.1L444.1 138.0L444.2 139.7L444.3 137.8L444.4 141.1L444.5 148.1L444.6 141.1L444.7 140.4L444.8 136.6L444.9 136.1L445.1 146.3L445.2 134.4L445.3 135.4L445.4 139.1L445.5 137.6L445.6 148.6L445.7 128.5L445.8 141.2L445.9 142.8L446.1 134.3L446.2 136.5L446.3 141.6L446.4 147.2L446.5 135.3L446.6 132.2L446.7 144.1L446.8 146.7L446.9 138.1L447.1 129.3L447.2 146.4L447.3 138.6L447.4 144.8L447.5 139.5L447.6 137.9L447.7 145.1L447.8 146.4L447.9 146.3L448.1 129.7L448.2 135.4L448.3 148.0L448.4 138.1L448.5 133.4L448.6 139.7L448.7 139.2L448.8 139.4L449.0 137.6L449.1 138.5L449.2 137.9L449.3 141.6L449.4 136.3L449.5 138.7L449.6 139.3L449.7 146.2L449.8 141.8L450.0 139.6L450.1 142.5L450.2 142.1L450.3 145.2L450.4 142.5L450.5 148.6L450.6 146.5L450.7 140.2L450.8 138.5L451.0 144.5L451.1 142.7L451.2 140.0L451.3 133.5L451.4 131.9L451.5 142.2L451.6 144.2L451.7 144.5L451.8 134.6L452.0 145.6L452.1 138.2L452.2 142.7L452.3 147.3L452.4 137.2L452.5 138.2L452.6 131.3L452.7 136.8L452.8 132.7L453.0 143.3L453.1 141.6L453.2 145.5L453.3 142.9L453.4 138.4L453.5 143.1L453.6 139.6L453.7 144.4L453.8 143.1L454.0 143.0L454.1 141.7L454.2 142.0L454.3 140.1L454.4 145.9L454.5 150.0L454.6 140.1L454.7 140.3L454.8 131.4L455.0 141.5L455.1 140.2L455.2 132.0L455.3 143.6L455.4 145.0L455.5 138.8L455.6 140.5L455.7 137.6L455.8 145.8L456.0 135.0L456.1 140.6L456.2 151.3L456.3 151.7L456.4 144.4L456.5 141.4L456.6 136.5L456.7 142.0L456.8 144.0L457.0 137.1L457.1 143.5L457.2 147.7L457.3 146.8L457.4 134.1L457.5 137.0L457.6 133.9L457.7 146.6L457.8 144.2L458.0 144.6L458.1 137.1L458.2 135.7L458.3 141.6L458.4 141.6L458.5 137.1L458.6 141.8L458.7 144.1L458.8 142.0L459.0 135.9L459.1 130.8L459.2 139.5L459.3 141.3L459.4 139.2L459.5 138.3L459.6 136.9L459.7 143.5L459.8 139.7L460.0 140.4L460.1 135.1L460.2 136.7L460.3 140.4L460.4 134.8L460.5 133.5L460.6 137.8L460.7 145.0L460.8 140.2L461.0 146.3L461.1 138.6L461.2 137.7L461.3 132.5L461.4 136.3L461.5 145.9L461.6 140.5L461.7 142.5L461.8 142.3L462.0 138.8L462.1 138.0L462.2 139.6L462.3 142.0L462.4 141.0L462.5 140.9L462.6 139.4L462.7 135.0L462.8 137.4L463.0 134.1L463.1 143.4L463.2 128.4L463.3 137.5L463.4 150.0L463.5 136.7L463.6 133.0L463.7 138.3L463.8 144.6L464.0 137.5L464.1 141.2L464.2 138.7L464.3 136.6L464.4 153.7L464.5 138.9L464.6 136.1L464.7 136.5L464.8 140.8L465.0 141.0L465.1 142.9L465.2 140.1L465.3 132.6L465.4 142.2L465.5 138.2L465.6 138.4L465.7 132.6L465.8 137.2L466.0 136.7L466.1 140.2L466.2 133.5L466.3 140.8L466.4 141.5L466.5 135.5L466.6 138.1L466.7 137.1L466.8 145.9L467.0 129.4L467.1 140.1L467.2 133.8L467.3 140.0L467.4 146.3L467.5 139.4L467.6 143.2L467.7 138.6L467.8 152.2L468.0 147.4L468.1 148.6L468.2 136.9L468.3 138.2L468.4 149.1L468.5 143.0L468.6 142.9L468.7 145.9L468.8 138.4L469.0 148.5L469.1 145.0L469.2 147.3L469.3 141.8L469.4 147.6L469.5 141.9L469.6 150.1L469.7 151.1L469.8 150.2L470.0 148.2L470.1 148.9L470.2 132.7L470.3 150.0L470.4 144.7L470.5 146.6L470.6 144.8L470.7 139.5L470.8 143.8L471.0 149.7L471.1 153.4L471.2 143.6L471.3 142.5L471.4 154.0L471.5 142.7L471.6 157.0L471.7 147.1L471.8 142.6L472.0 151.8L472.1 155.4L472.2 140.2L472.3 154.8L472.4 145.9L472.5 154.5L472.6 145.5L472.7 139.5L472.8 149.7L473.0 151.9L473.1 157.7L473.2 156.0L473.3 151.0L473.4 146.4L473.5 145.0L473.6 146.1L473.7 143.5L473.9 146.1L474.0 135.1L474.1 148.4L474.2 147.5L474.3 160.3L474.4 151.6L474.5 145.7L474.6 150.8L474.7 142.2L474.9 145.3L475.0 139.2L475.1 155.4L475.2 156.7L475.3 142.6L475.4 148.1L475.5 153.0L475.6 150.7L475.7 150.2L475.9 144.0L476.0 145.1L476.1 148.8L476.2 152.8L476.3 144.3L476.4 142.8L476.5 154.0L476.6 143.9L476.7 153.8L476.9 149.7L477.0 152.7L477.1 156.9L477.2 151.7L477.3 152.2L477.4 143.8L477.5 144.8L477.6 151.5L477.7 155.9L477.9 155.1L478.0 159.7L478.1 149.8L478.2 149.3L478.3 153.2L478.4 148.3L478.5 147.8L478.6 142.9L478.7 153.0L478.9 142.7L479.0 150.5L479.1 147.1L479.2 153.4L479.3 142.9L479.4 152.1L479.5 140.0L479.6 145.7L479.7 153.7L479.9 143.8L480.0 148.1L480.1 145.3L480.2 136.1L480.3 148.9L480.4 149.6L480.5 142.0L480.6 156.3L480.7 143.5L480.9 142.3L481.0 147.3L481.1 143.8L481.2 158.5L481.3 139.4L481.4 150.8L481.5 152.0L481.6 137.1L481.7 138.5L481.9 149.8L482.0 144.6L482.1 148.9L482.2 152.5L482.3 145.0L482.4 141.5L482.5 133.3L482.6 147.9L482.7 142.3L482.9 148.5L483.0 148.1L483.1 140.0L483.2 155.5L483.3 152.3L483.4 151.1L483.5 141.0L483.6 145.0L483.7 144.2L483.9 144.9L484.0 141.4L484.1 149.2L484.2 148.2L484.3 148.9L484.4 144.6L484.5 153.6L484.6 148.2L484.7 133.6L484.9 144.1L485.0 147.1L485.1 152.1L485.2 145.9L485.3 146.1" stroke="#ff0000" stroke-width="1" opacity="0.88"/>
<line x1="71.8" y1="14.2" x2="71.8" y2="48" stroke="#2ec4d0" stroke-width="2"/>
<line x1="71.8" y1="48" x2="71.8" y2="100" stroke="#1a90d0" stroke-width="2"/>
<line x1="73.6" y1="58" x2="73.6" y2="100" stroke="#ff3030" stroke-width="1"/>
<line x1="72.5" y1="96" x2="72.5" y2="168" stroke="#b01a3a" stroke-width="2"/>
<line x1="70.6" y1="160" x2="70.6" y2="206" stroke="#2020ff" stroke-width="1"/>
<line x1="73.5" y1="168" x2="73.5" y2="212" stroke="#20c0c8" stroke-width="1"/>
<line x1="72.2" y1="165" x2="72.2" y2="233.3" stroke="#ff1010" stroke-width="2"/>
</g>
<rect x="44.5" y="4.5" width="461.0" height="229.0" fill="none" stroke="#000" stroke-width="1"/>
<line x1="42.7" y1="223.1" x2="44.5" y2="223.1" stroke="#000" stroke-width="0.8"/>
<text x="40.7" y="227.6" font-size="13.8" text-anchor="end" textLength="19.7" lengthAdjust="spacingAndGlyphs" >0.0</text>
<line x1="42.7" y1="194.1" x2="44.5" y2="194.1" stroke="#000" stroke-width="0.8"/>
<text x="40.7" y="198.6" font-size="13.8" text-anchor="end" textLength="19.7" lengthAdjust="spacingAndGlyphs" >0.2</text>
<line x1="42.7" y1="165.2" x2="44.5" y2="165.2" stroke="#000" stroke-width="0.8"/>
<text x="40.7" y="169.7" font-size="13.8" text-anchor="end" textLength="19.7" lengthAdjust="spacingAndGlyphs" >0.4</text>
<line x1="42.7" y1="136.2" x2="44.5" y2="136.2" stroke="#000" stroke-width="0.8"/>
<text x="40.7" y="140.7" font-size="13.8" text-anchor="end" textLength="19.7" lengthAdjust="spacingAndGlyphs" >0.6</text>
<line x1="42.7" y1="107.2" x2="44.5" y2="107.2" stroke="#000" stroke-width="0.8"/>
<text x="40.7" y="111.7" font-size="13.8" text-anchor="end" textLength="19.7" lengthAdjust="spacingAndGlyphs" >0.8</text>
<line x1="42.7" y1="78.2" x2="44.5" y2="78.2" stroke="#000" stroke-width="0.8"/>
<text x="40.7" y="82.7" font-size="13.8" text-anchor="end" textLength="19.7" lengthAdjust="spacingAndGlyphs" >1.0</text>
<line x1="42.7" y1="49.3" x2="44.5" y2="49.3" stroke="#000" stroke-width="0.8"/>
<text x="40.7" y="53.8" font-size="13.8" text-anchor="end" textLength="19.7" lengthAdjust="spacingAndGlyphs" >1.2</text>
<line x1="42.7" y1="20.3" x2="44.5" y2="20.3" stroke="#000" stroke-width="0.8"/>
<text x="40.7" y="24.8" font-size="13.8" text-anchor="end" textLength="19.7" lengthAdjust="spacingAndGlyphs" >1.4</text>
<line x1="505.5" y1="233.5" x2="507.3" y2="233.5" stroke="#000" stroke-width="0.8"/>
<text x="509.4" y="238.3" font-size="13.8" text-anchor="start" textLength="16.3" lengthAdjust="spacingAndGlyphs" >65</text>
<line x1="505.5" y1="204.9" x2="507.3" y2="204.9" stroke="#000" stroke-width="0.8"/>
<text x="509.4" y="209.7" font-size="13.8" text-anchor="start" textLength="16.3" lengthAdjust="spacingAndGlyphs" >70</text>
<line x1="505.5" y1="176.2" x2="507.3" y2="176.2" stroke="#000" stroke-width="0.8"/>
<text x="509.4" y="181.1" font-size="13.8" text-anchor="start" textLength="16.3" lengthAdjust="spacingAndGlyphs" >75</text>
<line x1="505.5" y1="147.6" x2="507.3" y2="147.6" stroke="#000" stroke-width="0.8"/>
<text x="509.4" y="152.4" font-size="13.8" text-anchor="start" textLength="16.3" lengthAdjust="spacingAndGlyphs" >80</text>
<line x1="505.5" y1="119.0" x2="507.3" y2="119.0" stroke="#000" stroke-width="0.8"/>
<text x="509.4" y="123.8" font-size="13.8" text-anchor="start" textLength="16.3" lengthAdjust="spacingAndGlyphs" >85</text>
<line x1="505.5" y1="90.4" x2="507.3" y2="90.4" stroke="#000" stroke-width="0.8"/>
<text x="509.4" y="95.2" font-size="13.8" text-anchor="start" textLength="16.3" lengthAdjust="spacingAndGlyphs" >90</text>
<line x1="505.5" y1="61.8" x2="507.3" y2="61.8" stroke="#000" stroke-width="0.8"/>
<text x="509.4" y="66.5" font-size="13.8" text-anchor="start" textLength="16.3" lengthAdjust="spacingAndGlyphs" >95</text>
<line x1="505.5" y1="33.1" x2="507.3" y2="33.1" stroke="#000" stroke-width="0.8"/>
<text x="509.4" y="37.9" font-size="13.8" text-anchor="start" textLength="23.7" lengthAdjust="spacingAndGlyphs" >100</text>
<line x1="505.5" y1="4.5" x2="507.3" y2="4.5" stroke="#000" stroke-width="0.8"/>
<text x="509.4" y="9.3" font-size="13.8" text-anchor="start" textLength="23.7" lengthAdjust="spacingAndGlyphs" >105</text>
<line x1="65.3" y1="233.5" x2="65.3" y2="235.3" stroke="#000" stroke-width="0.8"/>
<text x="65.3" y="245.7" font-size="13.8" text-anchor="middle" textLength="8.1" lengthAdjust="spacingAndGlyphs" >0</text>
<line x1="117.8" y1="233.5" x2="117.8" y2="235.3" stroke="#000" stroke-width="0.8"/>
<text x="117.8" y="245.7" font-size="13.8" text-anchor="middle" textLength="32.3" lengthAdjust="spacingAndGlyphs" >2500</text>
<line x1="170.2" y1="233.5" x2="170.2" y2="235.3" stroke="#000" stroke-width="0.8"/>
<text x="170.2" y="245.7" font-size="13.8" text-anchor="middle" textLength="32.3" lengthAdjust="spacingAndGlyphs" >5000</text>
<line x1="222.7" y1="233.5" x2="222.7" y2="235.3" stroke="#000" stroke-width="0.8"/>
<text x="222.7" y="245.7" font-size="13.8" text-anchor="middle" textLength="32.3" lengthAdjust="spacingAndGlyphs" >7500</text>
<line x1="275.1" y1="233.5" x2="275.1" y2="235.3" stroke="#000" stroke-width="0.8"/>
<text x="275.1" y="245.7" font-size="13.8" text-anchor="middle" textLength="40.4" lengthAdjust="spacingAndGlyphs" >10000</text>
<line x1="327.6" y1="233.5" x2="327.6" y2="235.3" stroke="#000" stroke-width="0.8"/>
<text x="327.6" y="245.7" font-size="13.8" text-anchor="middle" textLength="40.4" lengthAdjust="spacingAndGlyphs" >12500</text>
<line x1="380.1" y1="233.5" x2="380.1" y2="235.3" stroke="#000" stroke-width="0.8"/>
<text x="380.1" y="245.7" font-size="13.8" text-anchor="middle" textLength="40.4" lengthAdjust="spacingAndGlyphs" >15000</text>
<line x1="432.5" y1="233.5" x2="432.5" y2="235.3" stroke="#000" stroke-width="0.8"/>
<text x="432.5" y="245.7" font-size="13.8" text-anchor="middle" textLength="40.4" lengthAdjust="spacingAndGlyphs" >17500</text>
<line x1="485.0" y1="233.5" x2="485.0" y2="235.3" stroke="#000" stroke-width="0.8"/>
<text x="485.0" y="245.7" font-size="13.8" text-anchor="middle" textLength="40.4" lengthAdjust="spacingAndGlyphs" >20000</text>
<text x="15.8" y="118.8" font-size="19.4" text-anchor="middle" textLength="34.0" lengthAdjust="spacingAndGlyphs" transform="rotate(-90 15.8 118.8)" >loss</text>
<text x="549.3" y="118.8" font-size="18.6" text-anchor="middle" textLength="83.5" lengthAdjust="spacingAndGlyphs" transform="rotate(-90 549.3 118.8)" >similarity</text>
<text x="274.6" y="264.7" font-size="18.6" text-anchor="middle" textLength="74.7" lengthAdjust="spacingAndGlyphs" >iteration</text>
<line x1="274.2" y1="28.1" x2="311.5" y2="28.1" stroke="#0000ff" stroke-width="1.1" opacity="0.65"/>
<line x1="274.2" y1="55.4" x2="311.5" y2="55.4" stroke="#00bfbf" stroke-width="1.1" opacity="0.8"/>
<line x1="274.2" y1="82.3" x2="311.5" y2="82.3" stroke="#ff0000" stroke-width="1.1" opacity="0.75"/>
<text x="326.3" y="34.9" font-size="18.6" text-anchor="start" textLength="161.7" lengthAdjust="spacingAndGlyphs" >discriminator_loss</text>
<text x="326.3" y="61.4" font-size="18.6" text-anchor="start" textLength="75.8" lengthAdjust="spacingAndGlyphs" >vae_loss</text>
<text x="326.3" y="88.5" font-size="18.6" text-anchor="start" textLength="148.4" lengthAdjust="spacingAndGlyphs" >similarity_metric</text>
<text x="178.9" y="308.2" font-size="25" text-anchor="start" textLength="195.6" lengthAdjust="spacingAndGlyphs" style='font-family:"Liberation Serif", serif;stroke-width:0' >(a) Training history</text>
<g clip-path="url(#cb)" fill="none" stroke-linejoin="round" stroke-width="1">
<path d="M61.2 451.2L62.3 454.7L63.5 450.1L64.6 497.0L65.8 443.2L66.7 487.9L67.6 532.5L69.2 465.0L70.1 452.4L71.0 418.0L72.0 415.1L73.0 412.2L74.2 407.5L75.4 404.9L77.0 411.4L77.8 407.3L78.7 403.3L80.3 409.8L81.1 395.1L82.3 391.4L83.6 390.2L85.2 391.8L86.8 382.0L87.7 378.8L89.3 384.5L90.5 382.4L91.7 382.9L92.6 382.5L93.4 386.9L94.5 386.0L95.5 387.5L96.6 382.8L97.9 384.6L99.3 390.7L100.6 389.4L101.9 384.1L103.2 384.6L104.5 382.8L105.5 381.0L106.5 379.7L107.4 381.8L108.4 380.2L109.4 379.3L110.4 379.1L111.4 378.4L112.4 378.9L113.4 382.8L114.3 377.4L115.3 381.6L116.3 381.5L117.3 383.8L118.2 379.8L119.2 382.2L120.2 377.6L121.2 377.9L122.3 378.4L123.3 379.7L124.4 377.4L125.4 378.9L126.5 378.4L127.5 378.9L128.6 376.2L129.6 377.6L130.7 376.3L131.7 378.7L132.8 375.4L133.8 377.7L134.9 379.1L135.9 378.9L137.0 377.2L138.0 379.6L139.1 379.5L140.1 375.9L141.2 376.3L142.2 377.3L143.3 376.3L144.3 377.7L145.4 379.2L146.4 378.9L147.4 378.1L148.5 378.2L149.5 376.6L150.6 378.9L151.6 376.3L152.7 377.9L153.9 375.3L155.0 376.3L156.0 378.3L157.1 382.9L158.1 378.7L159.2 382.9L160.2 381.5L161.3 386.9L162.3 382.8L163.4 385.3L164.4 380.9L165.5 385.4L166.5 388.4L167.6 387.7L168.6 388.5L169.7 388.0L170.7 388.1L171.7 389.6L172.8 389.6L173.8 388.6L174.9 386.7L175.9 386.8L176.9 388.2L177.9 390.2L178.9 391.4L179.9 393.3L180.9 390.3L181.9 388.0L182.8 388.3L183.8 386.8L184.8 385.6L185.9 386.8L186.9 385.5L188.0 385.6L189.0 388.1L190.1 386.1L191.1 385.1L192.2 387.9L193.2 382.8L194.3 381.5L195.3 383.1L196.4 381.9L197.4 381.3L198.5 380.0L199.5 380.2L200.6 381.2L201.7 380.7L202.8 377.2L203.8 380.6L204.9 378.8L206.0 378.9L207.3 379.5L208.7 385.4L209.7 386.8L210.6 391.9L211.6 395.0L212.6 395.9L213.9 389.9L215.2 384.1L216.2 386.5L217.3 386.1L218.3 382.3L219.4 383.3L220.4 385.4L221.5 386.5L222.5 384.9L223.6 386.8L224.6 394.3L225.7 403.8L227.0 401.7L228.3 398.5L229.2 407.3L230.1 416.9L231.1 405.3L232.2 395.9L233.2 394.2L234.2 400.8L235.2 395.5L236.2 398.5L237.2 402.2L238.3 409.2L239.3 411.6L240.4 406.3L241.4 401.2L242.4 398.3L243.5 396.7L244.5 399.3L245.6 397.3L246.6 394.6L247.7 404.0L248.7 417.6L249.8 432.6L250.9 415.4L251.9 395.9L252.6 406.4L253.9 405.3L255.2 398.5L256.5 416.9L257.9 406.2L259.2 397.2L260.5 403.5L261.8 406.4L263.1 398.5L264.4 395.9L265.3 388.5L266.2 386.8L267.2 386.6L268.3 390.7L269.6 402.1L270.9 411.6L272.2 419.8L273.6 427.3L274.9 409.0L276.2 388.1L277.5 387.7L278.8 393.3L279.9 393.6L280.9 388.1L281.8 401.1L282.7 415.5L284.0 404.4L285.3 384.1L286.6 391.8L288.0 398.5L289.3 399.4L290.6 406.4L291.9 399.8L293.2 393.3L294.5 402.3L295.8 414.2L296.8 410.4L297.8 401.6L298.7 396.8L299.7 388.1L301.0 399.8L302.4 414.2L303.5 402.9L304.7 394.4L305.8 384.1L306.7 390.2L307.6 395.9L308.6 393.0L309.7 394.2L310.7 392.0L311.8 396.2L313.0 395.8L314.1 398.5L315.4 388.1L316.4 387.3L317.5 388.1L318.1 443.0L319.1 442.4L320.2 444.5L321.2 443.6L322.3 444.8L323.3 444.3L324.3 446.0L325.4 443.3L326.4 443.1L327.5 442.8L328.5 443.0L329.6 445.9L330.6 443.3L331.7 443.9L332.7 443.5L333.8 444.3L334.8 443.6L335.8 440.5L336.7 435.5L337.7 435.2L338.7 436.5L339.6 435.3L340.6 436.3L341.6 433.9L342.9 438.7L344.2 441.7L345.5 435.8L346.9 430.0L348.2 428.9L349.5 431.3L350.5 433.7L351.5 432.6L352.5 435.4L353.5 432.4L354.5 434.5L355.5 435.2L356.5 435.7L357.4 434.3L358.4 434.9L359.4 433.9L360.4 433.9L361.4 434.1L362.3 438.0L363.3 436.5L364.6 421.1L365.9 411.6L367.2 410.1L368.6 406.4L369.9 402.4L371.2 401.2L372.5 397.2L373.3 432.6L374.3 443.0L375.4 437.9L376.4 432.6L377.4 432.4L378.4 434.8L379.3 434.5L380.3 436.5L381.3 436.0L382.3 432.1L383.3 431.7L384.3 432.6L385.3 433.3L386.2 435.6L387.2 434.1L388.2 436.5L389.2 439.1L390.3 434.3L391.3 435.5L392.4 430.2L393.4 432.6L394.4 432.2L395.4 433.5L396.4 434.5L397.4 437.8L398.7 435.4L400.0 438.4L401.0 436.3L401.9 434.3L402.9 434.5L403.9 435.8L404.9 431.6L405.9 431.1L406.8 431.4L407.8 430.6L408.8 427.0L409.8 433.2L410.8 433.3L411.8 430.6L412.8 428.7L413.8 428.7L414.7 429.3L415.7 430.6L416.7 434.7L417.6 431.5L418.6 435.5L419.8 434.0L421.1 433.2L422.3 436.7L423.5 436.5L424.7 438.2L425.9 435.3L427.2 439.2L428.4 437.5L429.6 438.0L430.9 436.5L432.1 439.1L433.3 438.4L434.5 440.6L435.7 440.6L436.8 439.3L438.0 440.7L439.2 438.4L440.4 438.6L441.6 439.3L442.7 442.1L443.9 439.0L445.1 439.4L446.3 438.0L447.5 437.3L448.6 438.5L449.8 436.2L451.0 439.4L452.0 436.1L452.9 434.1L453.9 434.5L455.1 434.2L456.4 432.1L457.6 434.3L458.8 434.5L460.0 434.3L461.2 435.5L462.3 435.7L463.5 436.4L464.7 433.5L465.7 433.7L466.6 432.4L467.6 435.5L468.8 436.1L470.1 434.7L471.3 432.5L472.5 432.5" stroke="#0000ff"/>
<path d="M61.5 300.0L62.3 406.5L63.5 388.6L64.8 370.6L65.6 402.4L66.6 300.0L68.1 300.0L69.3 355.0L70.6 410.0L72.2 460.4L73.2 460.7L74.2 461.6L75.2 457.0L76.8 469.5L77.8 470.7L78.8 470.0L79.9 471.6L80.9 471.8L82.0 469.7L83.0 474.2L84.1 468.2L85.1 468.0L86.2 469.2L87.2 471.8L88.3 470.5L89.3 469.4L90.4 474.0L91.4 473.1L92.4 475.9L93.5 471.9L94.5 476.7L95.6 478.1L96.6 477.1L97.7 479.8L98.7 476.9L99.8 476.9L100.8 475.2L101.9 474.5L102.9 476.3L104.0 478.6L105.0 477.3L106.1 475.6L107.1 477.1L108.2 476.5L109.2 479.5L110.3 473.4L111.3 474.0L112.4 474.5L113.5 473.8L114.6 477.6L115.7 474.1L116.9 475.3L118.0 476.3L119.1 477.7L120.2 477.1L121.3 478.4L122.5 475.5L123.6 475.7L124.7 475.4L125.8 480.1L127.0 477.8L128.1 478.4L129.2 478.2L130.3 477.3L131.4 474.2L132.6 473.4L133.7 473.7L134.8 478.5L135.9 474.5L137.0 474.1L138.2 475.8L139.3 473.3L140.4 479.8L141.5 475.6L142.7 472.9L143.8 475.8L144.9 473.9L146.0 474.1L147.1 474.2L148.3 470.7L149.4 471.3L150.5 469.6L151.6 467.9L152.7 468.7L153.9 468.1L155.0 469.2L156.0 468.9L157.1 469.1L158.1 466.1L159.2 464.5L160.2 464.0L161.3 467.5L162.3 462.6L163.4 461.2L164.4 456.2L165.5 457.4L166.5 458.0L167.4 452.1L168.4 455.6L169.4 452.2L170.4 451.2L171.5 448.2L172.5 446.3L173.6 446.2L174.6 444.3L175.9 448.2L177.3 453.5L178.4 447.1L179.6 448.4L180.7 443.0L181.6 453.5L182.5 469.2L183.5 469.6L184.4 469.7L185.4 473.8L186.4 471.8L187.4 469.7L188.5 474.6L189.5 474.2L190.6 469.0L191.6 474.5L192.6 469.1L193.6 467.4L194.6 463.8L195.6 462.7L196.6 464.4L197.6 466.3L198.5 468.4L199.5 467.9L200.6 466.0L201.7 467.5L202.8 465.6L203.8 466.2L204.9 464.5L206.0 464.0L207.0 462.0L208.0 459.5L209.0 459.0L210.0 456.1L211.0 457.6L211.9 457.0L212.9 456.4L213.9 461.3L214.9 461.1L215.9 458.7L216.8 455.3L217.8 453.5L218.8 459.5L219.8 461.3L220.8 465.1L221.8 469.2L222.8 467.2L223.9 468.8L224.9 468.4L226.0 463.7L227.0 462.7L228.0 459.3L228.9 460.0L229.9 457.4L230.9 453.5L231.9 456.6L232.9 455.0L233.8 459.9L234.8 461.3L235.8 460.0L236.8 457.6L237.8 457.2L238.8 454.8L239.8 455.4L240.9 457.1L241.9 457.2L243.0 457.5L244.0 458.7L245.0 459.9L246.1 455.0L247.1 454.3L248.2 453.1L249.2 449.6L250.3 450.2L251.5 453.7L252.6 456.1L253.9 458.6L255.2 464.0L256.5 458.5L257.9 453.5L259.2 454.1L260.5 458.7L261.8 462.2L263.1 462.7L264.1 458.8L265.2 452.8L266.2 450.9L267.2 421.0L268.3 389.4L269.6 445.7L270.9 456.1L272.2 444.6L273.6 436.5L274.5 442.6L275.4 453.5L276.5 456.9L277.7 458.8L278.8 461.3L279.8 461.4L280.8 465.2L281.7 466.1L282.7 466.6L283.7 466.0L284.6 466.4L285.6 464.2L286.6 462.7L287.6 466.5L288.6 466.6L289.6 468.2L290.6 469.2L291.6 463.4L292.7 466.6L293.7 469.4L294.8 464.1L295.8 464.0L296.8 464.9L297.9 465.4L298.9 464.1L300.0 469.2L301.0 469.2L302.1 471.4L303.1 470.0L304.2 465.7L305.2 463.6L306.3 464.0L307.4 464.0L308.5 466.7L309.6 466.0L310.6 468.9L311.7 468.9L312.8 469.2L313.9 466.7L314.9 466.4L316.0 467.9L317.5 398.5L318.6 401.3L319.6 402.7L320.7 402.5L321.7 401.3L322.6 402.4L323.6 398.5L324.6 397.2L325.9 401.4L327.2 406.4L328.5 396.6L329.8 386.8L331.1 395.0L332.5 401.2L333.8 394.7L335.1 395.9L336.0 414.5L336.9 432.6L337.9 443.4L339.0 453.5L340.1 443.0L341.1 435.2L342.0 413.5L342.9 394.6L343.9 423.6L344.8 448.3L345.9 451.5L346.9 456.1L347.9 450.4L348.9 445.7L350.2 445.3L351.5 441.7L352.9 437.1L354.2 436.5L355.5 446.7L356.8 448.3L358.1 445.8L359.4 445.7L360.4 446.0L361.4 445.9L362.3 448.6L363.3 450.9L364.6 445.4L365.9 443.0L367.2 447.5L368.6 453.5L369.9 453.0L371.2 456.1L372.2 446.9L373.3 445.7L374.3 398.5L375.9 397.2L376.9 401.4L378.0 402.9L379.0 403.8L380.3 407.6L381.6 409.0L383.0 408.7L384.3 406.4L385.6 418.2L386.9 413.4L388.2 406.4L389.5 406.5L390.8 409.0L392.1 456.1L393.4 461.1L394.7 456.1L395.9 451.1L397.0 448.0L398.0 443.4L399.0 446.5L400.0 440.4L401.0 444.7L402.0 450.2L403.0 451.3L403.9 450.4L404.9 453.1L405.9 454.0L406.8 456.6L407.8 457.1L408.8 455.4L409.8 450.4L410.8 450.2L411.8 454.5L412.7 456.1L413.7 455.8L414.7 455.4L415.7 460.6L416.7 460.0L417.7 459.3L418.6 457.0L419.6 456.1L420.6 451.5L421.5 450.9L422.5 446.3L423.5 443.9L424.5 442.4L425.5 441.9L426.5 444.6L427.5 444.3L428.5 443.6L429.4 439.8L430.4 442.8L431.4 439.4L432.4 434.4L433.4 433.6L434.3 433.4L435.3 430.6L436.3 433.4L437.3 436.5L438.3 436.4L439.2 434.6L440.2 428.1L441.2 430.6L442.2 434.5L443.1 433.0L444.1 435.5L445.1 434.8L446.1 432.7L447.0 431.4L448.0 432.5L449.0 431.4L450.0 428.8L451.0 425.7L451.9 431.1L452.9 435.5L453.9 437.4L454.9 444.1L455.9 444.3L456.9 447.6L457.8 450.6L458.8 452.2L459.8 450.9L460.8 449.8L461.7 449.8L462.7 446.3L463.7 447.6L464.7 447.2L465.7 445.0L466.7 444.3L467.7 442.6L468.6 438.4L469.6 438.4L470.6 440.8L471.5 442.8L472.5 446.3" stroke="#008000"/>
<path d="M61.2 332.2L62.3 332.4L63.4 332.6L64.5 332.9L65.6 333.1L66.4 333.4L67.4 333.6L67.4 497.0L68.9 335.5L70.5 337.1L72.1 342.9L72.9 344.6L73.8 349.4L75.4 358.4L77.0 360.0L77.9 373.0L79.5 359.2L80.7 361.7L81.9 364.1L82.8 361.8L83.6 359.2L84.8 362.8L86.0 369.0L86.8 368.3L87.7 373.9L89.3 377.1L90.9 373.9L92.2 375.9L93.4 378.8L95.0 375.5L96.6 382.8L97.9 381.6L99.3 380.2L100.6 375.6L101.9 369.7L102.9 367.1L103.8 365.3L104.8 363.3L105.8 365.8L107.1 363.2L108.4 360.6L109.7 361.5L111.0 364.5L112.3 366.9L113.7 367.1L115.0 366.4L116.3 371.0L117.6 377.5L118.9 378.9L119.9 377.6L120.8 376.6L121.8 376.3L122.8 375.0L124.1 375.7L125.4 373.7L126.8 375.2L128.1 373.7L129.4 369.6L130.7 372.4L132.0 372.6L133.3 375.0L134.6 373.9L135.9 371.0L137.2 373.5L138.5 373.7L139.8 372.8L141.2 371.0L142.5 372.0L143.8 376.3L144.8 376.6L145.9 374.9L146.9 374.8L148.0 376.6L149.0 373.7L150.0 374.2L150.9 375.9L151.9 378.4L152.9 376.3L153.9 376.3L155.0 372.4L156.3 371.3L157.6 375.0L158.9 371.0L160.2 371.0L161.6 369.2L162.9 375.0L163.9 376.4L164.9 373.4L165.8 372.0L166.8 372.4L168.1 374.2L169.4 376.3L170.4 372.4L171.4 374.1L172.3 369.7L173.3 369.7L174.6 374.1L175.9 375.0L177.2 378.1L178.6 380.2L179.9 382.7L181.2 385.4L182.2 385.8L183.1 383.6L184.1 383.4L185.1 382.8L186.4 381.2L187.7 375.0L189.0 380.2L190.3 378.9L191.3 379.0L192.3 379.6L193.3 373.0L194.3 375.0L195.3 375.0L196.2 374.3L197.2 373.2L198.2 373.7L199.5 378.6L200.8 381.5L201.8 385.5L202.8 383.2L203.7 384.6L204.7 382.8L205.7 386.8L206.7 388.0L207.7 387.0L208.7 388.1L210.0 389.0L211.3 392.0L212.6 389.6L213.9 382.8L214.9 383.5L215.9 380.1L216.8 383.0L217.8 378.9L218.8 377.4L219.8 376.7L220.8 378.9L221.8 378.9L222.8 377.8L223.8 381.3L224.7 382.8L225.7 384.1L226.7 382.1L227.6 382.4L228.6 378.9L229.6 380.2L230.6 374.1L231.6 377.9L232.5 376.2L233.5 372.4L234.8 376.0L236.2 376.3L237.5 371.0L238.8 367.1L240.1 373.3L241.4 377.6L242.4 378.4L243.4 382.5L244.3 379.4L245.3 382.8L246.3 384.8L247.2 384.7L248.2 388.2L249.2 388.1L250.0 381.5L251.0 380.4L251.9 375.6L252.9 377.1L253.9 376.3L255.2 379.1L256.5 385.4L257.9 381.1L259.2 375.0L260.5 379.9L261.8 381.5L263.1 374.8L264.4 372.4L265.3 379.1L266.2 384.1L267.3 378.8L268.5 376.3L269.6 373.7L270.6 375.4L271.6 378.7L272.6 378.6L273.6 378.9L274.9 380.9L276.2 380.2L277.2 380.4L278.1 382.0L279.1 384.4L280.1 384.1L281.4 382.5L282.7 380.2L283.8 379.8L284.8 379.5L285.9 381.1L286.9 379.7L288.0 376.3L289.0 379.7L289.9 378.4L290.9 376.9L291.9 378.9L292.9 376.2L293.9 378.0L294.8 375.2L295.8 376.3L297.1 370.1L298.4 371.0L299.7 375.1L301.0 380.2L302.0 383.2L303.0 377.7L304.0 376.7L305.0 375.0L306.0 375.3L306.9 376.1L307.9 373.6L308.9 376.3L309.9 376.3L310.9 376.6L311.8 375.0L312.8 373.7L314.1 379.6L315.4 384.1L316.4 375.1L317.5 365.8L318.6 369.9L319.6 369.1L320.7 373.7L322.0 371.4L323.3 376.3L324.3 376.8L325.2 379.0L326.2 381.5L327.2 381.5L328.3 376.3L329.5 374.1L330.6 369.7L331.7 372.4L332.7 376.4L333.8 377.6L334.8 376.3L335.9 377.9L336.9 377.6L338.0 375.1L339.0 375.0L340.0 375.5L340.9 375.6L341.9 375.7L342.9 377.6L344.2 379.1L345.5 382.8L346.6 380.9L347.6 382.8L348.9 382.3L350.2 378.9L351.5 381.1L352.9 381.5L354.2 378.8L355.5 376.3L356.8 377.9L358.1 378.9L359.4 375.8L360.7 372.4L362.0 376.6L363.3 375.0L364.6 380.7L365.9 382.8L367.2 380.3L368.6 378.9L369.9 384.9L371.2 388.1L372.5 395.9L373.8 387.7L375.1 385.4L376.4 381.3L377.7 378.9L378.7 378.9L379.6 382.2L380.6 381.9L381.6 384.1L383.0 381.4L384.3 381.5L385.6 383.5L386.9 388.1L388.2 382.9L389.5 382.8L390.8 378.5L392.1 378.9L393.4 384.4L394.7 393.3L396.0 391.5L397.4 388.1L398.7 388.4L400.0 387.5L401.0 388.3L401.9 389.4L402.9 385.5L403.9 384.8L404.9 380.6L405.9 379.7L406.9 385.5L407.9 388.0L408.8 395.6L409.8 396.3L410.8 389.8L411.8 382.5L412.8 387.7L413.7 391.4L414.7 386.0L415.7 379.6L416.6 378.1L417.6 381.6L418.6 375.7L419.6 391.4L420.6 389.3L421.6 385.5L422.6 384.8L423.5 384.5L424.5 388.1L425.5 395.3L426.5 393.1L427.5 389.4L428.4 397.0L429.4 398.2L430.4 398.3L431.4 396.6L432.4 399.2L433.4 399.5L434.3 400.2L435.3 393.7L436.3 390.4L437.3 389.2L438.2 396.1L439.2 400.2L440.2 397.1L441.2 392.4L442.2 389.3L443.1 389.6L444.1 388.4L445.1 392.1L446.1 396.3L447.1 397.1L448.0 398.9L449.0 401.2L450.0 394.4L451.0 388.2L452.0 382.5L452.9 391.4L454.2 383.8L455.5 376.7L456.9 403.1L457.9 402.1L458.8 399.2L459.8 403.2L460.8 407.5L461.8 413.9L462.8 409.0L463.7 402.2L464.7 402.4L465.7 405.1L466.6 405.6L467.6 398.2L468.6 395.5L469.6 397.4L470.6 391.4L471.6 395.3L472.5 398.2" stroke="#ff0000"/>
</g>
<path d="M41.1 547.1L41.1 322.9L492.7 322.9M41.1 547.1L492.7 547.1" fill="none" stroke="#404040" stroke-width="1.8"/>
<line x1="492.5" y1="322.0" x2="492.5" y2="548.0" stroke="#333" stroke-width="1"/>
<line x1="39.300000000000004" y1="533.3" x2="41.1" y2="533.3" stroke="#404040" stroke-width="0.8"/>
<text x="37.7" y="537.2" font-size="12.2" text-anchor="end" textLength="16.8" lengthAdjust="spacingAndGlyphs" >0.3</text>
<line x1="39.300000000000004" y1="503.3" x2="41.1" y2="503.3" stroke="#404040" stroke-width="0.8"/>
<text x="37.7" y="507.2" font-size="12.2" text-anchor="end" textLength="16.8" lengthAdjust="spacingAndGlyphs" >0.4</text>
<line x1="39.300000000000004" y1="473.2" x2="41.1" y2="473.2" stroke="#404040" stroke-width="0.8"/>
<text x="37.7" y="477.1" font-size="12.2" text-anchor="end" textLength="16.8" lengthAdjust="spacingAndGlyphs" >0.5</text>
<line x1="39.300000000000004" y1="443.1" x2="41.1" y2="443.1" stroke="#404040" stroke-width="0.8"/>
<text x="37.7" y="447.0" font-size="12.2" text-anchor="end" textLength="16.8" lengthAdjust="spacingAndGlyphs" >0.6</text>
<line x1="39.300000000000004" y1="413.1" x2="41.1" y2="413.1" stroke="#404040" stroke-width="0.8"/>
<text x="37.7" y="417.0" font-size="12.2" text-anchor="end" textLength="16.8" lengthAdjust="spacingAndGlyphs" >0.7</text>
<line x1="39.300000000000004" y1="383.0" x2="41.1" y2="383.0" stroke="#404040" stroke-width="0.8"/>
<text x="37.7" y="386.9" font-size="12.2" text-anchor="end" textLength="16.8" lengthAdjust="spacingAndGlyphs" >0.8</text>
<line x1="39.300000000000004" y1="353.0" x2="41.1" y2="353.0" stroke="#404040" stroke-width="0.8"/>
<text x="37.7" y="356.9" font-size="12.2" text-anchor="end" textLength="16.8" lengthAdjust="spacingAndGlyphs" >0.9</text>
<line x1="39.300000000000004" y1="322.9" x2="41.1" y2="322.9" stroke="#404040" stroke-width="0.8"/>
<text x="37.7" y="326.8" font-size="12.2" text-anchor="end" textLength="16.8" lengthAdjust="spacingAndGlyphs" >1.0</text>
<line x1="492.7" y1="533.1" x2="494.5" y2="533.1" stroke="#404040" stroke-width="0.8"/>
<text x="495.9" y="537.2" font-size="12.2" text-anchor="start" textLength="6.6" lengthAdjust="spacingAndGlyphs" >1</text>
<line x1="492.7" y1="503.0" x2="494.5" y2="503.0" stroke="#404040" stroke-width="0.8"/>
<text x="495.9" y="507.1" font-size="12.2" text-anchor="start" textLength="6.6" lengthAdjust="spacingAndGlyphs" >2</text>
<line x1="492.7" y1="473.0" x2="494.5" y2="473.0" stroke="#404040" stroke-width="0.8"/>
<text x="495.9" y="477.1" font-size="12.2" text-anchor="start" textLength="6.6" lengthAdjust="spacingAndGlyphs" >3</text>
<line x1="492.7" y1="443.0" x2="494.5" y2="443.0" stroke="#404040" stroke-width="0.8"/>
<text x="495.9" y="447.1" font-size="12.2" text-anchor="start" textLength="6.6" lengthAdjust="spacingAndGlyphs" >4</text>
<line x1="492.7" y1="412.9" x2="494.5" y2="412.9" stroke="#404040" stroke-width="0.8"/>
<text x="495.9" y="417.0" font-size="12.2" text-anchor="start" textLength="6.6" lengthAdjust="spacingAndGlyphs" >5</text>
<line x1="492.7" y1="382.9" x2="494.5" y2="382.9" stroke="#404040" stroke-width="0.8"/>
<text x="495.9" y="387.0" font-size="12.2" text-anchor="start" textLength="6.6" lengthAdjust="spacingAndGlyphs" >6</text>
<line x1="492.7" y1="352.8" x2="494.5" y2="352.8" stroke="#404040" stroke-width="0.8"/>
<text x="495.9" y="356.9" font-size="12.2" text-anchor="start" textLength="6.6" lengthAdjust="spacingAndGlyphs" >7</text>
<line x1="492.7" y1="322.8" x2="494.5" y2="322.8" stroke="#404040" stroke-width="0.8"/>
<text x="495.9" y="326.9" font-size="12.2" text-anchor="start" textLength="6.6" lengthAdjust="spacingAndGlyphs" >8</text>
<line x1="516.5" y1="322.4" x2="516.5" y2="547.6" stroke="#555" stroke-width="1"/>
<line x1="516.5" y1="547.1" x2="518.6" y2="547.1" stroke="#555" stroke-width="0.8"/>
<text x="520.0" y="551.2" font-size="12.2" text-anchor="start" textLength="13.1" lengthAdjust="spacingAndGlyphs" >60</text>
<line x1="516.5" y1="509.7" x2="518.6" y2="509.7" stroke="#555" stroke-width="0.8"/>
<text x="520.0" y="513.8" font-size="12.2" text-anchor="start" textLength="13.1" lengthAdjust="spacingAndGlyphs" >65</text>
<line x1="516.5" y1="472.4" x2="518.6" y2="472.4" stroke="#555" stroke-width="0.8"/>
<text x="520.0" y="476.5" font-size="12.2" text-anchor="start" textLength="13.1" lengthAdjust="spacingAndGlyphs" >70</text>
<line x1="516.5" y1="435.0" x2="518.6" y2="435.0" stroke="#555" stroke-width="0.8"/>
<text x="520.0" y="439.1" font-size="12.2" text-anchor="start" textLength="13.1" lengthAdjust="spacingAndGlyphs" >75</text>
<line x1="516.5" y1="397.6" x2="518.6" y2="397.6" stroke="#555" stroke-width="0.8"/>
<text x="520.0" y="401.7" font-size="12.2" text-anchor="start" textLength="13.1" lengthAdjust="spacingAndGlyphs" >80</text>
<line x1="516.5" y1="360.3" x2="518.6" y2="360.3" stroke="#555" stroke-width="0.8"/>
<text x="520.0" y="364.4" font-size="12.2" text-anchor="start" textLength="13.1" lengthAdjust="spacingAndGlyphs" >85</text>
<line x1="516.5" y1="322.9" x2="518.6" y2="322.9" stroke="#555" stroke-width="0.8"/>
<text x="520.0" y="327.0" font-size="12.2" text-anchor="start" textLength="13.1" lengthAdjust="spacingAndGlyphs" >90</text>
<line x1="61.7" y1="547.1" x2="61.7" y2="548.9" stroke="#404040" stroke-width="0.8"/>
<text x="61.7" y="559.4" font-size="12.2" text-anchor="middle" textLength="7.0" lengthAdjust="spacingAndGlyphs" >0</text>
<line x1="113.1" y1="547.1" x2="113.1" y2="548.9" stroke="#404040" stroke-width="0.8"/>
<text x="113.1" y="559.4" font-size="12.2" text-anchor="middle" textLength="28.2" lengthAdjust="spacingAndGlyphs" >2500</text>
<line x1="164.4" y1="547.1" x2="164.4" y2="548.9" stroke="#404040" stroke-width="0.8"/>
<text x="164.4" y="559.4" font-size="12.2" text-anchor="middle" textLength="28.2" lengthAdjust="spacingAndGlyphs" >5000</text>
<line x1="215.8" y1="547.1" x2="215.8" y2="548.9" stroke="#404040" stroke-width="0.8"/>
<text x="215.8" y="559.4" font-size="12.2" text-anchor="middle" textLength="28.2" lengthAdjust="spacingAndGlyphs" >7500</text>
<line x1="267.2" y1="547.1" x2="267.2" y2="548.9" stroke="#404040" stroke-width="0.8"/>
<text x="267.2" y="559.4" font-size="12.2" text-anchor="middle" textLength="35.2" lengthAdjust="spacingAndGlyphs" >10000</text>
<line x1="318.6" y1="547.1" x2="318.6" y2="548.9" stroke="#404040" stroke-width="0.8"/>
<text x="318.6" y="559.4" font-size="12.2" text-anchor="middle" textLength="35.2" lengthAdjust="spacingAndGlyphs" >12500</text>
<line x1="369.9" y1="547.1" x2="369.9" y2="548.9" stroke="#404040" stroke-width="0.8"/>
<text x="369.9" y="559.4" font-size="12.2" text-anchor="middle" textLength="35.2" lengthAdjust="spacingAndGlyphs" >15000</text>
<line x1="421.3" y1="547.1" x2="421.3" y2="548.9" stroke="#404040" stroke-width="0.8"/>
<text x="421.3" y="559.4" font-size="12.2" text-anchor="middle" textLength="35.2" lengthAdjust="spacingAndGlyphs" >17500</text>
<line x1="472.7" y1="547.1" x2="472.7" y2="548.9" stroke="#404040" stroke-width="0.8"/>
<text x="472.7" y="559.4" font-size="12.2" text-anchor="middle" textLength="35.2" lengthAdjust="spacingAndGlyphs" >20000</text>
<text x="15.2" y="435.5" font-size="18.6" text-anchor="middle" textLength="41.7" lengthAdjust="spacingAndGlyphs" transform="rotate(-90 15.2 435.5)" >SSIM</text>
<text x="518.1" y="434.6" font-size="18.6" text-anchor="middle" textLength="39.2" lengthAdjust="spacingAndGlyphs" transform="rotate(-90 518.1 434.6)" >DTW</text>
<text x="548.6" y="435.1" font-size="18.6" text-anchor="middle" textLength="148.5" lengthAdjust="spacingAndGlyphs" transform="rotate(-90 548.6 435.1)" >similarity_metric</text>
<text x="266.4" y="575.5" font-size="18.6" text-anchor="middle" textLength="74.5" lengthAdjust="spacingAndGlyphs" >iteration</text>
<line x1="277.8" y1="468.3" x2="314.2" y2="468.3" stroke="#0000ff" stroke-width="1.3" opacity="1"/>
<line x1="277.8" y1="494.3" x2="314.2" y2="494.3" stroke="#008000" stroke-width="1.3" opacity="0.85"/>
<line x1="277.8" y1="520.7" x2="314.2" y2="520.7" stroke="#ff0000" stroke-width="1.3" opacity="0.6"/>
<text x="328.1" y="474.9" font-size="18.6" text-anchor="start" textLength="35.5" lengthAdjust="spacingAndGlyphs" >ssim</text>
<text x="328.1" y="500.6" font-size="18.6" text-anchor="start" textLength="33.5" lengthAdjust="spacingAndGlyphs" >dtw</text>
<text x="328.1" y="526.8" font-size="18.6" text-anchor="start" textLength="146.5" lengthAdjust="spacingAndGlyphs" >similarity_metric</text>
<text x="39.9" y="619.4" font-size="25" text-anchor="start" textLength="475.0" lengthAdjust="spacingAndGlyphs" style='font-family:"Liberation Serif", serif;stroke-width:0' >(b) Reconstruction of a test set during training</text>
</svg>
</body></html>
